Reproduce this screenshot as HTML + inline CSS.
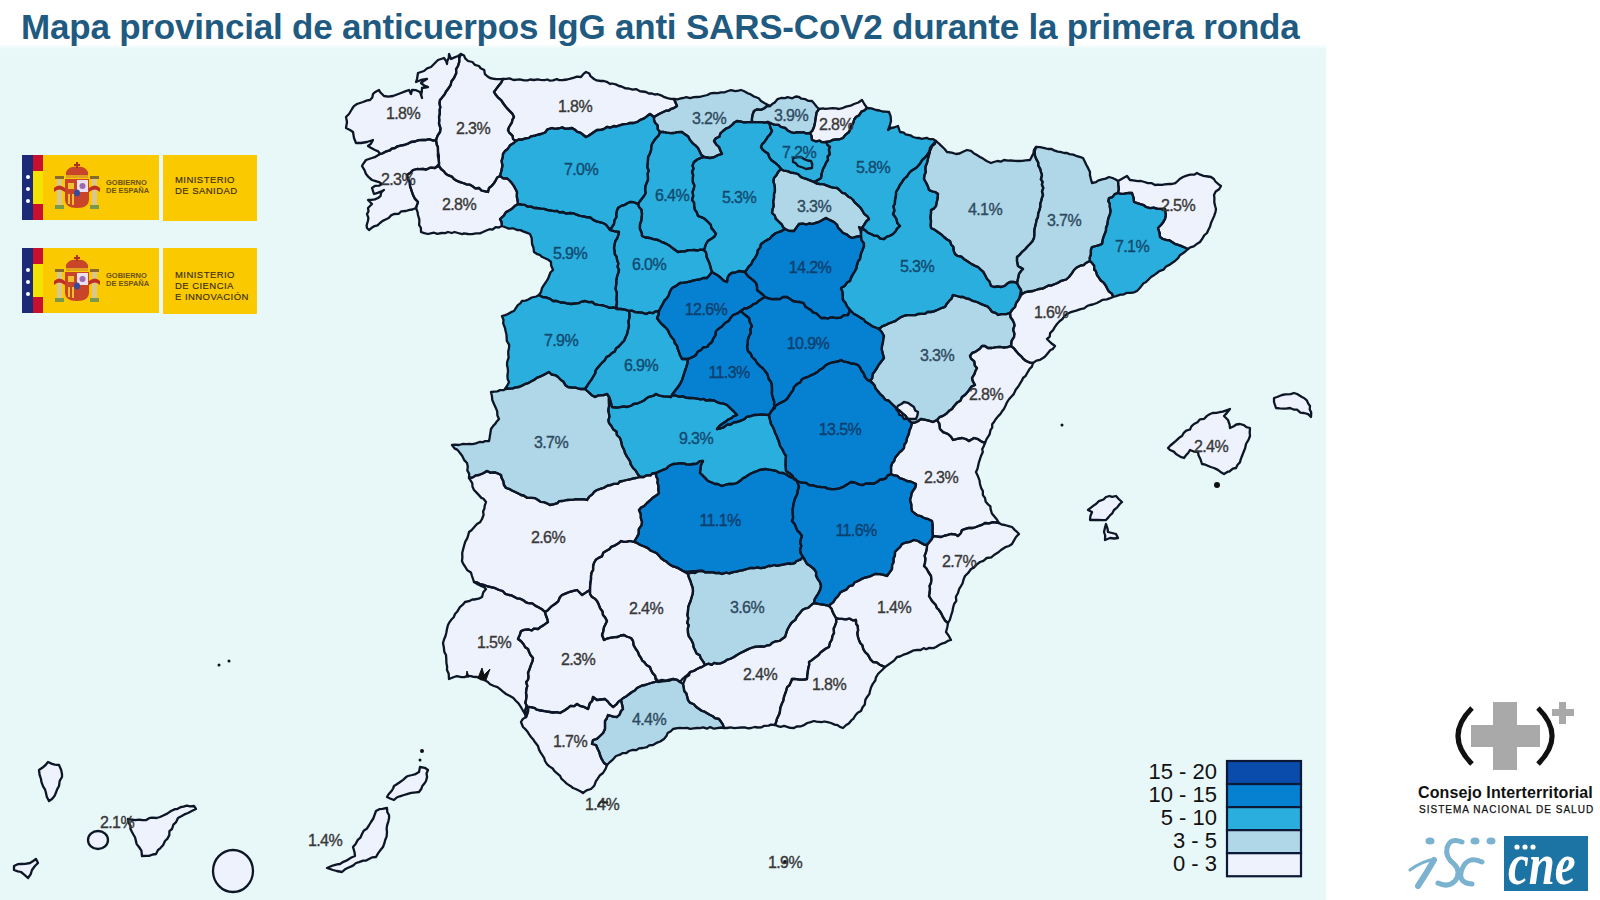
<!DOCTYPE html>
<html><head><meta charset="utf-8"><style>
html,body{margin:0;padding:0;width:1600px;height:900px;overflow:hidden;background:#fff;font-family:"Liberation Sans",sans-serif}
</style></head><body>
<div style="position:absolute;left:0;top:44px;width:1326px;height:856px;background:linear-gradient(#ffffff 0px,#e8f7f8 5px)"></div>
<div style="position:absolute;left:21px;top:7px;font-size:35px;line-height:40px;font-weight:bold;color:#1f5a80;white-space:nowrap;letter-spacing:-0.2px">Mapa provincial de anticuerpos IgG anti SARS-CoV2 durante la primera ronda</div>
<div style="position:absolute;left:22px;top:155px;width:11px;height:65px;background:#1d2a78"></div>
<div style="position:absolute;left:33px;top:155px;width:10px;height:65px;background:#f4e200"></div>
<div style="position:absolute;left:33px;top:155px;width:10px;height:16px;background:#c8102e"></div>
<div style="position:absolute;left:33px;top:204px;width:10px;height:16px;background:#c8102e"></div>
<div style="position:absolute;left:26px;top:175px;width:4px;height:4px;border-radius:2px;background:#fff"></div>
<div style="position:absolute;left:26px;top:187px;width:4px;height:4px;border-radius:2px;background:#fff"></div>
<div style="position:absolute;left:26px;top:199px;width:4px;height:4px;border-radius:2px;background:#fff"></div>
<div style="position:absolute;left:43px;top:155px;width:116px;height:65px;background:#fbc900"></div>
<div style="position:absolute;left:163px;top:155px;width:94px;height:66px;background:#fbc900"></div>
<svg style="position:absolute;left:54px;top:155px" width="50" height="60" viewBox="0 0 50 60">
<path d="M12 23 L12 17 Q15 11 23 12 Q31 11 34 17 L34 23 Z" fill="#c8452a"/>
<rect x="22" y="7" width="2" height="6" fill="#b03020"/><rect x="20" y="9" width="6" height="2" fill="#b03020"/>
<rect x="12" y="20" width="22" height="3" fill="#e0a020"/>
<path d="M11 24 H35 V44 Q35 53 23 53 Q11 53 11 44 Z" fill="#c8452a"/>
<rect x="23" y="25" width="11" height="12" fill="#ece0ec"/>
<circle cx="28.5" cy="31" r="3" fill="#9a6ab0"/>
<rect x="14" y="28" width="6" height="6" fill="#f0c030"/>
<rect x="14" y="39" width="2" height="10" fill="#f0c030"/><rect x="18" y="39" width="2" height="11" fill="#f0c030"/>
<ellipse cx="23" cy="38" rx="3" ry="3.5" fill="#3a4a9a"/>
<rect x="3" y="24" width="5" height="26" fill="#d8c890"/><rect x="1" y="21" width="9" height="3" fill="#8a6a2a"/><rect x="1" y="50" width="9" height="4" fill="#7a9a4a"/>
<rect x="38" y="24" width="5" height="26" fill="#d8c890"/><rect x="36" y="21" width="9" height="3" fill="#8a6a2a"/><rect x="36" y="50" width="9" height="4" fill="#7a9a4a"/>
<path d="M0 33 Q5 28 11 33 L11 37 Q5 32 0 37Z M46 33 Q41 28 35 33 L35 37 Q41 32 46 37Z" fill="#c03020"/>
</svg>
<div style="position:absolute;left:106px;top:179px;font-size:7.5px;line-height:8px;font-weight:bold;color:#6b5214;font-family:'Liberation Sans',sans-serif">GOBIERNO<br>DE ESPAÑA</div>
<div style="position:absolute;left:175px;top:174px;font-size:9.5px;line-height:11px;letter-spacing:0.45px;color:#3a2e10;-webkit-text-stroke:0.15px #3a2e10;font-family:'Liberation Sans',sans-serif">MINISTERIO<br>DE SANIDAD</div>
<div style="position:absolute;left:22px;top:248px;width:11px;height:65px;background:#1d2a78"></div>
<div style="position:absolute;left:33px;top:248px;width:10px;height:65px;background:#f4e200"></div>
<div style="position:absolute;left:33px;top:248px;width:10px;height:16px;background:#c8102e"></div>
<div style="position:absolute;left:33px;top:297px;width:10px;height:16px;background:#c8102e"></div>
<div style="position:absolute;left:26px;top:268px;width:4px;height:4px;border-radius:2px;background:#fff"></div>
<div style="position:absolute;left:26px;top:280px;width:4px;height:4px;border-radius:2px;background:#fff"></div>
<div style="position:absolute;left:26px;top:292px;width:4px;height:4px;border-radius:2px;background:#fff"></div>
<div style="position:absolute;left:43px;top:248px;width:116px;height:65px;background:#fbc900"></div>
<div style="position:absolute;left:163px;top:248px;width:94px;height:66px;background:#fbc900"></div>
<svg style="position:absolute;left:54px;top:248px" width="50" height="60" viewBox="0 0 50 60">
<path d="M12 23 L12 17 Q15 11 23 12 Q31 11 34 17 L34 23 Z" fill="#c8452a"/>
<rect x="22" y="7" width="2" height="6" fill="#b03020"/><rect x="20" y="9" width="6" height="2" fill="#b03020"/>
<rect x="12" y="20" width="22" height="3" fill="#e0a020"/>
<path d="M11 24 H35 V44 Q35 53 23 53 Q11 53 11 44 Z" fill="#c8452a"/>
<rect x="23" y="25" width="11" height="12" fill="#ece0ec"/>
<circle cx="28.5" cy="31" r="3" fill="#9a6ab0"/>
<rect x="14" y="28" width="6" height="6" fill="#f0c030"/>
<rect x="14" y="39" width="2" height="10" fill="#f0c030"/><rect x="18" y="39" width="2" height="11" fill="#f0c030"/>
<ellipse cx="23" cy="38" rx="3" ry="3.5" fill="#3a4a9a"/>
<rect x="3" y="24" width="5" height="26" fill="#d8c890"/><rect x="1" y="21" width="9" height="3" fill="#8a6a2a"/><rect x="1" y="50" width="9" height="4" fill="#7a9a4a"/>
<rect x="38" y="24" width="5" height="26" fill="#d8c890"/><rect x="36" y="21" width="9" height="3" fill="#8a6a2a"/><rect x="36" y="50" width="9" height="4" fill="#7a9a4a"/>
<path d="M0 33 Q5 28 11 33 L11 37 Q5 32 0 37Z M46 33 Q41 28 35 33 L35 37 Q41 32 46 37Z" fill="#c03020"/>
</svg>
<div style="position:absolute;left:106px;top:272px;font-size:7.5px;line-height:8px;font-weight:bold;color:#6b5214;font-family:'Liberation Sans',sans-serif">GOBIERNO<br>DE ESPAÑA</div>
<div style="position:absolute;left:175px;top:269px;font-size:9.5px;line-height:11px;letter-spacing:0.45px;color:#3a2e10;-webkit-text-stroke:0.15px #3a2e10;font-family:'Liberation Sans',sans-serif">MINISTERIO<br>DE CIENCIA<br>E INNOVACIÓN</div>
<svg width="1600" height="900" viewBox="0 0 1600 900" style="position:absolute;left:0;top:0">
<g><polygon points="461.0,54.0 458.0,56.0 454.0,57.6 451.0,59.0 449.0,54.0 448.8,57.7 447.3,60.9 447.0,64.0 446.3,61.4 444.0,58.0 438.0,60.0 434.0,64.0 431.0,67.0 427.1,68.3 424.0,71.0 418.0,73.0 417.0,79.0 416.0,82.0 421.0,80.0 427.0,79.0 423.2,81.3 421.0,83.0 424.3,85.7 428.0,87.0 422.0,88.0 421.8,91.7 421.2,94.7 422.0,98.0 420.0,92.0 416.1,90.2 412.0,90.0 411.0,94.0 409.0,90.0 405.8,91.1 401.0,93.0 397.0,94.5 393.0,96.0 388.3,96.7 384.0,96.0 380.0,92.0 379.0,90.0 375.3,91.9 373.0,94.0 372.3,97.5 370.0,100.0 367.2,100.4 363.0,102.0 357.0,104.0 353.9,106.1 352.0,109.0 349.0,114.0 346.0,117.0 347.0,122.0 346.0,128.0 350.0,130.0 353.0,132.0 354.0,138.0 356.0,143.0 361.0,143.0 367.0,142.0 373.0,140.0 370.8,143.9 368.0,146.0 370.8,147.7 375.0,150.0 378.2,151.4 380.0,154.0 382.2,153.5 386.4,151.3 389.9,150.4 391.7,148.6 395.0,148.0 397.5,146.3 401.5,145.4 404.0,145.0 408.2,143.6 411.0,142.0 415.0,141.5 418.6,140.2 422.6,140.0 426.0,140.0 428.8,139.2 433.4,140.6 436.0,140.0 437.6,135.6 440.0,132.0 440.5,128.3 439.0,123.6 439.3,119.9 439.0,117.0 439.8,113.7 439.7,109.5 440.3,107.5 439.5,103.2 440.0,100.0 441.8,97.9 444.9,94.0 445.9,91.8 448.0,89.0 450.6,85.2 451.4,81.5 454.0,78.0 456.2,73.2 456.1,69.1 458.0,66.0 459.3,61.7 459.2,57.9" fill="#eef2fc"/><polygon points="461.0,54.0 464.0,55.5 465.2,58.3 468.0,61.0 472.4,62.0 474.8,64.8 479.0,66.0 480.6,68.2 484.2,70.0 484.9,74.1 487.6,76.5 490.0,78.0 493.9,78.8 495.7,79.0 500.4,79.2 503.0,79.0 501.0,82.9 499.0,85.2 496.1,89.1 494.0,92.0 495.6,94.6 498.2,97.7 501.3,100.4 503.0,103.0 505.2,106.0 506.7,107.9 509.3,110.6 512.5,113.9 514.0,117.0 512.5,119.6 511.8,122.7 509.1,127.0 508.0,130.0 509.3,132.7 512.6,135.8 513.1,139.1 516.0,141.0 513.0,143.6 510.0,145.3 507.7,149.0 505.3,150.7 503.0,154.0 502.8,157.0 501.6,160.9 502.4,165.5 501.8,169.1 501.2,171.5 500.0,176.0 497.2,177.5 495.1,181.5 493.7,183.5 491.8,185.8 489.0,188.0 488.0,192.0 485.2,191.4 481.4,190.5 479.1,188.0 475.3,188.4 473.0,186.6 469.5,184.6 466.6,184.4 463.0,183.0 460.1,182.1 457.0,180.9 453.9,179.1 451.8,176.6 448.6,175.4 446.0,174.0 443.7,171.1 441.0,169.0 439.0,166.0 439.1,162.3 438.5,158.6 437.8,155.8 438.0,152.0 437.9,147.1 436.8,144.8 436.0,140.0 437.6,135.6 440.0,132.0 440.5,128.3 439.0,123.6 439.3,119.9 439.0,117.0 439.8,113.7 439.7,109.5 440.3,107.5 439.5,103.2 440.0,100.0 441.8,97.9 444.9,94.0 445.9,91.8 448.0,89.0 450.6,85.2 451.4,81.5 454.0,78.0 456.2,73.2 456.1,69.1 458.0,66.0 459.3,61.7 459.2,57.9" fill="#eef2fc"/><polygon points="439.0,166.0 441.0,169.0 443.7,171.1 446.0,174.0 448.6,175.4 451.8,176.6 453.9,179.1 457.0,180.9 460.1,182.1 463.0,183.0 466.6,184.4 469.5,184.6 473.0,186.6 475.3,188.4 479.1,188.0 481.4,190.5 485.2,191.4 488.0,192.0 489.0,188.0 491.8,185.8 493.7,183.5 495.1,181.5 497.2,177.5 500.0,176.0 503.2,178.4 507.3,178.5 510.0,181.0 511.7,182.9 514.1,186.4 515.6,189.2 517.0,192.0 516.8,196.5 517.6,200.7 518.0,204.0 515.5,205.4 512.0,208.7 508.5,210.9 506.0,212.0 503.8,215.7 500.0,219.0 501.5,221.9 502.0,226.0 498.8,227.5 495.6,227.2 492.2,229.7 489.6,229.2 485.7,230.7 483.0,232.0 479.9,233.4 476.1,233.3 471.9,234.1 468.0,234.0 463.9,233.4 462.2,234.2 457.9,233.0 454.6,232.0 451.7,233.0 448.0,232.0 445.2,233.1 441.6,233.0 437.3,233.9 434.2,232.7 431.7,233.2 428.0,234.0 424.3,233.2 421.0,232.0 420.9,228.0 419.1,224.9 419.3,222.3 419.3,219.3 418.0,215.0 417.6,212.2 416.0,208.0 418.0,202.0 414.8,198.6 413.0,195.0 411.7,191.1 410.0,186.0 409.7,181.6 407.9,179.1 407.0,175.0 410.6,172.6 413.0,170.0 417.1,169.0 418.9,169.2 423.0,169.0 426.3,169.5 430.1,167.7 435.0,168.0" fill="#eef2fc"/><polygon points="380.0,154.0 382.2,153.5 386.4,151.3 389.9,150.4 391.7,148.6 395.0,148.0 397.5,146.3 401.5,145.4 404.0,145.0 408.2,143.6 411.0,142.0 415.0,141.5 418.6,140.2 422.6,140.0 426.0,140.0 428.8,139.2 433.4,140.6 436.0,140.0 436.8,144.8 437.9,147.1 438.0,152.0 438.9,155.5 438.8,160.4 439.0,164.0 435.0,168.0 430.1,167.7 426.3,169.5 423.0,169.0 418.9,169.2 417.1,169.0 413.0,170.0 410.6,172.6 407.0,175.0 407.9,179.1 409.7,181.6 410.0,186.0 411.7,191.1 413.0,195.0 414.8,198.6 418.0,202.0 416.0,208.0 412.4,209.5 409.5,209.9 406.0,211.0 401.3,211.3 398.8,213.8 394.0,214.0 391.1,215.4 388.7,218.0 385.1,219.7 382.7,220.9 380.0,223.0 377.5,225.3 374.6,226.1 371.4,228.1 369.0,230.0 367.0,228.0 366.6,225.5 367.9,221.0 368.4,217.8 367.0,214.1 368.5,211.3 368.0,208.0 372.0,204.0 368.0,200.0 371.4,199.9 374.9,199.4 378.0,198.0 380.5,196.1 381.2,192.4 384.0,190.0 380.6,191.7 377.6,192.8 374.0,194.0 372.0,188.0 375.0,185.9 379.1,185.7 382.0,184.0 378.9,182.1 374.9,180.8 372.0,180.0 368.7,177.2 366.0,174.0 364.5,170.1 362.0,166.0 363.4,163.7 366.0,160.0 372.0,158.0 375.5,156.8" fill="#eef2fc"/><polygon points="503.0,79.0 506.5,78.8 509.5,78.4 513.5,80.0 517.3,79.6 519.7,79.4 524.3,80.3 527.6,80.3 530.1,79.5 534.0,80.0 537.5,79.3 540.4,79.8 544.4,80.2 547.4,79.5 549.5,80.6 553.0,80.4 556.8,79.2 559.2,80.1 563.0,80.0 567.2,79.5 570.5,78.6 574.1,77.6 576.9,76.7 581.0,77.0 583.5,73.9 586.0,72.0 589.3,73.5 590.5,76.2 594.0,79.0 596.7,80.4 600.9,81.0 603.9,81.0 606.7,81.8 610.2,84.0 611.9,83.5 615.8,84.4 619.0,86.0 621.5,86.5 625.5,88.4 628.7,88.5 632.7,89.7 636.0,89.1 640.0,91.3 642.6,91.5 646.0,92.0 648.8,93.5 651.5,93.4 654.7,94.5 657.9,94.2 662.3,95.9 664.5,97.2 667.5,98.1 670.7,98.9 674.0,99.0 675.4,102.3 677.0,106.0 674.2,107.9 671.3,108.8 668.8,110.5 665.9,110.7 662.6,112.3 659.0,114.0 654.0,117.0 650.0,114.0 647.5,115.8 644.1,118.4 639.8,120.1 637.9,121.6 634.0,123.0 630.2,122.9 627.4,123.8 623.5,124.2 620.3,125.2 616.6,126.3 614.0,126.0 610.2,127.6 607.3,126.8 604.1,128.8 601.0,129.9 597.0,130.0 594.3,131.7 591.1,134.0 588.4,135.8 586.0,137.0 584.0,135.5 580.7,132.8 577.0,131.7 575.4,130.1 572.0,128.0 569.0,128.5 564.7,128.7 562.7,127.4 558.1,128.5 555.0,128.8 552.0,128.0 547.5,129.3 545.1,132.5 541.0,134.0 538.3,134.5 534.8,135.6 530.9,136.3 529.0,137.8 525.6,138.3 521.6,139.6 519.1,139.3 516.0,141.0 513.1,139.1 512.6,135.8 509.3,132.7 508.0,130.0 509.1,127.0 511.8,122.7 512.5,119.6 514.0,117.0 512.5,113.9 509.3,110.6 506.7,107.9 505.2,106.0 503.0,103.0 501.3,100.4 498.2,97.7 495.6,94.6 494.0,92.0 496.1,89.1 499.0,85.2 501.0,82.9" fill="#eef2fc"/><polygon points="819.0,109.0 823.1,108.4 825.2,108.8 828.1,108.6 832.6,108.2 836.1,108.4 839.0,109.0 843.3,107.8 846.0,106.6 850.6,105.7 854.0,104.0 858.4,102.5 862.0,100.0 863.9,103.3 867.0,108.0 864.7,110.2 861.4,111.6 859.2,115.2 856.0,117.0 854.2,119.5 853.0,123.8 851.0,125.7 850.1,129.4 849.0,132.0 845.1,135.1 843.0,138.0 839.6,139.3 836.4,139.4 832.5,140.0 829.8,141.4 826.0,142.0 821.9,142.2 819.7,140.7 816.0,141.4 812.0,140.0 811.5,135.8 810.0,133.0 812.2,130.9 814.0,127.0 815.0,122.7 815.4,119.7 816.0,116.0 816.6,112.4" fill="#eef2fc"/><polygon points="469.0,478.0 472.8,477.4 476.1,475.3 479.0,475.0 483.3,473.3 487.0,471.0 490.3,472.6 494.8,472.4 497.9,473.5 501.0,475.0 501.4,477.5 503.2,480.9 504.0,485.0 506.0,488.0 509.8,489.2 511.9,490.5 514.7,491.8 518.8,493.8 521.0,495.0 523.6,495.5 527.0,497.8 531.5,497.9 535.0,498.1 538.0,500.0 540.6,501.9 544.0,502.2 546.3,503.1 550.0,505.0 554.3,504.1 557.4,503.2 559.3,501.1 562.7,501.0 567.0,500.0 570.0,499.8 573.8,499.6 576.5,499.2 580.0,499.4 583.7,499.2 587.0,500.0 589.3,496.6 592.6,494.1 594.3,491.7 597.0,490.0 601.1,488.7 603.5,488.0 607.3,485.7 611.0,485.0 613.6,483.9 618.0,483.8 619.8,481.5 622.8,481.0 626.6,480.0 629.9,479.3 633.6,478.4 636.0,478.0 640.0,477.0 643.6,477.0 646.2,475.4 650.5,475.4 652.2,473.5 656.0,473.0 656.1,476.2 657.9,479.8 657.4,482.2 658.5,486.5 658.3,490.0 659.0,493.0 656.9,495.1 653.2,497.4 650.3,500.2 647.0,503.0 644.2,506.0 641.1,507.6 639.0,510.0 640.8,514.2 640.8,518.0 642.0,522.0 641.6,525.2 638.8,529.1 638.7,533.8 637.0,537.0 634.0,542.0 630.0,541.0 626.9,541.7 623.4,541.8 621.0,541.0 618.9,543.1 615.2,545.3 611.2,546.8 609.6,549.0 606.0,551.0 603.2,552.8 602.0,556.4 599.0,557.6 595.8,559.8 594.0,563.0 593.1,566.1 593.1,569.9 591.5,572.8 591.0,576.0 591.0,579.5 590.4,582.6 590.1,586.0 590.0,590.0 586.5,592.1 582.0,595.0 579.6,592.5 577.0,590.0 573.5,590.9 569.9,591.8 565.4,593.6 562.0,595.0 559.9,597.3 558.2,601.4 555.0,604.0 551.8,606.1 550.3,607.5 547.5,610.5 545.0,612.0 542.4,609.6 538.0,607.0 535.6,605.9 532.3,603.4 528.3,603.2 525.7,602.1 523.0,600.0 519.7,598.6 516.8,598.3 511.7,595.4 509.0,595.0 505.2,593.8 502.7,591.0 499.0,590.0 495.3,588.2 490.9,587.1 488.0,586.5 484.0,585.0 480.6,584.5 477.2,582.6 474.0,582.0 472.0,576.0 470.9,572.4 467.4,570.3 465.1,566.7 463.1,563.6 462.0,561.0 462.4,557.1 462.2,553.0 463.2,549.0 464.0,546.0 465.3,541.6 467.2,538.4 468.1,535.7 469.0,532.0 471.5,530.2 475.0,526.3 477.0,524.1 480.0,522.3 482.0,519.0 483.6,514.8 483.1,511.5 484.5,508.2 484.6,506.1 486.0,502.0 483.5,498.8 481.4,497.9 478.2,494.4 476.8,492.9 474.0,490.0 472.5,486.8 472.3,483.3 470.7,480.7" fill="#eef2fc"/><polygon points="634.0,542.0 637.0,542.9 640.4,545.0 644.2,546.5 647.9,548.1 650.9,550.8 654.0,552.0 656.7,553.3 659.4,556.1 661.1,558.2 664.6,560.7 666.0,561.3 669.0,564.0 673.0,566.4 675.1,566.9 678.8,568.4 683.0,571.0 688.0,574.0 688.7,576.9 690.7,581.7 691.3,583.9 692.8,588.2 693.0,591.0 692.7,593.7 691.5,597.8 690.5,601.2 689.2,604.3 688.2,607.2 688.0,611.0 687.4,615.2 688.3,618.4 687.2,622.9 688.7,625.1 687.8,628.5 688.0,633.0 688.7,636.1 691.6,640.4 693.0,643.4 693.7,647.5 695.0,650.0 696.5,653.4 699.8,655.3 700.7,658.1 703.4,661.9 705.0,665.0 701.7,667.1 699.6,667.7 696.5,669.3 693.9,670.9 690.0,672.0 688.0,674.5 685.5,676.4 682.3,679.1 680.0,682.0 677.0,679.8 673.0,679.0 670.0,680.6 665.3,681.0 662.4,681.3 658.0,682.0 655.4,679.0 655.3,676.1 652.5,673.2 651.0,670.0 649.9,667.0 646.4,664.9 644.2,662.0 642.2,660.6 640.8,657.6 639.0,655.0 638.0,652.2 635.5,648.5 633.6,645.1 633.0,640.9 631.0,638.0 626.6,636.5 624.0,635.0 620.8,635.5 617.7,637.0 614.7,637.1 610.0,637.9 607.8,638.3 604.0,640.0 602.0,635.0 603.1,632.0 603.9,627.6 605.1,625.0 607.0,621.0 605.2,617.6 603.0,615.0 602.5,611.5 600.2,608.4 598.5,603.9 597.0,601.0 595.2,598.9 591.7,596.7 590.0,594.0 590.0,590.0 590.1,586.0 590.4,582.6 591.0,579.5 591.0,576.0 591.5,572.8 593.1,569.9 593.1,566.1 594.0,563.0 595.8,559.8 599.0,557.6 602.0,556.4 603.2,552.8 606.0,551.0 609.6,549.0 611.2,546.8 615.2,545.3 618.9,543.1 621.0,541.0 623.4,541.8 626.9,541.7 630.0,541.0" fill="#eef2fc"/><polygon points="705.0,665.0 708.3,663.7 711.7,664.9 714.2,662.9 717.1,663.7 720.3,663.4 724.0,662.0 727.3,659.6 730.0,659.0 733.5,657.3 737.0,655.0 740.4,653.1 743.7,651.4 747.8,649.4 751.0,648.0 754.2,647.0 757.2,646.6 761.3,646.5 764.0,646.7 767.3,645.3 770.0,645.0 772.4,642.7 775.6,641.3 779.6,640.9 782.7,638.5 785.0,637.0 785.8,634.7 787.2,630.2 787.9,628.7 790.0,625.0 791.8,622.5 795.3,619.9 796.8,616.7 800.0,613.0 802.2,610.1 805.3,608.5 808.1,607.9 811.9,604.5 814.0,603.0 818.4,603.9 822.3,604.5 824.6,604.8 829.0,606.0 831.6,608.8 832.7,612.1 833.7,614.1 836.0,618.0 836.3,622.1 835.0,625.7 833.7,628.4 834.0,633.0 832.3,636.3 831.9,639.5 829.9,642.9 829.0,647.0 825.5,648.8 822.5,651.0 820.3,652.7 818.3,655.3 814.7,657.9 811.2,660.6 809.0,662.0 809.2,664.7 808.2,668.4 807.6,673.1 807.2,675.3 807.0,679.0 803.9,679.6 799.3,679.6 794.9,678.8 792.0,679.0 791.1,681.6 789.3,685.4 787.1,687.2 785.9,691.8 785.0,694.0 784.0,696.9 783.2,701.0 781.9,703.6 780.3,707.9 780.0,711.0 779.4,713.7 776.9,718.9 776.3,721.7 775.0,725.0 770.9,724.6 768.8,725.6 764.3,725.8 761.6,727.3 757.7,727.5 754.7,727.0 751.0,728.0 748.2,728.3 744.6,727.4 741.6,727.5 736.7,727.9 734.5,728.1 730.4,727.3 727.0,728.0 724.0,728.0 722.9,724.7 720.6,721.2 719.0,719.0 714.9,718.2 712.7,716.2 709.7,714.7 704.6,711.7 702.0,711.0 698.8,708.7 696.0,706.7 693.8,704.2 689.9,702.6 688.0,700.0 687.0,696.0 686.4,693.6 684.2,690.9 683.8,687.7 683.0,684.0 684.0,681.7 685.8,677.4 689.1,675.3 690.0,672.0 693.9,670.9 696.5,669.3 699.6,667.7 701.7,667.1" fill="#eef2fc"/><polygon points="836.0,618.0 838.8,618.9 842.0,618.9 845.8,619.4 849.4,618.6 852.6,620.3 856.0,620.0 856.1,623.8 857.7,626.0 858.1,630.3 857.3,633.0 858.0,637.0 859.1,640.5 860.4,643.2 862.4,645.2 863.2,648.9 865.0,652.0 867.8,654.7 869.7,657.8 870.2,659.1 873.0,662.0 876.7,662.4 879.6,664.7 881.8,665.6 885.0,667.0 882.7,669.5 880.0,672.0 878.0,674.0 876.0,677.3 875.3,680.5 872.8,683.9 871.1,687.2 870.0,691.0 869.4,693.9 866.4,698.0 865.3,700.1 864.8,704.5 862.6,707.2 861.0,711.0 857.7,712.8 855.3,715.5 853.3,718.8 851.5,720.2 848.8,723.5 846.2,725.0 843.0,728.0 839.9,726.9 837.6,725.2 834.6,724.6 831.0,723.0 827.6,722.2 824.4,721.5 821.6,722.2 816.5,721.6 814.0,721.0 809.8,722.3 807.3,723.0 803.3,725.4 801.1,726.3 796.6,726.5 794.0,728.0 790.2,727.9 787.1,726.8 784.1,725.9 780.6,726.8 778.6,726.3 775.0,725.0 776.3,721.7 776.9,718.9 779.4,713.7 780.0,711.0 780.3,707.9 781.9,703.6 783.2,701.0 784.0,696.9 785.0,694.0 785.9,691.8 787.1,687.2 789.3,685.4 791.1,681.6 792.0,679.0 794.9,678.8 799.3,679.6 803.9,679.6 807.0,679.0 807.2,675.3 807.6,673.1 808.2,668.4 809.2,664.7 809.0,662.0 811.2,660.6 814.7,657.9 818.3,655.3 820.3,652.7 822.5,651.0 825.5,648.8 829.0,647.0 829.9,642.9 831.9,639.5 832.3,636.3 834.0,633.0 833.7,628.4 835.0,625.7 836.3,622.1" fill="#eef2fc"/><polygon points="829.0,606.0 830.5,604.3 833.6,601.8 835.4,598.6 837.8,596.4 840.3,592.6 843.0,591.0 846.4,589.6 849.2,586.2 852.8,585.4 854.5,582.5 858.0,581.0 861.7,578.9 865.2,577.5 867.5,577.1 871.3,575.8 875.0,574.0 879.7,574.2 882.7,574.6 887.0,576.0 889.8,572.1 892.0,569.0 892.1,564.8 893.5,562.5 893.6,558.3 894.9,555.8 895.0,552.0 896.9,550.0 900.2,546.8 902.0,544.0 905.4,542.7 910.2,541.8 914.0,540.0 918.1,541.0 920.7,542.7 923.9,544.6 927.0,545.0 926.9,548.5 925.9,552.4 924.7,555.7 925.4,558.7 924.9,563.3 924.0,566.0 926.5,568.5 928.4,572.0 931.0,576.0 931.3,579.9 931.0,582.9 929.6,585.7 930.0,589.0 929.5,593.2 929.0,596.0 930.2,598.0 932.1,601.1 935.6,604.7 936.9,608.1 938.5,609.3 941.0,613.0 942.6,616.3 945.1,620.6 948.0,623.0 947.3,627.3 946.0,632.0 949.0,636.2 951.0,640.0 948.5,640.6 944.6,642.9 942.5,643.4 939.5,644.7 936.0,647.0 933.5,648.1 929.2,647.9 926.2,649.3 923.7,648.1 920.7,650.0 917.0,650.0 913.8,650.3 910.6,651.9 906.9,653.6 903.5,654.7 899.9,656.5 897.0,657.0 894.3,660.3 891.6,662.3 888.2,664.8 885.0,667.0 881.8,665.6 879.6,664.7 876.7,662.4 873.0,662.0 870.2,659.1 869.7,657.8 867.8,654.7 865.0,652.0 863.2,648.9 862.4,645.2 860.4,643.2 859.1,640.5 858.0,637.0 857.3,633.0 858.1,630.3 857.7,626.0 856.1,623.8 856.0,620.0 852.6,620.3 849.4,618.6 845.8,619.4 842.0,618.9 838.8,618.9 836.0,618.0 833.7,614.1 832.7,612.1 831.6,608.8" fill="#eef2fc"/><polygon points="933.0,536.0 936.3,536.4 941.0,537.0 945.0,535.5 946.9,535.1 951.0,534.0 954.9,534.3 958.0,536.0 960.8,533.2 962.0,530.0 965.5,528.9 968.6,527.9 972.9,528.0 976.0,527.0 979.2,525.7 982.0,524.9 985.0,523.0 989.1,523.4 992.9,522.1 995.3,522.4 999.0,523.0 1002.1,524.7 1004.8,525.0 1009.5,526.3 1012.0,527.0 1014.9,530.1 1016.4,531.3 1019.0,534.0 1016.0,537.0 1013.6,541.1 1012.0,544.0 1009.0,546.0 1005.3,547.2 1001.0,550.0 998.0,552.6 994.0,555.0 991.3,557.4 986.7,558.0 983.4,560.8 980.0,562.0 976.6,564.6 973.8,567.6 971.0,569.0 968.5,572.7 965.0,576.0 963.6,579.4 962.5,583.5 960.5,586.9 959.2,588.9 958.0,593.0 955.9,596.8 956.3,600.8 954.1,604.0 953.0,608.0 952.5,611.1 951.1,615.5 949.8,620.0 948.0,623.0 945.1,620.6 942.6,616.3 941.0,613.0 938.5,609.3 936.9,608.1 935.6,604.7 932.1,601.1 930.2,598.0 929.0,596.0 929.5,593.2 930.0,589.0 929.6,585.7 931.0,582.9 931.3,579.9 931.0,576.0 928.4,572.0 926.5,568.5 924.0,566.0 924.9,563.3 925.4,558.7 924.7,555.7 925.9,552.4 926.9,548.5 927.0,545.0 929.8,541.6 931.7,539.3" fill="#eef2fc"/><polygon points="912.0,423.0 915.7,422.3 917.9,421.2 921.0,419.0 925.5,419.8 928.8,420.6 933.0,422.0 937.0,420.0 939.3,423.6 940.0,429.0 943.1,432.1 948.0,434.0 951.1,436.9 953.0,440.0 958.3,438.6 962.0,438.0 965.8,439.0 969.0,441.0 974.0,438.0 978.1,439.2 981.6,441.6 985.0,443.0 983.5,446.8 982.2,449.1 982.8,452.0 981.0,456.0 979.9,459.3 979.0,462.1 978.2,465.5 977.5,468.8 976.0,472.0 977.6,475.4 979.5,480.4 980.0,484.0 981.2,488.2 982.8,490.8 982.9,495.1 985.0,498.0 985.7,501.8 988.3,504.6 990.4,506.3 990.6,509.1 991.9,513.5 994.0,516.0 996.3,518.7 999.0,523.0 995.3,522.4 992.9,522.1 989.1,523.4 985.0,523.0 982.0,524.9 979.2,525.7 976.0,527.0 972.9,528.0 968.6,527.9 965.5,528.9 962.0,530.0 960.8,533.2 958.0,536.0 954.9,534.3 951.0,534.0 946.9,535.1 945.0,535.5 941.0,537.0 936.3,536.4 933.0,536.0 932.5,531.7 932.7,528.2 932.6,524.6 932.0,521.0 928.4,519.2 924.0,518.0 920.7,516.0 917.4,515.3 914.3,513.0 912.0,511.0 911.4,507.4 911.3,504.4 910.0,500.0 911.0,496.8 911.6,493.2 913.7,489.7 915.3,487.5 916.0,484.0 912.3,482.3 909.9,481.3 906.9,481.0 903.0,479.0 899.7,478.1 897.4,475.9 893.1,475.1 891.0,474.0 891.1,469.7 891.0,467.0 892.2,463.2 894.2,460.9 895.0,458.0 896.6,455.9 899.8,452.1 901.8,450.5 904.0,448.0 904.2,445.0 906.3,441.9 907.0,438.0 908.9,433.8 909.3,430.8 910.9,427.3" fill="#eef2fc"/><polygon points="1011.0,346.0 1014.3,348.7 1016.0,351.0 1018.2,353.6 1021.8,356.8 1022.8,358.4 1026.0,361.0 1030.0,362.6 1033.0,363.0 1031.8,366.9 1029.8,368.7 1027.6,372.3 1025.7,375.8 1023.0,378.0 1022.1,380.2 1020.0,383.6 1018.5,386.2 1015.7,389.7 1015.3,390.8 1013.5,394.4 1011.0,397.0 1008.8,399.5 1007.0,402.3 1005.5,405.7 1003.9,409.0 1001.9,411.5 1000.5,413.9 998.0,416.4 995.5,419.5 994.0,422.0 992.2,424.3 992.2,427.7 990.5,430.1 989.6,434.4 987.5,437.6 986.4,439.4 985.0,443.0 981.6,441.6 978.1,439.2 974.0,438.0 969.0,441.0 965.8,439.0 962.0,438.0 958.3,438.6 953.0,440.0 951.1,436.9 948.0,434.0 943.1,432.1 940.0,429.0 939.3,423.6 937.0,420.0 939.5,417.2 943.0,415.9 946.3,413.8 949.6,410.4 952.0,409.0 953.7,406.5 957.2,402.4 960.4,400.7 962.0,397.0 965.2,394.7 967.8,391.8 969.4,389.4 971.6,386.5 975.0,385.0 972.8,381.2 972.0,378.0 974.4,374.1 975.3,371.3 977.0,368.0 974.9,365.8 974.2,361.3 971.1,358.6 970.0,356.0 972.2,352.8 975.3,351.9 979.8,348.7 982.0,346.0 984.9,346.0 987.8,348.0 992.0,348.0 996.2,347.1 1000.2,346.8 1003.4,347.5 1007.5,347.2" fill="#eef2fc"/><polygon points="1118.0,181.0 1121.7,178.9 1123.3,178.0 1127.0,176.0 1130.0,180.0 1133.2,180.3 1137.7,181.2 1141.0,181.0 1144.5,182.0 1147.9,183.2 1151.8,183.2 1155.0,185.0 1157.6,184.7 1162.2,184.8 1164.5,184.3 1169.3,184.0 1172.0,184.0 1175.3,183.1 1177.7,181.0 1179.7,179.0 1183.0,177.0 1186.6,175.6 1190.3,174.6 1194.2,174.7 1197.0,173.0 1200.2,174.7 1203.5,175.8 1208.0,176.5 1211.0,177.0 1213.9,179.0 1215.4,181.5 1219.0,184.6 1221.0,186.0 1219.1,189.3 1215.7,191.5 1214.0,195.0 1214.4,197.9 1214.3,202.2 1215.2,206.2 1216.0,209.0 1215.5,211.8 1214.1,216.1 1212.4,219.9 1211.0,223.0 1210.1,226.5 1208.3,230.0 1207.0,233.0 1204.2,235.4 1202.5,238.4 1200.0,242.0 1197.6,243.4 1193.7,246.4 1190.3,247.3 1188.0,249.0 1184.1,247.2 1180.9,245.9 1178.8,245.2 1174.8,243.8 1172.0,242.0 1168.9,240.1 1166.9,240.1 1162.9,239.0 1160.0,237.0 1159.7,233.4 1158.0,228.0 1161.2,224.8 1163.1,222.4 1165.0,219.0 1165.9,214.9 1165.5,212.5 1165.0,209.0 1160.8,208.9 1157.6,208.9 1153.8,207.7 1150.2,208.1 1146.0,207.0 1143.7,205.1 1139.7,203.9 1137.3,203.1 1134.0,202.0 1133.7,198.1 1132.0,193.0 1128.7,192.8 1124.3,193.7 1120.9,193.8 1118.0,193.0 1118.8,189.2 1118.3,184.7" fill="#eef2fc"/><polygon points="1022.0,294.0 1025.2,292.2 1029.2,291.5 1033.0,291.0 1039.0,289.0 1042.3,288.7 1044.7,287.6 1048.6,285.4 1050.9,285.6 1055.0,284.0 1057.6,283.0 1061.3,280.8 1066.2,279.5 1069.0,277.0 1072.0,273.1 1074.0,270.0 1076.7,267.5 1080.2,265.7 1083.6,265.2 1085.9,263.0 1090.0,261.0 1092.0,263.0 1094.1,265.6 1094.2,269.6 1095.9,271.2 1097.0,275.0 1099.0,277.8 1100.8,280.5 1103.6,282.6 1106.0,286.0 1107.4,289.0 1108.8,291.3 1112.1,293.9 1113.0,297.0 1110.2,298.1 1106.9,299.3 1102.3,299.8 1100.7,301.0 1096.9,303.0 1092.7,304.5 1090.0,305.0 1087.4,305.9 1084.1,308.4 1080.5,309.1 1076.2,310.7 1073.4,311.3 1070.1,312.4 1067.0,314.0 1064.5,316.0 1062.2,319.3 1059.8,321.0 1057.0,324.0 1054.6,327.4 1053.1,330.1 1050.1,333.1 1049.7,336.7 1047.0,339.0 1051.0,343.0 1055.0,346.0 1052.7,349.2 1050.4,350.0 1047.2,353.9 1045.1,356.5 1043.0,358.0 1040.1,359.8 1036.4,360.6 1033.0,363.0 1030.0,362.6 1026.0,361.0 1022.8,358.4 1021.8,356.8 1018.2,353.6 1016.0,351.0 1014.3,348.7 1011.0,346.0 1011.6,340.9 1014.0,337.0 1014.4,333.6 1013.1,329.7 1014.5,325.7 1014.0,323.0 1012.4,319.8 1010.5,317.2 1010.0,313.0 1012.4,309.5 1015.0,307.0 1016.1,303.2 1019.0,299.0" fill="#eef2fc"/><polygon points="474.0,582.0 477.2,582.6 480.6,584.5 484.0,585.0 488.0,586.5 490.9,587.1 495.3,588.2 499.0,590.0 502.7,591.0 505.2,593.8 509.0,595.0 511.7,595.4 516.8,598.3 519.7,598.6 523.0,600.0 525.7,602.1 528.3,603.2 532.3,603.4 535.6,605.9 538.0,607.0 542.4,609.6 545.0,612.0 545.6,614.5 547.1,618.5 548.0,622.0 544.6,624.4 541.4,626.4 538.0,629.0 533.8,628.6 531.8,630.5 528.1,629.4 524.2,629.8 521.0,631.0 519.8,634.9 518.0,639.0 521.1,641.2 523.4,644.0 525.2,647.2 528.0,649.0 529.2,652.3 530.5,655.0 533.0,658.0 532.6,660.9 530.7,665.6 529.3,669.8 528.0,673.0 528.5,676.8 528.1,679.6 526.1,682.2 527.3,685.9 526.3,689.5 526.0,693.0 526.5,695.9 526.0,700.0 525.3,702.8 526.7,705.8 525.2,710.5 526.3,714.4 526.0,717.0 524.9,713.9 522.0,709.0 520.8,706.8 518.3,703.2 516.0,701.0 513.4,698.1 510.0,696.1 506.0,694.0 502.7,691.4 500.7,689.7 497.5,687.1 494.0,686.0 490.1,684.3 487.6,681.7 484.0,680.0 480.8,679.1 477.0,677.0 473.5,676.9 470.9,676.1 467.0,676.0 464.6,677.1 461.4,677.2 456.8,676.2 454.0,677.0 449.0,679.0 448.7,673.7 447.0,670.0 447.1,666.4 446.4,663.0 446.3,659.1 446.0,655.0 444.3,651.9 443.9,647.8 443.0,643.0 444.1,639.2 445.3,636.6 446.3,632.8 447.0,629.0 447.9,625.2 449.4,622.3 451.2,619.8 453.7,617.3 455.0,614.0 457.1,611.8 459.9,607.1 462.8,604.7 465.0,602.0 468.9,601.2 472.4,599.4 474.3,599.5 478.7,598.7 482.0,597.0 483.3,592.2 486.0,589.0 483.8,586.9 480.8,585.8 477.0,583.9" fill="#eef2fc"/><polygon points="545.0,612.0 547.5,610.5 550.3,607.5 551.8,606.1 555.0,604.0 558.2,601.4 559.9,597.3 562.0,595.0 565.4,593.6 569.9,591.8 573.5,590.9 577.0,590.0 579.6,592.5 582.0,595.0 586.5,592.1 590.0,590.0 590.0,594.0 591.7,596.7 595.2,598.9 597.0,601.0 598.5,603.9 600.2,608.4 602.5,611.5 603.0,615.0 605.2,617.6 607.0,621.0 605.1,625.0 603.9,627.6 603.1,632.0 602.0,635.0 604.0,640.0 607.8,638.3 610.0,637.9 614.7,637.1 617.7,637.0 620.8,635.5 624.0,635.0 626.6,636.5 631.0,638.0 633.0,640.9 633.6,645.1 635.5,648.5 638.0,652.2 639.0,655.0 640.8,657.6 642.2,660.6 644.2,662.0 646.4,664.9 649.9,667.0 651.0,670.0 652.4,672.6 655.0,675.5 655.5,677.6 658.0,681.0 655.2,681.9 651.0,683.0 645.0,685.0 641.6,685.7 637.0,688.0 634.8,690.5 632.0,692.0 630.0,693.5 626.5,696.2 623.2,698.0 621.0,700.0 618.5,701.6 616.5,704.3 613.0,707.0 609.6,703.9 607.9,701.6 605.0,699.0 600.7,699.5 597.0,700.0 593.0,697.0 592.3,700.8 589.9,703.1 588.8,706.7 588.0,709.0 584.6,707.2 579.9,705.8 577.0,704.0 574.3,706.1 570.4,705.9 568.0,708.0 564.8,710.2 560.0,713.0 557.0,712.2 552.8,712.5 550.0,712.0 547.4,711.6 544.5,711.2 540.7,710.5 536.6,709.7 534.8,708.1 530.9,707.2 528.0,707.0 528.1,711.0 527.4,713.4 526.0,717.0 526.3,714.4 525.2,710.5 526.7,705.8 525.3,702.8 526.0,700.0 526.5,695.9 526.0,693.0 526.3,689.5 527.3,685.9 526.1,682.2 528.1,679.6 528.5,676.8 528.0,673.0 529.3,669.8 530.7,665.6 532.6,660.9 533.0,658.0 530.5,655.0 529.2,652.3 528.0,649.0 525.2,647.2 523.4,644.0 521.1,641.2 518.0,639.0 519.8,634.9 521.0,631.0 524.2,629.8 528.1,629.4 531.8,630.5 533.8,628.6 538.0,629.0 541.4,626.4 544.6,624.4 548.0,622.0 547.1,618.5 545.6,614.5" fill="#eef2fc"/><polygon points="528.0,707.0 530.9,707.2 534.8,708.1 536.6,709.7 540.7,710.5 544.5,711.2 547.4,711.6 550.0,712.0 552.8,712.5 557.0,712.2 560.0,713.0 564.8,710.2 568.0,708.0 570.4,705.9 574.3,706.1 577.0,704.0 579.9,705.8 584.6,707.2 588.0,709.0 588.8,706.7 589.9,703.1 592.3,700.8 593.0,697.0 597.0,700.0 600.7,699.5 605.0,699.0 607.9,701.6 609.6,703.9 613.0,707.0 616.5,704.3 618.5,701.6 621.0,700.0 622.0,704.3 623.0,709.0 620.9,711.1 619.7,714.5 617.0,717.0 613.3,716.7 608.0,715.0 606.8,718.5 605.0,721.0 605.0,725.1 605.0,729.0 603.1,733.0 600.0,736.0 596.9,738.8 593.0,740.0 592.0,744.0 596.0,745.0 597.7,749.0 599.3,752.2 600.0,755.0 601.2,758.2 604.0,763.0 607.0,765.0 605.7,768.6 603.0,773.0 600.0,775.2 597.4,779.2 596.0,781.0 594.2,785.8 591.0,789.0 586.5,790.4 583.0,793.0 580.3,791.2 575.7,789.0 573.0,788.0 570.7,786.2 566.7,783.6 564.0,781.0 561.6,778.9 560.1,775.9 556.5,772.8 554.3,770.9 552.7,768.5 549.4,766.4 547.2,764.4 545.0,761.0 544.1,757.8 542.0,754.7 540.5,752.4 539.0,749.6 538.0,746.0 535.1,742.3 533.3,739.6 531.0,737.0 529.2,734.4 527.6,731.8 525.6,729.4 523.0,727.0 521.0,722.0 522.7,719.1 526.0,717.0 527.4,713.4 528.1,711.0" fill="#eef2fc"/><polygon points="1168.0,448.0 1170.4,445.5 1172.8,443.5 1175.6,441.1 1179.4,437.6 1182.0,436.0 1183.8,432.8 1186.2,430.6 1190.0,429.5 1191.4,426.4 1194.0,424.0 1197.5,422.3 1200.0,419.3 1204.2,418.8 1207.0,415.9 1210.0,414.0 1212.6,413.0 1216.8,412.9 1220.0,412.0 1222.7,411.7 1226.5,410.3 1230.0,409.0 1226.7,413.1 1224.0,416.0 1228.0,420.0 1229.6,424.6 1230.0,428.0 1233.8,426.3 1236.3,424.5 1240.0,424.0 1243.9,425.1 1246.4,427.2 1250.0,428.0 1249.7,432.3 1250.0,436.0 1248.6,439.7 1246.0,444.0 1245.1,448.3 1243.8,451.5 1242.0,456.0 1240.8,459.1 1239.9,462.4 1237.6,464.7 1236.0,468.0 1232.8,468.6 1229.3,471.7 1227.7,471.7 1224.0,474.0 1221.4,472.6 1217.9,469.9 1214.0,468.0 1210.7,467.0 1205.4,464.7 1202.0,464.0 1200.5,459.3 1198.5,455.2 1198.0,452.0 1194.4,451.7 1190.0,450.0 1188.2,453.0 1186.3,454.8 1184.0,458.0 1180.6,456.9 1176.0,454.0 1173.8,451.6 1170.0,450.0" fill="#eef2fc"/><polygon points="1274.0,398.0 1277.1,397.0 1282.0,395.0 1285.2,394.4 1290.6,394.2 1294.0,393.0 1297.1,394.0 1301.5,396.8 1304.0,398.0 1306.8,400.4 1308.1,403.3 1310.0,406.0 1309.7,409.3 1311.2,412.6 1311.0,417.0 1308.1,414.1 1304.0,413.0 1300.4,412.6 1297.0,409.7 1294.2,409.7 1290.0,408.0 1286.0,408.7 1283.6,408.7 1279.6,408.4 1276.0,408.0 1274.0,402.0" fill="#eef2fc"/><polygon points="1096.0,504.0 1098.9,501.2 1103.5,499.5 1106.0,497.0 1109.5,496.0 1112.1,496.9 1116.0,496.0 1118.7,499.0 1122.0,502.0 1119.8,504.0 1117.0,507.6 1114.0,510.0 1112.3,513.3 1110.2,515.1 1108.4,517.4 1106.0,520.0 1102.5,520.1 1098.0,520.0 1093.8,520.0 1090.0,520.0 1090.4,516.2 1092.0,512.0 1088.0,510.0 1090.0,508.3 1093.5,505.6" fill="#eef2fc"/><polygon points="1106.0,524.0 1107.6,528.8 1108.0,532.0 1112.1,533.0 1116.0,534.0 1118.0,538.0 1114.3,538.5 1110.0,538.0 1105.0,540.0 1105.2,535.5 1104.0,532.0 1104.8,528.4" fill="#eef2fc"/><polygon points="39.0,770.0 42.3,767.8 45.6,765.0 48.0,762.0 52.0,763.9 54.8,764.6 59.0,765.0 61.1,769.7 62.0,774.0 62.0,777.0 59.7,780.9 59.0,786.0 57.0,789.6 55.9,792.8 54.5,796.1 52.0,799.0 49.0,801.0 46.8,796.7 46.0,793.0 45.1,789.7 43.2,786.7 41.4,781.9 41.0,779.0 39.6,774.9" fill="#eef2fc"/><polygon points="14.0,866.0 17.7,864.2 21.0,864.0 25.2,863.8 30.0,863.0 32.8,861.3 36.0,859.0 38.0,863.0 34.9,866.0 32.0,870.0 30.6,874.4 28.0,878.0 24.5,874.9 21.0,872.0 17.8,871.3 14.0,870.0" fill="#eef2fc"/><polygon points="128.0,819.0 130.7,819.5 135.6,820.2 138.5,819.7 142.0,820.0 145.9,820.2 149.1,818.2 152.0,817.7 156.6,818.0 160.0,817.0 163.8,815.2 167.2,813.6 171.0,811.0 175.1,809.1 177.2,809.1 181.0,807.0 183.5,806.7 186.8,805.6 190.1,806.4 194.0,806.0 196.0,809.0 192.8,810.5 188.0,813.0 184.4,814.4 180.8,816.5 178.0,818.0 176.1,822.1 173.4,824.7 172.0,829.0 169.4,831.1 169.3,835.1 167.5,838.6 165.0,841.0 163.2,845.0 160.2,848.3 158.0,850.0 156.0,854.0 152.8,854.5 149.0,855.9 146.1,855.9 142.0,856.0 141.4,850.7 139.0,847.0 136.7,844.1 135.9,840.9 135.1,837.5 133.5,834.7 132.0,832.0 130.4,828.8 130.6,826.1 128.7,822.8" fill="#eef2fc"/><polygon points="327.0,868.0 331.0,866.3 333.5,865.3 337.1,864.4 340.0,864.0 343.4,861.8 346.3,860.7 349.4,858.7 351.4,857.5 355.0,856.0 354.5,852.1 353.0,847.0 355.6,844.0 357.8,839.9 360.4,837.7 362.0,834.0 363.7,830.8 366.7,828.8 368.9,825.5 371.0,822.0 373.3,818.5 374.6,814.9 376.0,811.0 379.3,809.2 382.4,808.8 387.0,808.0 387.3,812.2 389.0,815.0 389.1,817.9 388.4,821.1 387.1,825.3 386.6,828.7 387.0,832.0 386.6,836.6 385.1,840.3 384.5,842.9 383.0,847.0 380.3,850.3 378.2,853.2 376.0,857.0 372.4,857.3 368.5,859.2 365.7,860.7 363.2,860.7 359.0,862.1 356.0,863.0 353.0,865.6 351.3,866.4 347.0,868.2 344.7,869.6 342.0,872.0 336.7,871.0 333.0,870.0" fill="#eef2fc"/><polygon points="387.0,797.0 388.4,794.5 391.3,791.3 393.1,788.5 394.0,786.0 396.4,784.5 399.4,782.5 403.1,779.9 406.1,777.1 408.0,776.0 412.2,775.0 415.6,774.1 419.0,772.0 420.0,767.0 424.8,767.8 428.0,770.0 426.5,773.5 427.1,777.0 426.0,781.0 424.8,783.0 422.3,786.0 421.4,788.7 419.0,792.0 416.1,792.3 411.2,792.8 407.7,793.8 404.0,795.0 399.8,796.3 396.7,797.5 394.0,800.0 390.1,798.5" fill="#eef2fc"/><polygon points="674.0,99.0 677.4,99.3 680.8,98.3 683.4,98.0 686.3,97.2 690.1,98.1 693.8,97.2 697.0,97.0 699.8,96.8 703.2,96.0 707.5,95.0 710.2,93.4 714.0,93.0 717.8,93.2 720.9,92.4 724.7,92.3 728.0,91.0 730.9,90.2 735.3,91.2 738.5,90.7 741.0,90.0 743.7,91.0 747.8,93.3 750.0,94.0 753.6,96.3 755.5,97.0 758.7,98.3 761.0,101.0 764.3,102.9 767.6,104.7 770.0,106.0 766.7,106.2 764.3,108.3 761.1,109.8 757.2,109.3 754.0,111.0 752.6,114.6 751.9,118.7 752.0,122.0 748.6,122.1 744.0,122.3 739.9,121.4 737.0,121.0 734.4,122.4 732.2,124.8 728.6,127.6 726.2,128.4 723.0,131.0 720.4,133.3 719.3,136.8 715.7,138.4 714.0,141.0 716.4,144.7 719.0,147.0 720.6,151.1 722.0,154.0 718.7,154.8 714.3,157.1 710.0,158.0 704.0,157.0 701.1,154.6 699.7,151.6 698.0,148.0 695.7,145.6 692.8,143.3 690.0,140.0 688.2,136.5 684.2,133.8 682.0,132.0 677.2,132.2 674.0,133.0 670.7,133.1 666.4,132.7 663.8,132.0 660.0,132.0 657.7,129.1 657.7,125.5 655.1,122.7 654.0,120.0 654.0,117.0 659.0,114.0 662.6,112.3 665.9,110.7 668.8,110.5 671.3,108.8 674.2,107.9 677.0,106.0 675.4,102.3" fill="#b0d7e8"/><polygon points="770.0,106.0 773.4,103.2 774.7,102.6 777.6,99.1 781.0,98.0 784.9,98.1 787.7,97.2 792.2,98.3 795.8,96.5 799.0,97.0 801.4,98.7 805.4,99.2 808.5,100.9 812.0,101.0 813.7,102.9 816.7,106.7 819.0,109.0 816.6,112.4 816.0,116.0 815.4,119.7 815.0,122.7 814.0,127.0 812.2,130.9 810.0,133.0 806.1,133.4 804.2,132.4 800.3,132.3 796.7,132.2 794.0,133.0 790.8,132.1 787.6,130.4 785.1,127.9 781.0,127.0 778.6,124.8 774.6,124.8 772.1,123.8 768.0,122.0 764.4,122.7 761.7,122.1 758.4,122.2 755.3,122.1 752.0,122.0 751.9,118.7 752.6,114.6 754.0,111.0 757.2,109.3 761.1,109.8 764.3,108.3 766.7,106.2" fill="#b0d7e8"/><polygon points="781.0,169.0 783.5,170.6 787.4,171.1 791.0,172.6 794.0,173.0 797.9,174.0 800.8,176.9 803.0,178.0 807.1,179.2 810.0,180.4 814.0,182.0 817.1,183.7 819.7,184.0 823.5,184.2 826.3,185.4 831.0,187.1 833.2,187.7 837.0,188.0 838.9,189.5 842.1,192.8 844.8,193.4 848.4,196.7 851.0,198.0 853.1,200.0 854.7,202.4 857.8,205.2 860.2,207.5 862.0,210.0 864.1,213.8 867.4,216.3 869.0,219.0 866.4,221.2 863.9,225.2 862.0,228.0 859.0,227.0 860.6,231.1 861.0,236.0 856.6,236.6 852.0,238.0 849.6,236.9 846.7,234.3 843.0,233.0 840.2,229.8 838.0,227.7 837.1,224.9 834.0,222.0 830.6,220.4 826.0,218.0 822.4,220.0 818.9,221.9 814.9,223.2 812.0,224.0 809.6,223.4 806.2,224.5 803.1,223.6 799.0,224.0 796.7,227.2 794.0,231.0 788.9,230.8 785.0,229.0 783.0,227.0 781.7,224.3 778.2,221.1 775.7,218.6 774.8,215.5 772.0,213.0 772.7,208.8 773.7,206.0 773.2,201.4 774.0,198.0 774.0,193.8 774.9,191.6 774.9,187.6 774.4,184.8 773.4,181.4 774.0,178.0 776.4,175.3 778.2,171.9" fill="#b0d7e8"/><polygon points="505.0,389.0 508.9,388.6 512.8,388.4 515.5,387.4 519.0,387.0 522.0,385.6 525.6,383.8 528.8,382.9 531.5,381.1 534.0,380.0 537.1,377.7 539.3,376.9 543.5,375.0 546.7,373.3 549.0,372.0 551.5,374.5 555.9,375.3 558.0,377.0 561.2,380.2 563.0,381.2 565.4,385.2 568.0,387.0 572.2,387.7 575.4,387.6 580.0,389.0 585.0,389.0 587.8,391.5 590.4,393.9 591.8,395.3 595.0,397.0 598.5,395.4 603.7,395.2 607.0,394.0 609.0,397.0 608.9,400.5 609.0,403.8 609.1,405.9 608.3,410.5 609.0,413.7 609.4,417.0 608.4,420.2 609.0,423.0 611.5,426.2 613.3,429.5 616.4,431.4 616.9,435.0 620.0,438.0 621.0,441.0 622.1,446.0 624.2,450.0 625.0,453.0 627.1,456.9 628.4,458.7 630.2,461.6 630.6,464.2 633.0,468.0 635.6,470.5 638.2,474.8 640.0,477.0 636.0,478.0 633.6,478.4 629.9,479.3 626.6,480.0 622.8,481.0 619.8,481.5 618.0,483.8 613.6,483.9 611.0,485.0 607.3,485.7 603.5,488.0 601.1,488.7 597.0,490.0 594.3,491.7 592.6,494.1 589.3,496.6 587.0,500.0 583.7,499.2 580.0,499.4 576.5,499.2 573.8,499.6 570.0,499.8 567.0,500.0 562.7,501.0 559.3,501.1 557.4,503.2 554.3,504.1 550.0,505.0 546.3,503.1 544.0,502.2 540.6,501.9 538.0,500.0 535.0,498.1 531.5,497.9 527.0,497.8 523.6,495.5 521.0,495.0 518.8,493.8 514.7,491.8 511.9,490.5 509.8,489.2 506.0,488.0 504.0,485.0 503.2,480.9 501.4,477.5 501.0,475.0 497.9,473.5 494.8,472.4 490.3,472.6 487.0,471.0 483.3,473.3 479.0,475.0 476.1,475.3 472.8,477.4 469.0,478.0 469.2,473.9 467.3,470.4 467.8,466.7 467.0,463.0 464.2,460.1 462.1,455.7 460.0,453.0 457.5,449.9 454.5,448.4 452.0,445.0 455.0,444.6 458.8,445.0 463.1,443.8 466.2,444.2 469.0,444.0 472.4,444.2 475.8,443.4 479.5,442.0 483.0,442.2 485.0,441.1 489.0,441.0 489.6,437.9 490.4,432.9 491.0,429.0 493.2,425.8 495.4,423.7 496.4,421.9 499.0,419.0 497.4,415.6 497.2,411.4 495.8,407.9 494.0,404.0 492.2,399.7 492.0,396.5 491.0,392.0 494.4,391.7 497.4,391.4 500.0,390.1 504.0,390.0" fill="#b0d7e8"/><polygon points="688.0,574.0 691.4,572.6 695.2,573.0 698.4,571.3 703.0,571.0 705.3,572.4 709.5,572.1 713.1,572.3 715.6,573.2 719.2,572.9 722.0,574.0 726.1,572.7 729.4,573.3 733.2,572.1 736.4,571.6 739.2,570.8 743.3,570.1 747.0,569.0 750.9,567.8 754.5,568.1 757.0,567.5 760.6,568.1 764.4,567.7 768.4,566.0 771.0,566.0 774.4,565.0 776.8,565.9 780.5,565.2 783.9,564.3 788.6,563.5 791.0,564.0 794.8,563.1 796.3,561.3 800.7,559.4 803.0,557.0 804.6,559.7 807.0,564.0 810.0,565.8 814.0,569.0 816.2,572.3 816.0,575.6 818.1,579.6 819.9,582.0 821.0,586.0 820.2,589.6 818.3,593.5 816.6,596.2 814.6,599.4 814.0,603.0 811.9,604.5 808.1,607.9 805.3,608.5 802.2,610.1 800.0,613.0 796.8,616.7 795.3,619.9 791.8,622.5 790.0,625.0 787.9,628.7 787.2,630.2 785.8,634.7 785.0,637.0 782.7,638.5 779.6,640.9 775.6,641.3 772.4,642.7 770.0,645.0 767.3,645.3 764.0,646.7 761.3,646.5 757.2,646.6 754.2,647.0 751.0,648.0 747.8,649.4 743.7,651.4 740.4,653.1 737.0,655.0 733.5,657.3 730.0,659.0 727.3,659.6 724.0,662.0 720.3,663.4 717.1,663.7 714.2,662.9 711.7,664.9 708.3,663.7 705.0,665.0 703.4,661.9 700.7,658.1 699.8,655.3 696.5,653.4 695.0,650.0 693.7,647.5 693.0,643.4 691.6,640.4 688.7,636.1 688.0,633.0 687.8,628.5 688.7,625.1 687.2,622.9 688.3,618.4 687.4,615.2 688.0,611.0 688.2,607.2 689.2,604.3 690.5,601.2 691.5,597.8 692.7,593.7 693.0,591.0 692.8,588.2 691.3,583.9 690.7,581.7 688.7,576.9" fill="#b0d7e8"/><polygon points="879.0,329.0 882.1,326.4 885.3,325.2 887.7,323.9 891.4,322.5 895.0,321.2 897.6,319.4 901.0,317.0 904.8,315.7 907.2,315.2 911.6,315.2 915.5,315.1 918.0,314.0 921.0,313.8 925.4,313.6 927.5,311.9 931.0,312.0 933.9,311.4 937.2,310.0 942.2,307.8 945.0,307.0 946.7,303.9 949.5,300.5 951.4,298.8 953.0,295.0 956.7,296.0 960.2,297.0 963.0,297.0 966.1,298.4 969.2,299.0 972.7,300.9 977.0,302.0 980.1,303.6 984.2,305.3 987.4,306.4 990.0,309.0 992.0,311.9 996.1,313.1 998.0,315.0 1001.4,314.2 1006.2,314.1 1010.0,313.0 1010.5,317.2 1012.4,319.8 1014.0,323.0 1014.5,325.7 1013.1,329.7 1014.4,333.6 1014.0,337.0 1011.6,340.9 1011.0,346.0 1007.5,347.2 1003.4,347.5 1000.2,346.8 996.2,347.1 992.0,348.0 987.8,348.0 984.9,346.0 982.0,346.0 979.8,348.7 975.3,351.9 972.2,352.8 970.0,356.0 971.1,358.6 974.2,361.3 974.9,365.8 977.0,368.0 975.3,371.3 974.4,374.1 972.0,378.0 972.8,381.2 975.0,385.0 971.6,386.5 969.4,389.4 967.8,391.8 965.2,394.7 962.0,397.0 960.4,400.7 957.2,402.4 953.7,406.5 952.0,409.0 949.6,410.4 946.3,413.8 943.0,415.9 939.5,417.2 937.0,420.0 933.0,422.0 928.8,420.6 925.5,419.8 921.0,419.0 917.9,421.2 915.7,422.3 912.0,423.0 909.3,420.9 907.0,418.0 905.4,415.7 902.8,413.7 899.5,410.5 897.0,409.0 895.3,407.2 892.0,404.0 888.8,400.7 885.4,399.8 882.3,395.8 880.0,394.0 878.4,391.7 875.4,388.2 874.8,385.8 872.5,383.0 870.0,381.0 872.1,378.5 872.9,373.8 874.4,371.9 877.0,368.0 878.4,365.4 881.9,360.8 884.0,358.0 882.8,353.7 881.8,349.4 882.0,346.0 882.9,342.4 883.3,338.8 884.0,336.0 881.6,331.8" fill="#b0d7e8"/><polygon points="936.0,141.0 939.6,144.1 941.1,145.7 944.6,149.0 947.0,152.0 951.7,152.7 956.0,154.0 959.5,153.5 963.0,151.7 967.0,150.0 971.0,150.9 974.0,153.4 976.5,154.7 980.0,157.0 983.0,158.6 986.6,161.0 991.0,163.0 993.8,162.0 997.3,161.0 1001.2,161.6 1004.0,160.0 1008.1,160.7 1010.7,160.5 1015.1,160.8 1018.0,161.0 1022.3,160.9 1025.7,160.4 1030.0,160.0 1031.8,156.4 1033.4,153.6 1033.9,150.1 1036.0,147.0 1034.7,150.8 1035.0,156.0 1036.2,158.9 1038.3,162.7 1038.2,165.4 1040.1,168.6 1041.0,172.0 1042.0,175.0 1040.9,179.4 1042.5,181.7 1041.9,184.8 1043.3,187.9 1042.0,191.4 1043.0,195.0 1042.0,197.6 1041.3,200.6 1040.2,204.1 1040.3,206.9 1039.3,210.5 1038.2,213.3 1037.9,217.4 1036.6,219.6 1036.0,223.0 1034.9,227.6 1034.3,230.3 1034.3,234.6 1034.0,238.0 1032.3,241.5 1029.7,244.3 1027.0,247.0 1025.4,249.0 1021.6,252.4 1019.6,254.8 1017.0,257.0 1017.0,261.3 1018.0,266.0 1023.0,269.0 1021.3,270.7 1019.0,274.0 1018.0,278.7 1017.0,283.0 1014.1,282.0 1010.0,282.0 1007.3,283.6 1004.7,285.9 1001.0,287.0 997.5,286.4 994.4,287.0 991.0,286.0 989.5,281.5 987.1,279.0 985.0,275.0 983.5,272.1 980.7,269.6 978.0,267.0 974.4,265.6 970.6,263.4 967.0,261.0 964.1,259.2 961.4,256.7 957.4,255.9 955.0,254.0 953.9,251.4 953.3,246.8 951.2,244.7 950.0,241.0 947.0,239.5 944.0,237.0 940.7,233.9 938.1,232.3 935.1,230.1 931.0,228.0 930.7,225.0 931.0,221.3 930.5,217.5 931.0,213.4 931.0,210.0 933.9,208.6 936.0,206.0 936.6,202.7 937.6,198.5 938.0,194.0 935.5,192.2 932.5,191.5 929.0,190.0 927.8,186.2 926.4,183.2 924.0,179.0 924.4,175.3 925.8,172.1 925.4,169.7 925.6,166.4 927.0,163.0 927.9,159.2 928.7,155.8 929.8,152.2 930.0,148.0 933.6,143.7" fill="#b0d7e8"/><polygon points="1036.0,147.0 1040.1,147.1 1044.6,148.1 1048.0,149.0 1051.7,149.0 1054.0,150.4 1057.8,151.6 1060.3,151.9 1064.2,153.0 1067.0,153.0 1069.4,154.1 1073.2,154.6 1076.0,155.8 1080.5,157.1 1083.0,158.0 1085.0,161.9 1086.3,164.7 1088.0,167.9 1090.0,172.0 1089.9,175.0 1090.9,179.1 1092.0,183.0 1096.0,182.2 1098.0,180.7 1102.1,179.4 1105.7,178.6 1109.0,177.0 1112.5,178.0 1115.7,179.5 1118.0,181.0 1118.3,184.7 1118.8,189.2 1118.0,193.0 1114.7,194.1 1112.4,197.1 1109.0,198.0 1108.3,201.2 1109.8,203.8 1109.8,206.7 1110.5,210.9 1110.0,214.0 1108.5,217.9 1107.9,220.3 1107.4,224.2 1106.0,228.0 1106.0,230.7 1104.4,234.6 1103.1,238.2 1102.6,240.5 1102.0,244.0 1099.0,245.1 1096.2,246.0 1092.0,247.0 1090.9,249.9 1090.9,254.3 1089.7,257.8 1090.0,261.0 1085.9,263.0 1083.6,265.2 1080.2,265.7 1076.7,267.5 1074.0,270.0 1072.0,273.1 1069.0,277.0 1066.2,279.5 1061.3,280.8 1057.6,283.0 1055.0,284.0 1050.9,285.6 1048.6,285.4 1044.7,287.6 1042.3,288.7 1039.0,289.0 1033.0,291.0 1029.2,291.5 1025.2,292.2 1022.0,294.0 1021.0,290.0 1019.1,287.2 1017.0,283.0 1018.0,278.7 1019.0,274.0 1021.3,270.7 1023.0,269.0 1018.0,266.0 1017.0,261.3 1017.0,257.0 1019.6,254.8 1021.6,252.4 1025.4,249.0 1027.0,247.0 1029.7,244.3 1032.3,241.5 1034.0,238.0 1034.3,234.6 1034.3,230.3 1034.9,227.6 1036.0,223.0 1036.6,219.6 1037.9,217.4 1038.2,213.3 1039.3,210.5 1040.3,206.9 1040.2,204.1 1041.3,200.6 1042.0,197.6 1043.0,195.0 1042.0,191.4 1043.3,187.9 1041.9,184.8 1042.5,181.7 1040.9,179.4 1042.0,175.0 1041.0,172.0 1040.1,168.6 1038.2,165.4 1038.3,162.7 1036.2,158.9 1035.0,156.0 1034.7,150.8" fill="#b0d7e8"/><polygon points="658.0,681.0 661.9,679.8 665.9,680.7 669.3,679.6 673.0,679.0 677.0,679.8 680.0,682.0 683.0,684.0 683.8,687.7 684.2,690.9 686.4,693.6 687.0,696.0 688.0,700.0 689.9,702.6 693.8,704.2 696.0,706.7 698.8,708.7 702.0,711.0 704.6,711.7 709.7,714.7 712.7,716.2 714.9,718.2 719.0,719.0 720.6,721.2 722.9,724.7 724.0,728.0 721.3,727.5 717.2,728.2 714.0,728.7 710.1,727.1 707.0,728.7 703.1,727.3 699.9,728.1 697.0,728.0 693.6,728.3 690.0,728.8 687.3,727.8 683.0,728.1 680.0,728.0 677.4,728.1 673.0,729.0 670.8,731.3 667.6,733.1 666.4,736.1 664.0,739.0 660.2,741.5 657.2,742.6 653.0,745.0 649.1,745.3 647.0,747.1 643.0,748.0 638.8,748.4 636.4,750.1 632.8,749.8 629.0,751.0 626.4,753.0 622.4,753.1 620.1,754.7 616.0,756.0 613.1,759.3 610.2,761.8 607.0,765.0 604.0,763.0 601.2,758.2 600.0,755.0 599.3,752.2 597.7,749.0 596.0,745.0 592.0,744.0 593.0,740.0 596.9,738.8 600.0,736.0 603.1,733.0 605.0,729.0 605.0,725.1 605.0,721.0 606.8,718.5 608.0,715.0 613.3,716.7 617.0,717.0 619.7,714.5 620.9,711.1 623.0,709.0 622.0,704.3 621.0,700.0 623.2,698.0 626.5,696.2 630.0,693.5 632.0,692.0 634.8,690.5 637.0,688.0 641.6,685.7 645.0,685.0 651.0,683.0 655.2,681.9" fill="#b0d7e8"/><polygon points="768.0,122.0 772.1,123.8 774.6,124.8 778.6,124.8 781.0,127.0 785.1,127.9 787.6,130.4 790.8,132.1 794.0,133.0 796.7,132.2 800.3,132.3 804.2,132.4 806.1,133.4 810.0,133.0 811.5,135.8 812.0,140.0 816.0,141.4 819.7,140.7 821.9,142.2 826.0,142.0 827.7,145.2 830.0,147.0 828.9,149.5 829.8,154.3 827.7,156.3 828.0,160.0 826.3,162.2 824.9,165.5 823.0,169.0 821.7,173.5 821.0,178.0 817.4,180.4 814.0,182.0 810.0,180.4 807.1,179.2 803.0,178.0 800.8,176.9 797.9,174.0 794.0,173.0 791.0,172.6 787.4,171.1 783.5,170.6 781.0,169.0 778.8,166.0 776.1,163.6 774.0,162.0 771.5,160.3 769.2,157.1 768.2,153.7 765.2,151.8 762.4,149.4 761.0,147.0 762.3,143.9 764.1,142.3 766.8,138.5 767.7,136.9 770.3,133.9 772.0,131.0 770.3,127.4 769.7,124.3" fill="#2aaedd"/><polygon points="867.0,108.0 871.4,108.3 876.0,110.0 879.5,110.5 882.4,111.5 885.0,111.6 889.0,112.0 890.6,116.2 891.0,121.0 889.6,126.3 888.0,130.0 890.8,128.0 893.9,127.5 898.0,126.0 900.0,132.0 903.9,132.7 905.6,134.4 910.4,135.3 913.0,137.0 916.7,138.0 918.9,137.8 921.8,138.8 926.7,137.8 929.0,139.0 933.2,139.2 936.0,141.0 934.6,144.1 932.2,145.7 930.3,150.1 929.0,152.0 927.4,154.7 925.1,157.4 922.3,159.9 920.0,163.7 918.0,166.0 915.9,168.1 911.5,170.7 909.1,173.0 907.0,176.4 904.0,179.0 901.8,182.3 899.6,185.5 898.6,187.9 896.0,192.0 896.0,195.3 895.0,200.0 894.9,203.5 893.5,206.2 894.4,210.8 893.0,214.0 895.6,217.6 896.5,219.4 897.4,223.2 900.0,226.0 896.8,228.9 896.1,230.7 893.0,234.0 889.5,236.0 887.0,236.6 884.0,239.0 880.3,238.6 877.5,235.9 874.3,235.8 871.0,234.0 867.8,232.7 865.0,230.2 862.0,228.0 863.9,225.2 866.4,221.2 869.0,219.0 867.4,216.3 864.1,213.8 862.0,210.0 860.2,207.5 857.8,205.2 854.7,202.4 853.1,200.0 851.0,198.0 848.4,196.7 844.8,193.4 842.1,192.8 838.9,189.5 837.0,188.0 833.2,187.7 831.0,187.1 826.3,185.4 823.5,184.2 819.7,184.0 817.1,183.7 814.0,182.0 817.4,180.4 821.0,178.0 821.7,173.5 823.0,169.0 824.9,165.5 826.3,162.2 828.0,160.0 827.7,156.3 829.8,154.3 828.9,149.5 830.0,147.0 827.7,145.2 826.0,142.0 829.8,141.4 832.5,140.0 836.4,139.4 839.6,139.3 843.0,138.0 845.1,135.1 849.0,132.0 850.1,129.4 851.0,125.7 853.0,123.8 854.2,119.5 856.0,117.0 859.2,115.2 861.4,111.6 864.7,110.2" fill="#2aaedd"/><polygon points="516.0,141.0 519.1,139.3 521.6,139.6 525.6,138.3 529.0,137.8 530.9,136.3 534.8,135.6 538.3,134.5 541.0,134.0 545.1,132.5 547.5,129.3 552.0,128.0 555.0,128.8 558.1,128.5 562.7,127.4 564.7,128.7 569.0,128.5 572.0,128.0 575.4,130.1 577.0,131.7 580.7,132.8 584.0,135.5 586.0,137.0 588.4,135.8 591.1,134.0 594.3,131.7 597.0,130.0 601.0,129.9 604.1,128.8 607.3,126.8 610.2,127.6 614.0,126.0 616.6,126.3 620.3,125.2 623.5,124.2 627.4,123.8 630.2,122.9 634.0,123.0 637.9,121.6 639.8,120.1 644.1,118.4 647.5,115.8 650.0,114.0 654.0,117.0 654.0,120.0 655.1,122.7 657.7,125.5 657.7,129.1 660.0,132.0 658.7,135.4 655.9,138.2 654.0,140.8 652.0,144.0 651.2,147.3 651.1,150.0 649.7,154.1 648.1,156.8 648.0,160.0 647.8,162.8 647.3,167.2 648.7,170.7 647.7,173.3 647.9,176.0 648.0,180.0 646.8,182.5 645.5,186.0 645.1,189.5 645.6,193.2 644.0,196.0 641.2,199.5 640.3,200.7 638.0,204.0 633.8,202.2 630.0,202.0 627.3,203.3 624.8,204.9 621.2,205.9 618.0,208.0 617.0,210.5 616.2,214.5 616.5,217.0 614.4,220.5 614.0,224.0 612.1,226.8 610.0,230.0 608.3,227.6 606.0,224.7 603.0,223.0 599.4,222.1 596.4,221.4 593.2,219.9 590.3,217.5 586.0,217.0 582.0,216.2 579.9,215.9 575.9,214.4 573.4,213.3 570.2,213.0 565.8,213.6 563.0,212.0 559.3,212.4 557.2,210.8 554.2,211.2 550.9,210.5 547.8,210.2 544.0,208.9 540.8,208.7 536.7,208.0 534.0,208.0 531.2,206.6 527.4,206.6 525.0,204.8 521.9,204.7 518.0,204.0 517.6,200.7 516.8,196.5 517.0,192.0 515.6,189.2 514.1,186.4 511.7,182.9 510.0,181.0 507.3,178.5 503.2,178.4 500.0,176.0 501.2,171.5 501.8,169.1 502.4,165.5 501.6,160.9 502.8,157.0 503.0,154.0 505.3,150.7 507.7,149.0 510.0,145.3 513.0,143.6" fill="#2aaedd"/><polygon points="660.0,132.0 663.8,132.0 666.4,132.7 670.7,133.1 674.0,133.0 677.2,132.2 682.0,132.0 684.2,133.8 688.2,136.5 690.0,140.0 692.8,143.3 695.7,145.6 698.0,148.0 699.7,151.6 701.1,154.6 704.0,157.0 700.9,157.9 697.3,159.5 694.0,162.0 692.5,165.6 693.5,168.5 692.0,172.0 693.1,174.7 692.8,178.8 692.9,182.2 694.3,185.2 694.0,188.0 692.6,191.8 693.2,195.9 692.0,200.0 694.1,202.6 694.1,205.7 694.9,209.7 696.7,212.1 698.0,216.0 701.7,217.3 705.0,219.1 708.0,222.0 710.8,224.9 711.4,228.1 713.5,230.4 716.0,234.0 714.2,236.8 710.9,239.1 707.8,241.0 706.0,244.0 704.0,250.0 700.3,249.7 697.8,250.5 694.0,250.0 691.7,250.1 688.3,250.1 684.8,251.4 681.9,251.3 678.0,252.0 674.8,249.7 672.1,247.8 670.0,246.0 667.1,244.2 664.3,242.9 661.4,241.8 658.0,240.0 653.3,239.1 650.0,238.0 645.5,237.5 642.0,236.0 641.8,232.9 639.9,228.8 640.0,224.0 641.2,221.0 641.8,216.5 642.0,214.0 641.5,209.8 639.2,207.2 638.0,204.0 640.3,200.7 641.2,199.5 644.0,196.0 645.6,193.2 645.1,189.5 645.5,186.0 646.8,182.5 648.0,180.0 647.9,176.0 647.7,173.3 648.7,170.7 647.3,167.2 647.8,162.8 648.0,160.0 648.1,156.8 649.7,154.1 651.1,150.0 651.2,147.3 652.0,144.0 654.0,140.8 655.9,138.2 658.7,135.4" fill="#2aaedd"/><polygon points="704.0,157.0 710.0,158.0 714.3,157.1 718.7,154.8 722.0,154.0 720.6,151.1 719.0,147.0 716.4,144.7 714.0,141.0 715.7,138.4 719.3,136.8 720.4,133.3 723.0,131.0 726.2,128.4 728.6,127.6 732.2,124.8 734.4,122.4 737.0,121.0 739.9,121.4 744.0,122.3 748.6,122.1 752.0,122.0 755.3,122.1 758.4,122.2 761.7,122.1 764.4,122.7 768.0,122.0 769.7,124.3 770.3,127.4 772.0,131.0 770.3,133.9 767.7,136.9 766.8,138.5 764.1,142.3 762.3,143.9 761.0,147.0 762.4,149.4 765.2,151.8 768.2,153.7 769.2,157.1 771.5,160.3 774.0,162.0 776.1,163.6 778.8,166.0 781.0,169.0 778.2,171.9 776.4,175.3 774.0,178.0 773.4,181.4 774.4,184.8 774.9,187.6 774.9,191.6 774.0,193.8 774.0,198.0 773.2,201.4 773.7,206.0 772.7,208.8 772.0,213.0 774.8,215.5 775.7,218.6 778.2,221.1 781.7,224.3 783.0,227.0 785.0,229.0 781.5,231.1 779.1,231.8 775.1,233.5 772.0,236.0 769.6,238.8 767.2,239.9 764.4,241.6 761.0,244.0 760.2,247.6 757.7,250.5 757.2,253.7 755.0,258.0 752.7,260.7 751.2,264.4 748.6,266.6 747.4,268.8 745.0,272.0 739.0,271.0 735.9,272.3 731.6,273.0 729.0,275.0 727.6,277.7 727.0,282.0 723.3,280.4 721.0,278.0 717.9,275.4 715.0,273.8 712.0,272.0 710.8,268.4 709.6,263.6 708.0,260.0 706.7,257.1 706.0,252.5 704.0,250.0 706.0,244.0 707.8,241.0 710.9,239.1 714.2,236.8 716.0,234.0 713.5,230.4 711.4,228.1 710.8,224.9 708.0,222.0 705.0,219.1 701.7,217.3 698.0,216.0 696.7,212.1 694.9,209.7 694.1,205.7 694.1,202.6 692.0,200.0 693.2,195.9 692.6,191.8 694.0,188.0 694.3,185.2 692.9,182.2 692.8,178.8 693.1,174.7 692.0,172.0 693.5,168.5 692.5,165.6 694.0,162.0 697.3,159.5 700.9,157.9" fill="#2aaedd"/><polygon points="518.0,204.0 521.9,204.7 525.0,204.8 527.4,206.6 531.2,206.6 534.0,208.0 536.7,208.0 540.8,208.7 544.0,208.9 547.8,210.2 550.9,210.5 554.2,211.2 557.2,210.8 559.3,212.4 563.0,212.0 565.8,213.6 570.2,213.0 573.4,213.3 575.9,214.4 579.9,215.9 582.0,216.2 586.0,217.0 590.3,217.5 593.2,219.9 596.4,221.4 599.4,222.1 603.0,223.0 606.0,224.7 608.3,227.6 610.0,230.0 615.0,231.3 619.0,232.0 618.2,235.4 617.3,238.1 615.4,241.0 614.6,244.4 614.0,248.0 614.7,251.5 614.8,254.2 616.6,256.6 617.1,260.2 618.3,263.4 617.6,266.9 619.0,270.0 618.2,273.1 617.1,276.4 616.3,280.4 616.3,283.4 616.0,286.0 615.6,289.2 616.9,292.9 616.7,296.7 616.5,300.0 617.0,301.9 616.3,306.5 617.0,309.0 613.6,307.3 609.8,307.9 605.0,306.0 602.0,305.2 598.3,304.8 594.4,304.1 592.5,302.0 588.5,302.2 585.0,301.0 581.2,301.8 578.6,303.2 574.4,303.5 571.0,304.0 567.1,303.4 564.0,302.6 560.7,302.5 556.7,301.0 553.0,301.0 550.1,298.8 546.0,297.4 542.5,297.0 539.0,295.0 541.0,292.0 542.0,288.1 543.5,285.6 546.0,282.0 547.8,279.2 548.9,276.5 550.4,272.5 553.0,270.0 551.1,265.3 551.0,262.0 548.2,259.7 545.1,258.3 541.7,256.7 540.3,255.2 537.4,254.2 534.0,252.0 533.5,247.8 532.1,244.3 531.9,241.2 531.7,238.1 530.0,234.0 526.5,232.7 523.1,231.4 520.5,230.1 517.0,230.0 513.1,228.3 508.6,228.6 506.6,227.8 502.0,226.0 501.5,221.9 500.0,219.0 503.8,215.7 506.0,212.0 508.5,210.9 512.0,208.7 515.5,205.4" fill="#2aaedd"/><polygon points="610.0,230.0 612.1,226.8 614.0,224.0 614.4,220.5 616.5,217.0 616.2,214.5 617.0,210.5 618.0,208.0 621.2,205.9 624.8,204.9 627.3,203.3 630.0,202.0 633.8,202.2 638.0,204.0 639.2,207.2 641.5,209.8 642.0,214.0 641.8,216.5 641.2,221.0 640.0,224.0 639.9,228.8 641.8,232.9 642.0,236.0 645.5,237.5 650.0,238.0 653.3,239.1 658.0,240.0 661.4,241.8 664.3,242.9 667.1,244.2 670.0,246.0 672.1,247.8 674.8,249.7 678.0,252.0 681.9,251.3 684.8,251.4 688.3,250.1 691.7,250.1 694.0,250.0 697.8,250.5 700.3,249.7 704.0,250.0 706.0,252.5 706.7,257.1 708.0,260.0 709.6,263.6 710.8,268.4 712.0,272.0 709.0,275.7 707.0,278.0 703.4,278.0 699.9,279.3 696.3,279.9 693.6,280.4 690.5,281.3 687.2,282.1 682.9,282.8 680.0,283.0 675.9,286.0 672.0,288.0 669.8,291.8 668.8,295.2 667.0,298.0 664.2,300.9 662.4,304.7 660.8,307.4 659.0,311.0 654.9,311.7 653.1,313.2 648.7,312.7 646.0,314.0 642.0,312.7 639.0,312.4 635.1,312.1 632.3,310.7 629.0,311.0 625.0,309.6 620.9,309.0 617.0,309.0 616.3,306.5 617.0,301.9 616.5,300.0 616.7,296.7 616.9,292.9 615.6,289.2 616.0,286.0 616.3,283.4 616.3,280.4 617.1,276.4 618.2,273.1 619.0,270.0 617.6,266.9 618.3,263.4 617.1,260.2 616.6,256.6 614.8,254.2 614.7,251.5 614.0,248.0 614.6,244.4 615.4,241.0 617.3,238.1 618.2,235.4 619.0,232.0 615.0,231.3" fill="#2aaedd"/><polygon points="539.0,295.0 542.5,297.0 546.0,297.4 550.1,298.8 553.0,301.0 556.7,301.0 560.7,302.5 564.0,302.6 567.1,303.4 571.0,304.0 574.4,303.5 578.6,303.2 581.2,301.8 585.0,301.0 588.5,302.2 592.5,302.0 594.4,304.1 598.3,304.8 602.0,305.2 605.0,306.0 609.8,307.9 613.6,307.3 617.0,309.0 620.9,309.0 625.0,309.6 629.0,311.0 629.4,314.0 629.4,317.8 628.4,321.5 629.0,326.0 627.9,330.3 627.1,333.9 625.8,336.8 624.0,341.0 621.9,342.9 618.7,346.5 616.0,348.4 614.8,351.5 612.0,353.0 609.6,355.4 606.5,357.1 604.4,360.7 602.5,362.3 600.0,365.0 597.5,368.0 595.6,370.4 595.2,373.4 593.0,377.0 591.3,379.8 588.7,383.4 587.4,385.5 585.0,389.0 580.0,389.0 575.4,387.6 572.2,387.7 568.0,387.0 565.4,385.2 563.0,381.2 561.2,380.2 558.0,377.0 555.9,375.3 551.5,374.5 549.0,372.0 546.7,373.3 543.5,375.0 539.3,376.9 537.1,377.7 534.0,380.0 531.5,381.1 528.8,382.9 525.6,383.8 522.0,385.6 519.0,387.0 515.5,387.4 512.8,388.4 508.9,388.6 505.0,389.0 507.5,385.2 509.0,382.0 507.7,379.3 507.4,376.0 508.0,371.4 507.8,368.5 507.0,365.0 507.2,361.9 508.6,357.7 508.3,354.3 508.2,351.7 509.0,348.0 509.2,344.9 506.8,340.8 506.7,338.6 506.5,334.8 505.7,331.4 505.0,328.0 503.2,323.4 503.5,319.8 502.0,316.0 505.2,315.1 507.5,314.2 511.5,311.9 514.0,311.0 515.8,308.2 517.8,305.1 520.3,303.4 522.0,301.0 525.6,300.6 528.3,299.5 531.7,297.5 536.4,296.5" fill="#2aaedd"/><polygon points="629.0,311.0 632.3,310.7 635.1,312.1 639.0,312.4 642.0,312.7 646.0,314.0 648.7,312.7 653.1,313.2 654.9,311.7 659.0,311.0 658.7,314.2 657.0,318.0 659.0,321.0 662.3,324.7 665.0,327.0 668.0,330.3 669.4,333.7 671.3,337.0 674.0,340.0 674.6,342.8 677.1,346.0 677.7,348.9 679.0,352.0 679.8,354.7 682.0,359.0 688.0,359.0 687.4,363.3 686.0,368.0 684.6,372.0 683.0,377.0 682.2,379.7 680.0,384.0 678.0,387.0 676.0,389.5 673.7,392.5 672.0,395.0 671.0,397.0 667.6,396.7 663.6,396.3 659.0,395.6 656.0,394.0 653.6,395.7 649.2,396.8 646.8,398.1 644.4,400.2 641.0,402.0 636.7,403.7 633.5,404.0 631.4,405.6 627.0,407.0 623.6,406.3 620.3,407.2 616.6,407.7 612.0,407.0 611.0,403.0 610.0,399.5 609.0,397.0 607.0,394.0 603.7,395.2 598.5,395.4 595.0,397.0 591.8,395.3 590.4,393.9 587.8,391.5 585.0,389.0 587.4,385.5 588.7,383.4 591.3,379.8 593.0,377.0 595.2,373.4 595.6,370.4 597.5,368.0 600.0,365.0 602.5,362.3 604.4,360.7 606.5,357.1 609.6,355.4 612.0,353.0 614.8,351.5 616.0,348.4 618.7,346.5 621.9,342.9 624.0,341.0 625.8,336.8 627.1,333.9 627.9,330.3 629.0,326.0 628.4,321.5 629.4,317.8 629.4,314.0" fill="#2aaedd"/><polygon points="609.0,397.0 610.0,399.5 611.0,403.0 612.0,407.0 616.6,407.7 620.3,407.2 623.6,406.3 627.0,407.0 631.4,405.6 633.5,404.0 636.7,403.7 641.0,402.0 644.4,400.2 646.8,398.1 649.2,396.8 653.6,395.7 656.0,394.0 659.0,395.6 663.6,396.3 667.6,396.7 671.0,397.0 672.0,395.0 675.6,395.5 679.4,396.8 682.9,396.3 686.3,397.9 690.0,398.0 693.7,398.1 695.9,398.4 700.8,399.5 703.9,398.8 705.9,400.5 710.0,400.0 714.1,400.5 717.4,402.3 719.8,403.2 724.0,403.7 727.0,405.0 729.2,407.2 732.3,410.2 734.2,411.9 737.0,415.0 733.3,416.3 731.7,418.0 727.7,419.8 725.3,421.8 722.0,424.0 719.4,425.9 717.0,429.0 720.1,428.5 723.7,427.3 727.2,424.6 730.7,424.5 733.8,422.4 737.0,422.0 739.6,421.1 744.3,419.3 746.7,416.9 750.8,416.2 754.0,415.0 758.0,414.8 761.9,414.5 765.6,414.8 769.0,415.0 770.0,420.0 771.0,424.0 772.9,427.0 774.2,430.1 775.2,433.2 776.8,436.3 777.8,439.0 779.0,442.0 780.0,445.8 781.9,448.6 784.2,453.3 786.0,456.0 785.7,459.5 785.6,464.1 785.8,467.9 786.0,471.0 789.1,472.9 792.2,475.3 794.0,479.3 797.0,481.0 794.8,478.6 790.6,477.2 789.4,476.6 786.3,474.5 783.0,473.0 779.5,472.9 775.9,470.8 772.3,470.2 768.8,469.6 766.0,469.0 762.3,469.5 758.8,470.2 755.5,471.7 752.0,473.0 749.1,474.5 745.3,477.1 743.0,478.2 740.8,480.3 737.0,483.0 733.4,484.0 729.0,483.8 726.3,484.5 722.0,486.0 717.6,484.0 714.9,484.0 711.8,482.5 708.0,481.0 705.1,477.9 703.4,476.2 700.0,473.0 700.4,469.3 701.1,464.8 703.0,461.0 699.8,461.1 696.4,463.8 693.0,464.0 689.5,464.6 686.3,464.4 683.6,463.3 680.2,463.2 676.0,463.9 673.0,464.0 668.9,466.0 666.0,469.0 663.3,469.7 659.4,471.4 656.0,473.0 652.2,473.5 650.5,475.4 646.2,475.4 643.6,477.0 640.0,477.0 638.2,474.8 635.6,470.5 633.0,468.0 630.6,464.2 630.2,461.6 628.4,458.7 627.1,456.9 625.0,453.0 624.2,450.0 622.1,446.0 621.0,441.0 620.0,438.0 616.9,435.0 616.4,431.4 613.3,429.5 611.5,426.2 609.0,423.0 608.4,420.2 609.4,417.0 609.0,413.7 608.3,410.5 609.1,405.9 609.0,403.8 608.9,400.5" fill="#2aaedd"/><polygon points="936.0,141.0 933.6,143.7 930.0,148.0 929.8,152.2 928.7,155.8 927.9,159.2 927.0,163.0 925.6,166.4 925.4,169.7 925.8,172.1 924.4,175.3 924.0,179.0 926.4,183.2 927.8,186.2 929.0,190.0 932.5,191.5 935.5,192.2 938.0,194.0 937.6,198.5 936.6,202.7 936.0,206.0 933.9,208.6 931.0,210.0 931.0,213.4 930.5,217.5 931.0,221.3 930.7,225.0 931.0,228.0 935.1,230.1 938.1,232.3 940.7,233.9 944.0,237.0 947.0,239.5 950.0,241.0 951.2,244.7 953.3,246.8 953.9,251.4 955.0,254.0 957.4,255.9 961.4,256.7 964.1,259.2 967.0,261.0 970.6,263.4 974.4,265.6 978.0,267.0 980.7,269.6 983.5,272.1 985.0,275.0 987.1,279.0 989.5,281.5 991.0,286.0 994.4,287.0 997.5,286.4 1001.0,287.0 1004.7,285.9 1007.3,283.6 1010.0,282.0 1014.1,282.0 1017.0,283.0 1019.1,287.2 1021.0,290.0 1020.0,295.1 1019.0,299.0 1016.1,303.2 1015.0,307.0 1012.4,309.5 1010.0,313.0 1006.2,314.1 1001.4,314.2 998.0,315.0 996.1,313.1 992.0,311.9 990.0,309.0 987.4,306.4 984.2,305.3 980.1,303.6 977.0,302.0 972.7,300.9 969.2,299.0 966.1,298.4 963.0,297.0 960.2,297.0 956.7,296.0 953.0,295.0 951.4,298.8 949.5,300.5 946.7,303.9 945.0,307.0 942.2,307.8 937.2,310.0 933.9,311.4 931.0,312.0 927.5,311.9 925.4,313.6 921.0,313.8 918.0,314.0 915.5,315.1 911.6,315.2 907.2,315.2 904.8,315.7 901.0,317.0 897.6,319.4 895.0,321.2 891.4,322.5 887.7,323.9 885.3,325.2 882.1,326.4 879.0,329.0 875.5,327.5 872.3,326.2 869.0,324.0 865.4,321.8 863.8,319.6 860.1,317.4 856.6,315.2 854.0,314.0 850.0,310.0 846.9,306.1 845.6,303.0 843.0,300.0 842.8,295.7 842.5,292.0 841.0,288.0 844.7,286.0 847.0,282.6 850.0,281.0 850.8,278.4 852.6,274.9 855.0,271.0 856.5,268.1 856.8,265.7 858.2,261.2 860.0,259.0 860.5,255.7 861.3,252.8 862.6,249.9 864.0,246.0 863.9,243.2 861.4,240.1 861.0,236.0 861.2,232.0 862.0,228.0 865.0,230.2 867.8,232.7 871.0,234.0 874.3,235.8 877.5,235.9 880.3,238.6 884.0,239.0 887.0,236.6 889.5,236.0 893.0,234.0 896.1,230.7 896.8,228.9 900.0,226.0 897.4,223.2 896.5,219.4 895.6,217.6 893.0,214.0 894.4,210.8 893.5,206.2 894.9,203.5 895.0,200.0 896.0,195.3 896.0,192.0 898.6,187.9 899.6,185.5 901.8,182.3 904.0,179.0 907.0,176.4 909.1,173.0 911.5,170.7 915.9,168.1 918.0,166.0 920.0,163.7 922.3,159.9 925.1,157.4 927.4,154.7 929.0,152.0 930.3,150.1 932.2,145.7 934.6,144.1" fill="#2aaedd"/><polygon points="1118.0,193.0 1120.9,193.8 1124.3,193.7 1128.7,192.8 1132.0,193.0 1133.7,198.1 1134.0,202.0 1137.3,203.1 1139.7,203.9 1143.7,205.1 1146.0,207.0 1150.2,208.1 1153.8,207.7 1157.6,208.9 1160.8,208.9 1165.0,209.0 1165.5,212.5 1165.9,214.9 1165.0,219.0 1163.1,222.4 1161.2,224.8 1158.0,228.0 1159.7,233.4 1160.0,237.0 1162.9,239.0 1166.9,240.1 1168.9,240.1 1172.0,242.0 1174.8,243.8 1178.8,245.2 1180.9,245.9 1184.1,247.2 1188.0,249.0 1185.1,251.7 1181.8,254.0 1179.8,255.3 1178.1,258.2 1175.0,261.0 1172.0,263.0 1169.9,264.6 1166.0,266.5 1163.6,269.6 1159.3,271.1 1157.0,273.0 1154.7,274.7 1151.0,277.0 1149.3,278.7 1145.8,282.3 1143.5,283.2 1141.1,286.4 1139.6,288.3 1137.0,291.0 1134.2,292.3 1130.7,292.9 1126.6,292.9 1123.4,294.6 1120.5,294.7 1116.0,296.2 1113.0,297.0 1112.1,293.9 1108.8,291.3 1107.4,289.0 1106.0,286.0 1103.6,282.6 1100.8,280.5 1099.0,277.8 1097.0,275.0 1095.9,271.2 1094.2,269.6 1094.1,265.6 1092.0,263.0 1090.0,261.0 1089.7,257.8 1090.9,254.3 1090.9,249.9 1092.0,247.0 1096.2,246.0 1099.0,245.1 1102.0,244.0 1102.6,240.5 1103.1,238.2 1104.4,234.6 1106.0,230.7 1106.0,228.0 1107.4,224.2 1107.9,220.3 1108.5,217.9 1110.0,214.0 1110.5,210.9 1109.8,206.7 1109.8,203.8 1108.3,201.2 1109.0,198.0 1112.4,197.1 1114.7,194.1" fill="#2aaedd"/><polygon points="793.0,158.0 797.7,157.2 801.0,157.0 804.1,159.1 807.6,160.5 811.0,161.0 812.2,164.0 812.0,168.0 806.0,169.0 802.7,167.5 798.0,166.0 795.7,163.1 793.0,162.0" fill="#2aaedd"/><polygon points="659.0,311.0 660.8,307.4 662.4,304.7 664.2,300.9 667.0,298.0 668.8,295.2 669.8,291.8 672.0,288.0 675.9,286.0 680.0,283.0 682.9,282.8 687.2,282.1 690.5,281.3 693.6,280.4 696.3,279.9 699.9,279.3 703.4,278.0 707.0,278.0 709.0,275.7 712.0,272.0 715.0,273.8 717.9,275.4 721.0,278.0 723.3,280.4 727.0,282.0 727.6,277.7 729.0,275.0 731.6,273.0 735.9,272.3 739.0,271.0 745.0,272.0 747.5,275.6 750.1,277.9 753.3,280.4 756.0,283.0 757.1,287.0 757.0,290.0 759.0,291.7 763.2,295.0 765.0,297.0 761.4,299.1 758.6,301.0 756.4,303.1 753.7,304.0 750.8,306.4 746.7,308.4 744.2,308.4 741.0,311.0 737.6,313.3 733.0,315.0 730.9,317.4 728.5,321.0 725.0,323.0 721.9,326.5 719.6,327.9 716.0,331.0 715.5,335.2 713.2,338.7 712.0,342.0 708.5,344.9 707.4,346.8 703.2,347.4 701.0,350.0 697.6,351.8 696.0,355.0 692.9,356.9 688.0,359.0 682.0,359.0 679.8,354.7 679.0,352.0 677.7,348.9 677.1,346.0 674.6,342.8 674.0,340.0 671.3,337.0 669.4,333.7 668.0,330.3 665.0,327.0 662.3,324.7 659.0,321.0 657.0,318.0 658.7,314.2" fill="#0680d0"/><polygon points="785.0,229.0 788.9,230.8 794.0,231.0 796.7,227.2 799.0,224.0 803.1,223.6 806.2,224.5 809.6,223.4 812.0,224.0 814.9,223.2 818.9,221.9 822.4,220.0 826.0,218.0 830.6,220.4 834.0,222.0 837.1,224.9 838.0,227.7 840.2,229.8 843.0,233.0 846.7,234.3 849.6,236.9 852.0,238.0 856.6,236.6 861.0,236.0 861.4,240.1 863.9,243.2 864.0,246.0 862.6,249.9 861.3,252.8 860.5,255.7 860.0,259.0 858.2,261.2 856.8,265.7 856.5,268.1 855.0,271.0 852.6,274.9 850.8,278.4 850.0,281.0 847.0,282.6 844.7,286.0 841.0,288.0 842.5,292.0 842.8,295.7 843.0,300.0 845.6,303.0 846.9,306.1 850.0,310.0 848.0,315.0 843.9,315.2 840.8,317.7 836.0,318.0 831.8,317.1 827.7,318.5 825.4,318.0 821.0,318.0 819.3,316.3 816.5,313.5 813.0,312.4 811.0,310.0 808.7,308.9 805.6,306.8 803.5,303.2 800.0,302.0 796.8,301.8 793.0,301.0 790.5,299.3 787.0,297.0 783.0,296.8 779.9,299.2 776.0,299.0 771.7,299.1 767.8,298.1 765.0,297.0 763.2,295.0 759.0,291.7 757.0,290.0 757.1,287.0 756.0,283.0 753.3,280.4 750.1,277.9 747.5,275.6 745.0,272.0 747.4,268.8 748.6,266.6 751.2,264.4 752.7,260.7 755.0,258.0 757.2,253.7 757.7,250.5 760.2,247.6 761.0,244.0 764.4,241.6 767.2,239.9 769.6,238.8 772.0,236.0 775.1,233.5 779.1,231.8 781.5,231.1" fill="#0680d0"/><polygon points="688.0,359.0 692.9,356.9 696.0,355.0 697.6,351.8 701.0,350.0 703.2,347.4 707.4,346.8 708.5,344.9 712.0,342.0 713.2,338.7 715.5,335.2 716.0,331.0 719.6,327.9 721.9,326.5 725.0,323.0 728.5,321.0 730.9,317.4 733.0,315.0 737.6,313.3 741.0,311.0 742.9,313.1 746.0,315.6 749.0,318.0 749.8,322.1 752.0,326.0 750.3,329.3 750.9,332.6 749.1,336.0 747.8,340.0 747.9,343.1 747.0,347.0 748.0,351.1 750.7,353.6 752.0,357.0 755.2,359.8 757.0,363.0 760.2,366.3 762.5,368.0 765.0,371.0 767.5,374.4 768.6,378.7 771.0,382.0 771.9,385.4 772.0,390.0 771.9,394.2 773.0,398.0 774.2,401.6 774.0,404.7 775.0,408.0 771.3,410.9 769.0,415.0 765.6,414.8 761.9,414.5 758.0,414.8 754.0,415.0 750.8,416.2 746.7,416.9 744.3,419.3 739.6,421.1 737.0,422.0 733.8,422.4 730.7,424.5 727.2,424.6 723.7,427.3 720.1,428.5 717.0,429.0 719.4,425.9 722.0,424.0 725.3,421.8 727.7,419.8 731.7,418.0 733.3,416.3 737.0,415.0 734.2,411.9 732.3,410.2 729.2,407.2 727.0,405.0 724.0,403.7 719.8,403.2 717.4,402.3 714.1,400.5 710.0,400.0 705.9,400.5 703.9,398.8 700.8,399.5 695.9,398.4 693.7,398.1 690.0,398.0 686.3,397.9 682.9,396.3 679.4,396.8 675.6,395.5 672.0,395.0 673.7,392.5 676.0,389.5 678.0,387.0 680.0,384.0 682.2,379.7 683.0,377.0 684.6,372.0 686.0,368.0 687.4,363.3" fill="#0680d0"/><polygon points="765.0,297.0 767.8,298.1 771.7,299.1 776.0,299.0 779.9,299.2 783.0,296.8 787.0,297.0 790.5,299.3 793.0,301.0 796.8,301.8 800.0,302.0 803.5,303.2 805.6,306.8 808.7,308.9 811.0,310.0 813.0,312.4 816.5,313.5 819.3,316.3 821.0,318.0 825.4,318.0 827.7,318.5 831.8,317.1 836.0,318.0 840.8,317.7 843.9,315.2 848.0,315.0 850.0,310.0 854.0,314.0 856.6,315.2 860.1,317.4 863.8,319.6 865.4,321.8 869.0,324.0 872.3,326.2 875.5,327.5 879.0,329.0 881.6,331.8 884.0,336.0 883.3,338.8 882.9,342.4 882.0,346.0 881.8,349.4 882.8,353.7 884.0,358.0 881.9,360.8 878.4,365.4 877.0,368.0 874.4,371.9 872.9,373.8 872.1,378.5 870.0,381.0 867.3,379.9 865.0,377.0 863.7,373.5 861.2,370.2 860.0,367.4 858.0,365.0 853.8,363.6 851.2,363.5 847.2,362.1 843.7,361.6 841.0,360.0 838.0,361.5 834.1,362.1 830.2,363.0 826.0,365.0 823.1,367.9 819.4,370.1 817.7,371.8 814.0,374.0 810.6,375.4 808.0,376.8 805.2,377.7 802.0,379.0 800.2,382.5 797.3,383.8 794.0,387.0 792.9,390.5 790.7,393.3 789.2,395.7 787.0,399.0 784.8,400.7 780.9,402.6 778.4,404.1 775.0,406.0 775.0,408.0 774.0,404.7 774.2,401.6 773.0,398.0 771.9,394.2 772.0,390.0 771.9,385.4 771.0,382.0 768.6,378.7 767.5,374.4 765.0,371.0 762.5,368.0 760.2,366.3 757.0,363.0 755.2,359.8 752.0,357.0 750.7,353.6 748.0,351.1 747.0,347.0 747.9,343.1 747.8,340.0 749.1,336.0 750.9,332.6 750.3,329.3 752.0,326.0 749.8,322.1 749.0,318.0 746.0,315.6 742.9,313.1 741.0,311.0 744.2,308.4 746.7,308.4 750.8,306.4 753.7,304.0 756.4,303.1 758.6,301.0 761.4,299.1" fill="#0680d0"/><polygon points="775.0,406.0 778.4,404.1 780.9,402.6 784.8,400.7 787.0,399.0 789.2,395.7 790.7,393.3 792.9,390.5 794.0,387.0 797.3,383.8 800.2,382.5 802.0,379.0 805.2,377.7 808.0,376.8 810.6,375.4 814.0,374.0 817.7,371.8 819.4,370.1 823.1,367.9 826.0,365.0 830.2,363.0 834.1,362.1 838.0,361.5 841.0,360.0 843.7,361.6 847.2,362.1 851.2,363.5 853.8,363.6 858.0,365.0 860.0,367.4 861.2,370.2 863.7,373.5 865.0,377.0 867.3,379.9 870.0,381.0 872.5,383.0 874.8,385.8 875.4,388.2 878.4,391.7 880.0,394.0 882.3,395.8 885.4,399.8 888.8,400.7 892.0,404.0 895.3,407.2 897.0,409.0 899.5,410.5 902.8,413.7 905.4,415.7 907.0,418.0 909.3,420.9 912.0,423.0 910.9,427.3 909.3,430.8 908.9,433.8 907.0,438.0 906.3,441.9 904.2,445.0 904.0,448.0 901.8,450.5 899.8,452.1 896.6,455.9 895.0,458.0 894.2,460.9 892.2,463.2 891.0,467.0 891.1,469.7 891.0,474.0 887.6,475.6 886.0,478.1 883.3,479.4 880.2,479.5 877.0,482.0 874.2,483.6 869.5,483.5 865.7,483.6 863.0,485.0 859.6,484.6 854.4,482.5 851.0,482.0 847.8,484.1 843.0,487.0 839.3,488.3 835.1,489.1 831.0,489.0 827.9,488.6 824.8,487.1 821.0,487.0 817.3,486.6 812.9,485.4 809.0,485.0 805.8,482.8 801.3,482.7 797.0,481.0 794.0,479.3 792.2,475.3 789.1,472.9 786.0,471.0 785.8,467.9 785.6,464.1 785.7,459.5 786.0,456.0 784.2,453.3 781.9,448.6 780.0,445.8 779.0,442.0 777.8,439.0 776.8,436.3 775.2,433.2 774.2,430.1 772.9,427.0 771.0,424.0 770.0,420.0 769.0,415.0 771.7,411.2 773.0,408.4" fill="#0680d0"/><polygon points="797.0,481.0 801.3,482.7 805.8,482.8 809.0,485.0 812.9,485.4 817.3,486.6 821.0,487.0 824.8,487.1 827.9,488.6 831.0,489.0 835.1,489.1 839.3,488.3 843.0,487.0 847.8,484.1 851.0,482.0 854.4,482.5 859.6,484.6 863.0,485.0 865.7,483.6 869.5,483.5 874.2,483.6 877.0,482.0 880.2,479.5 883.3,479.4 886.0,478.1 887.6,475.6 891.0,474.0 893.1,475.1 897.4,475.9 899.7,478.1 903.0,479.0 906.9,481.0 909.9,481.3 912.3,482.3 916.0,484.0 915.3,487.5 913.7,489.7 911.6,493.2 911.0,496.8 910.0,500.0 911.3,504.4 911.4,507.4 912.0,511.0 914.3,513.0 917.4,515.3 920.7,516.0 924.0,518.0 928.4,519.2 932.0,521.0 932.6,524.6 932.7,528.2 932.5,531.7 933.0,536.0 931.7,539.3 929.8,541.6 927.0,545.0 923.9,544.6 920.7,542.7 918.1,541.0 914.0,540.0 910.2,541.8 905.4,542.7 902.0,544.0 900.2,546.8 896.9,550.0 895.0,552.0 894.9,555.8 893.6,558.3 893.5,562.5 892.1,564.8 892.0,569.0 889.8,572.1 887.0,576.0 882.7,574.6 879.7,574.2 875.0,574.0 871.3,575.8 867.5,577.1 865.2,577.5 861.7,578.9 858.0,581.0 854.5,582.5 852.8,585.4 849.2,586.2 846.4,589.6 843.0,591.0 840.3,592.6 837.8,596.4 835.4,598.6 833.6,601.8 830.5,604.3 829.0,606.0 824.6,604.8 822.3,604.5 818.4,603.9 814.0,603.0 814.6,599.4 816.6,596.2 818.3,593.5 820.2,589.6 821.0,586.0 819.9,582.0 818.1,579.6 816.0,575.6 816.2,572.3 814.0,569.0 810.0,565.8 807.0,564.0 804.6,559.7 803.0,557.0 800.8,553.4 800.0,550.0 801.3,545.8 800.1,542.6 800.9,539.0 802.0,536.0 799.4,532.4 797.3,530.6 795.9,527.1 794.8,524.3 792.0,521.0 793.1,517.8 792.8,513.9 792.6,510.0 793.3,505.3 794.0,502.0 794.8,499.1 797.3,493.7 797.8,490.0 799.0,487.0" fill="#0680d0"/><polygon points="656.0,473.0 659.4,471.4 663.3,469.7 666.0,469.0 668.9,466.0 673.0,464.0 676.0,463.9 680.2,463.2 683.6,463.3 686.3,464.4 689.5,464.6 693.0,464.0 696.4,463.8 699.8,461.1 703.0,461.0 701.1,464.8 700.4,469.3 700.0,473.0 703.4,476.2 705.1,477.9 708.0,481.0 711.8,482.5 714.9,484.0 717.6,484.0 722.0,486.0 726.3,484.5 729.0,483.8 733.4,484.0 737.0,483.0 740.8,480.3 743.0,478.2 745.3,477.1 749.1,474.5 752.0,473.0 755.5,471.7 758.8,470.2 762.3,469.5 766.0,469.0 768.8,469.6 772.3,470.2 775.9,470.8 779.5,472.9 783.0,473.0 786.3,474.5 789.4,476.6 790.6,477.2 794.8,478.6 797.0,481.0 799.0,487.0 797.8,490.0 797.3,493.7 794.8,499.1 794.0,502.0 793.3,505.3 792.6,510.0 792.8,513.9 793.1,517.8 792.0,521.0 794.8,524.3 795.9,527.1 797.3,530.6 799.4,532.4 802.0,536.0 800.9,539.0 800.1,542.6 801.3,545.8 800.0,550.0 800.8,553.4 803.0,557.0 800.7,559.4 796.3,561.3 794.8,563.1 791.0,564.0 788.6,563.5 783.9,564.3 780.5,565.2 776.8,565.9 774.4,565.0 771.0,566.0 768.4,566.0 764.4,567.7 760.6,568.1 757.0,567.5 754.5,568.1 750.9,567.8 747.0,569.0 743.3,570.1 739.2,570.8 736.4,571.6 733.2,572.1 729.4,573.3 726.1,572.7 722.0,574.0 719.2,572.9 715.6,573.2 713.1,572.3 709.5,572.1 705.3,572.4 703.0,571.0 700.3,570.5 697.0,571.0 692.1,571.2 689.0,571.6 687.0,571.9 683.0,571.0 678.8,568.4 675.1,566.9 673.0,566.4 669.0,564.0 666.0,561.3 664.6,560.7 661.1,558.2 659.4,556.1 656.7,553.3 654.0,552.0 650.9,550.8 647.9,548.1 644.2,546.5 640.4,545.0 637.0,542.9 634.0,542.0 637.0,537.0 638.7,533.8 638.8,529.1 641.6,525.2 642.0,522.0 640.8,518.0 640.8,514.2 639.0,510.0 641.1,507.6 644.2,506.0 647.0,503.0 650.3,500.2 653.2,497.4 656.9,495.1 659.0,493.0 658.3,490.0 658.5,486.5 657.4,482.2 657.9,479.8 656.1,476.2" fill="#0680d0"/><polygon points="896.0,409.0 898.0,405.8 901.4,404.0 904.0,402.0 907.9,402.8 911.0,405.0 913.9,407.0 915.2,410.5 918.0,412.0 917.3,415.7 916.0,419.0 911.1,419.0 907.2,418.6 904.0,419.0 902.2,415.8 899.2,414.6 898.6,412.3" fill="#eef2fc"/></g>
<g fill="none" stroke="#0d1626" stroke-width="2.3" stroke-linejoin="round"><polygon points="461.0,54.0 458.0,56.0 454.0,57.6 451.0,59.0 449.0,54.0 448.8,57.7 447.3,60.9 447.0,64.0 446.3,61.4 444.0,58.0 438.0,60.0 434.0,64.0 431.0,67.0 427.1,68.3 424.0,71.0 418.0,73.0 417.0,79.0 416.0,82.0 421.0,80.0 427.0,79.0 423.2,81.3 421.0,83.0 424.3,85.7 428.0,87.0 422.0,88.0 421.8,91.7 421.2,94.7 422.0,98.0 420.0,92.0 416.1,90.2 412.0,90.0 411.0,94.0 409.0,90.0 405.8,91.1 401.0,93.0 397.0,94.5 393.0,96.0 388.3,96.7 384.0,96.0 380.0,92.0 379.0,90.0 375.3,91.9 373.0,94.0 372.3,97.5 370.0,100.0 367.2,100.4 363.0,102.0 357.0,104.0 353.9,106.1 352.0,109.0 349.0,114.0 346.0,117.0 347.0,122.0 346.0,128.0 350.0,130.0 353.0,132.0 354.0,138.0 356.0,143.0 361.0,143.0 367.0,142.0 373.0,140.0 370.8,143.9 368.0,146.0 370.8,147.7 375.0,150.0 378.2,151.4 380.0,154.0 382.2,153.5 386.4,151.3 389.9,150.4 391.7,148.6 395.0,148.0 397.5,146.3 401.5,145.4 404.0,145.0 408.2,143.6 411.0,142.0 415.0,141.5 418.6,140.2 422.6,140.0 426.0,140.0 428.8,139.2 433.4,140.6 436.0,140.0 437.6,135.6 440.0,132.0 440.5,128.3 439.0,123.6 439.3,119.9 439.0,117.0 439.8,113.7 439.7,109.5 440.3,107.5 439.5,103.2 440.0,100.0 441.8,97.9 444.9,94.0 445.9,91.8 448.0,89.0 450.6,85.2 451.4,81.5 454.0,78.0 456.2,73.2 456.1,69.1 458.0,66.0 459.3,61.7 459.2,57.9"/><polygon points="461.0,54.0 464.0,55.5 465.2,58.3 468.0,61.0 472.4,62.0 474.8,64.8 479.0,66.0 480.6,68.2 484.2,70.0 484.9,74.1 487.6,76.5 490.0,78.0 493.9,78.8 495.7,79.0 500.4,79.2 503.0,79.0 501.0,82.9 499.0,85.2 496.1,89.1 494.0,92.0 495.6,94.6 498.2,97.7 501.3,100.4 503.0,103.0 505.2,106.0 506.7,107.9 509.3,110.6 512.5,113.9 514.0,117.0 512.5,119.6 511.8,122.7 509.1,127.0 508.0,130.0 509.3,132.7 512.6,135.8 513.1,139.1 516.0,141.0 513.0,143.6 510.0,145.3 507.7,149.0 505.3,150.7 503.0,154.0 502.8,157.0 501.6,160.9 502.4,165.5 501.8,169.1 501.2,171.5 500.0,176.0 497.2,177.5 495.1,181.5 493.7,183.5 491.8,185.8 489.0,188.0 488.0,192.0 485.2,191.4 481.4,190.5 479.1,188.0 475.3,188.4 473.0,186.6 469.5,184.6 466.6,184.4 463.0,183.0 460.1,182.1 457.0,180.9 453.9,179.1 451.8,176.6 448.6,175.4 446.0,174.0 443.7,171.1 441.0,169.0 439.0,166.0 439.1,162.3 438.5,158.6 437.8,155.8 438.0,152.0 437.9,147.1 436.8,144.8 436.0,140.0 437.6,135.6 440.0,132.0 440.5,128.3 439.0,123.6 439.3,119.9 439.0,117.0 439.8,113.7 439.7,109.5 440.3,107.5 439.5,103.2 440.0,100.0 441.8,97.9 444.9,94.0 445.9,91.8 448.0,89.0 450.6,85.2 451.4,81.5 454.0,78.0 456.2,73.2 456.1,69.1 458.0,66.0 459.3,61.7 459.2,57.9"/><polygon points="439.0,166.0 441.0,169.0 443.7,171.1 446.0,174.0 448.6,175.4 451.8,176.6 453.9,179.1 457.0,180.9 460.1,182.1 463.0,183.0 466.6,184.4 469.5,184.6 473.0,186.6 475.3,188.4 479.1,188.0 481.4,190.5 485.2,191.4 488.0,192.0 489.0,188.0 491.8,185.8 493.7,183.5 495.1,181.5 497.2,177.5 500.0,176.0 503.2,178.4 507.3,178.5 510.0,181.0 511.7,182.9 514.1,186.4 515.6,189.2 517.0,192.0 516.8,196.5 517.6,200.7 518.0,204.0 515.5,205.4 512.0,208.7 508.5,210.9 506.0,212.0 503.8,215.7 500.0,219.0 501.5,221.9 502.0,226.0 498.8,227.5 495.6,227.2 492.2,229.7 489.6,229.2 485.7,230.7 483.0,232.0 479.9,233.4 476.1,233.3 471.9,234.1 468.0,234.0 463.9,233.4 462.2,234.2 457.9,233.0 454.6,232.0 451.7,233.0 448.0,232.0 445.2,233.1 441.6,233.0 437.3,233.9 434.2,232.7 431.7,233.2 428.0,234.0 424.3,233.2 421.0,232.0 420.9,228.0 419.1,224.9 419.3,222.3 419.3,219.3 418.0,215.0 417.6,212.2 416.0,208.0 418.0,202.0 414.8,198.6 413.0,195.0 411.7,191.1 410.0,186.0 409.7,181.6 407.9,179.1 407.0,175.0 410.6,172.6 413.0,170.0 417.1,169.0 418.9,169.2 423.0,169.0 426.3,169.5 430.1,167.7 435.0,168.0"/><polygon points="380.0,154.0 382.2,153.5 386.4,151.3 389.9,150.4 391.7,148.6 395.0,148.0 397.5,146.3 401.5,145.4 404.0,145.0 408.2,143.6 411.0,142.0 415.0,141.5 418.6,140.2 422.6,140.0 426.0,140.0 428.8,139.2 433.4,140.6 436.0,140.0 436.8,144.8 437.9,147.1 438.0,152.0 438.9,155.5 438.8,160.4 439.0,164.0 435.0,168.0 430.1,167.7 426.3,169.5 423.0,169.0 418.9,169.2 417.1,169.0 413.0,170.0 410.6,172.6 407.0,175.0 407.9,179.1 409.7,181.6 410.0,186.0 411.7,191.1 413.0,195.0 414.8,198.6 418.0,202.0 416.0,208.0 412.4,209.5 409.5,209.9 406.0,211.0 401.3,211.3 398.8,213.8 394.0,214.0 391.1,215.4 388.7,218.0 385.1,219.7 382.7,220.9 380.0,223.0 377.5,225.3 374.6,226.1 371.4,228.1 369.0,230.0 367.0,228.0 366.6,225.5 367.9,221.0 368.4,217.8 367.0,214.1 368.5,211.3 368.0,208.0 372.0,204.0 368.0,200.0 371.4,199.9 374.9,199.4 378.0,198.0 380.5,196.1 381.2,192.4 384.0,190.0 380.6,191.7 377.6,192.8 374.0,194.0 372.0,188.0 375.0,185.9 379.1,185.7 382.0,184.0 378.9,182.1 374.9,180.8 372.0,180.0 368.7,177.2 366.0,174.0 364.5,170.1 362.0,166.0 363.4,163.7 366.0,160.0 372.0,158.0 375.5,156.8"/><polygon points="503.0,79.0 506.5,78.8 509.5,78.4 513.5,80.0 517.3,79.6 519.7,79.4 524.3,80.3 527.6,80.3 530.1,79.5 534.0,80.0 537.5,79.3 540.4,79.8 544.4,80.2 547.4,79.5 549.5,80.6 553.0,80.4 556.8,79.2 559.2,80.1 563.0,80.0 567.2,79.5 570.5,78.6 574.1,77.6 576.9,76.7 581.0,77.0 583.5,73.9 586.0,72.0 589.3,73.5 590.5,76.2 594.0,79.0 596.7,80.4 600.9,81.0 603.9,81.0 606.7,81.8 610.2,84.0 611.9,83.5 615.8,84.4 619.0,86.0 621.5,86.5 625.5,88.4 628.7,88.5 632.7,89.7 636.0,89.1 640.0,91.3 642.6,91.5 646.0,92.0 648.8,93.5 651.5,93.4 654.7,94.5 657.9,94.2 662.3,95.9 664.5,97.2 667.5,98.1 670.7,98.9 674.0,99.0 675.4,102.3 677.0,106.0 674.2,107.9 671.3,108.8 668.8,110.5 665.9,110.7 662.6,112.3 659.0,114.0 654.0,117.0 650.0,114.0 647.5,115.8 644.1,118.4 639.8,120.1 637.9,121.6 634.0,123.0 630.2,122.9 627.4,123.8 623.5,124.2 620.3,125.2 616.6,126.3 614.0,126.0 610.2,127.6 607.3,126.8 604.1,128.8 601.0,129.9 597.0,130.0 594.3,131.7 591.1,134.0 588.4,135.8 586.0,137.0 584.0,135.5 580.7,132.8 577.0,131.7 575.4,130.1 572.0,128.0 569.0,128.5 564.7,128.7 562.7,127.4 558.1,128.5 555.0,128.8 552.0,128.0 547.5,129.3 545.1,132.5 541.0,134.0 538.3,134.5 534.8,135.6 530.9,136.3 529.0,137.8 525.6,138.3 521.6,139.6 519.1,139.3 516.0,141.0 513.1,139.1 512.6,135.8 509.3,132.7 508.0,130.0 509.1,127.0 511.8,122.7 512.5,119.6 514.0,117.0 512.5,113.9 509.3,110.6 506.7,107.9 505.2,106.0 503.0,103.0 501.3,100.4 498.2,97.7 495.6,94.6 494.0,92.0 496.1,89.1 499.0,85.2 501.0,82.9"/><polygon points="819.0,109.0 823.1,108.4 825.2,108.8 828.1,108.6 832.6,108.2 836.1,108.4 839.0,109.0 843.3,107.8 846.0,106.6 850.6,105.7 854.0,104.0 858.4,102.5 862.0,100.0 863.9,103.3 867.0,108.0 864.7,110.2 861.4,111.6 859.2,115.2 856.0,117.0 854.2,119.5 853.0,123.8 851.0,125.7 850.1,129.4 849.0,132.0 845.1,135.1 843.0,138.0 839.6,139.3 836.4,139.4 832.5,140.0 829.8,141.4 826.0,142.0 821.9,142.2 819.7,140.7 816.0,141.4 812.0,140.0 811.5,135.8 810.0,133.0 812.2,130.9 814.0,127.0 815.0,122.7 815.4,119.7 816.0,116.0 816.6,112.4"/><polygon points="469.0,478.0 472.8,477.4 476.1,475.3 479.0,475.0 483.3,473.3 487.0,471.0 490.3,472.6 494.8,472.4 497.9,473.5 501.0,475.0 501.4,477.5 503.2,480.9 504.0,485.0 506.0,488.0 509.8,489.2 511.9,490.5 514.7,491.8 518.8,493.8 521.0,495.0 523.6,495.5 527.0,497.8 531.5,497.9 535.0,498.1 538.0,500.0 540.6,501.9 544.0,502.2 546.3,503.1 550.0,505.0 554.3,504.1 557.4,503.2 559.3,501.1 562.7,501.0 567.0,500.0 570.0,499.8 573.8,499.6 576.5,499.2 580.0,499.4 583.7,499.2 587.0,500.0 589.3,496.6 592.6,494.1 594.3,491.7 597.0,490.0 601.1,488.7 603.5,488.0 607.3,485.7 611.0,485.0 613.6,483.9 618.0,483.8 619.8,481.5 622.8,481.0 626.6,480.0 629.9,479.3 633.6,478.4 636.0,478.0 640.0,477.0 643.6,477.0 646.2,475.4 650.5,475.4 652.2,473.5 656.0,473.0 656.1,476.2 657.9,479.8 657.4,482.2 658.5,486.5 658.3,490.0 659.0,493.0 656.9,495.1 653.2,497.4 650.3,500.2 647.0,503.0 644.2,506.0 641.1,507.6 639.0,510.0 640.8,514.2 640.8,518.0 642.0,522.0 641.6,525.2 638.8,529.1 638.7,533.8 637.0,537.0 634.0,542.0 630.0,541.0 626.9,541.7 623.4,541.8 621.0,541.0 618.9,543.1 615.2,545.3 611.2,546.8 609.6,549.0 606.0,551.0 603.2,552.8 602.0,556.4 599.0,557.6 595.8,559.8 594.0,563.0 593.1,566.1 593.1,569.9 591.5,572.8 591.0,576.0 591.0,579.5 590.4,582.6 590.1,586.0 590.0,590.0 586.5,592.1 582.0,595.0 579.6,592.5 577.0,590.0 573.5,590.9 569.9,591.8 565.4,593.6 562.0,595.0 559.9,597.3 558.2,601.4 555.0,604.0 551.8,606.1 550.3,607.5 547.5,610.5 545.0,612.0 542.4,609.6 538.0,607.0 535.6,605.9 532.3,603.4 528.3,603.2 525.7,602.1 523.0,600.0 519.7,598.6 516.8,598.3 511.7,595.4 509.0,595.0 505.2,593.8 502.7,591.0 499.0,590.0 495.3,588.2 490.9,587.1 488.0,586.5 484.0,585.0 480.6,584.5 477.2,582.6 474.0,582.0 472.0,576.0 470.9,572.4 467.4,570.3 465.1,566.7 463.1,563.6 462.0,561.0 462.4,557.1 462.2,553.0 463.2,549.0 464.0,546.0 465.3,541.6 467.2,538.4 468.1,535.7 469.0,532.0 471.5,530.2 475.0,526.3 477.0,524.1 480.0,522.3 482.0,519.0 483.6,514.8 483.1,511.5 484.5,508.2 484.6,506.1 486.0,502.0 483.5,498.8 481.4,497.9 478.2,494.4 476.8,492.9 474.0,490.0 472.5,486.8 472.3,483.3 470.7,480.7"/><polygon points="634.0,542.0 637.0,542.9 640.4,545.0 644.2,546.5 647.9,548.1 650.9,550.8 654.0,552.0 656.7,553.3 659.4,556.1 661.1,558.2 664.6,560.7 666.0,561.3 669.0,564.0 673.0,566.4 675.1,566.9 678.8,568.4 683.0,571.0 688.0,574.0 688.7,576.9 690.7,581.7 691.3,583.9 692.8,588.2 693.0,591.0 692.7,593.7 691.5,597.8 690.5,601.2 689.2,604.3 688.2,607.2 688.0,611.0 687.4,615.2 688.3,618.4 687.2,622.9 688.7,625.1 687.8,628.5 688.0,633.0 688.7,636.1 691.6,640.4 693.0,643.4 693.7,647.5 695.0,650.0 696.5,653.4 699.8,655.3 700.7,658.1 703.4,661.9 705.0,665.0 701.7,667.1 699.6,667.7 696.5,669.3 693.9,670.9 690.0,672.0 688.0,674.5 685.5,676.4 682.3,679.1 680.0,682.0 677.0,679.8 673.0,679.0 670.0,680.6 665.3,681.0 662.4,681.3 658.0,682.0 655.4,679.0 655.3,676.1 652.5,673.2 651.0,670.0 649.9,667.0 646.4,664.9 644.2,662.0 642.2,660.6 640.8,657.6 639.0,655.0 638.0,652.2 635.5,648.5 633.6,645.1 633.0,640.9 631.0,638.0 626.6,636.5 624.0,635.0 620.8,635.5 617.7,637.0 614.7,637.1 610.0,637.9 607.8,638.3 604.0,640.0 602.0,635.0 603.1,632.0 603.9,627.6 605.1,625.0 607.0,621.0 605.2,617.6 603.0,615.0 602.5,611.5 600.2,608.4 598.5,603.9 597.0,601.0 595.2,598.9 591.7,596.7 590.0,594.0 590.0,590.0 590.1,586.0 590.4,582.6 591.0,579.5 591.0,576.0 591.5,572.8 593.1,569.9 593.1,566.1 594.0,563.0 595.8,559.8 599.0,557.6 602.0,556.4 603.2,552.8 606.0,551.0 609.6,549.0 611.2,546.8 615.2,545.3 618.9,543.1 621.0,541.0 623.4,541.8 626.9,541.7 630.0,541.0"/><polygon points="705.0,665.0 708.3,663.7 711.7,664.9 714.2,662.9 717.1,663.7 720.3,663.4 724.0,662.0 727.3,659.6 730.0,659.0 733.5,657.3 737.0,655.0 740.4,653.1 743.7,651.4 747.8,649.4 751.0,648.0 754.2,647.0 757.2,646.6 761.3,646.5 764.0,646.7 767.3,645.3 770.0,645.0 772.4,642.7 775.6,641.3 779.6,640.9 782.7,638.5 785.0,637.0 785.8,634.7 787.2,630.2 787.9,628.7 790.0,625.0 791.8,622.5 795.3,619.9 796.8,616.7 800.0,613.0 802.2,610.1 805.3,608.5 808.1,607.9 811.9,604.5 814.0,603.0 818.4,603.9 822.3,604.5 824.6,604.8 829.0,606.0 831.6,608.8 832.7,612.1 833.7,614.1 836.0,618.0 836.3,622.1 835.0,625.7 833.7,628.4 834.0,633.0 832.3,636.3 831.9,639.5 829.9,642.9 829.0,647.0 825.5,648.8 822.5,651.0 820.3,652.7 818.3,655.3 814.7,657.9 811.2,660.6 809.0,662.0 809.2,664.7 808.2,668.4 807.6,673.1 807.2,675.3 807.0,679.0 803.9,679.6 799.3,679.6 794.9,678.8 792.0,679.0 791.1,681.6 789.3,685.4 787.1,687.2 785.9,691.8 785.0,694.0 784.0,696.9 783.2,701.0 781.9,703.6 780.3,707.9 780.0,711.0 779.4,713.7 776.9,718.9 776.3,721.7 775.0,725.0 770.9,724.6 768.8,725.6 764.3,725.8 761.6,727.3 757.7,727.5 754.7,727.0 751.0,728.0 748.2,728.3 744.6,727.4 741.6,727.5 736.7,727.9 734.5,728.1 730.4,727.3 727.0,728.0 724.0,728.0 722.9,724.7 720.6,721.2 719.0,719.0 714.9,718.2 712.7,716.2 709.7,714.7 704.6,711.7 702.0,711.0 698.8,708.7 696.0,706.7 693.8,704.2 689.9,702.6 688.0,700.0 687.0,696.0 686.4,693.6 684.2,690.9 683.8,687.7 683.0,684.0 684.0,681.7 685.8,677.4 689.1,675.3 690.0,672.0 693.9,670.9 696.5,669.3 699.6,667.7 701.7,667.1"/><polygon points="836.0,618.0 838.8,618.9 842.0,618.9 845.8,619.4 849.4,618.6 852.6,620.3 856.0,620.0 856.1,623.8 857.7,626.0 858.1,630.3 857.3,633.0 858.0,637.0 859.1,640.5 860.4,643.2 862.4,645.2 863.2,648.9 865.0,652.0 867.8,654.7 869.7,657.8 870.2,659.1 873.0,662.0 876.7,662.4 879.6,664.7 881.8,665.6 885.0,667.0 882.7,669.5 880.0,672.0 878.0,674.0 876.0,677.3 875.3,680.5 872.8,683.9 871.1,687.2 870.0,691.0 869.4,693.9 866.4,698.0 865.3,700.1 864.8,704.5 862.6,707.2 861.0,711.0 857.7,712.8 855.3,715.5 853.3,718.8 851.5,720.2 848.8,723.5 846.2,725.0 843.0,728.0 839.9,726.9 837.6,725.2 834.6,724.6 831.0,723.0 827.6,722.2 824.4,721.5 821.6,722.2 816.5,721.6 814.0,721.0 809.8,722.3 807.3,723.0 803.3,725.4 801.1,726.3 796.6,726.5 794.0,728.0 790.2,727.9 787.1,726.8 784.1,725.9 780.6,726.8 778.6,726.3 775.0,725.0 776.3,721.7 776.9,718.9 779.4,713.7 780.0,711.0 780.3,707.9 781.9,703.6 783.2,701.0 784.0,696.9 785.0,694.0 785.9,691.8 787.1,687.2 789.3,685.4 791.1,681.6 792.0,679.0 794.9,678.8 799.3,679.6 803.9,679.6 807.0,679.0 807.2,675.3 807.6,673.1 808.2,668.4 809.2,664.7 809.0,662.0 811.2,660.6 814.7,657.9 818.3,655.3 820.3,652.7 822.5,651.0 825.5,648.8 829.0,647.0 829.9,642.9 831.9,639.5 832.3,636.3 834.0,633.0 833.7,628.4 835.0,625.7 836.3,622.1"/><polygon points="829.0,606.0 830.5,604.3 833.6,601.8 835.4,598.6 837.8,596.4 840.3,592.6 843.0,591.0 846.4,589.6 849.2,586.2 852.8,585.4 854.5,582.5 858.0,581.0 861.7,578.9 865.2,577.5 867.5,577.1 871.3,575.8 875.0,574.0 879.7,574.2 882.7,574.6 887.0,576.0 889.8,572.1 892.0,569.0 892.1,564.8 893.5,562.5 893.6,558.3 894.9,555.8 895.0,552.0 896.9,550.0 900.2,546.8 902.0,544.0 905.4,542.7 910.2,541.8 914.0,540.0 918.1,541.0 920.7,542.7 923.9,544.6 927.0,545.0 926.9,548.5 925.9,552.4 924.7,555.7 925.4,558.7 924.9,563.3 924.0,566.0 926.5,568.5 928.4,572.0 931.0,576.0 931.3,579.9 931.0,582.9 929.6,585.7 930.0,589.0 929.5,593.2 929.0,596.0 930.2,598.0 932.1,601.1 935.6,604.7 936.9,608.1 938.5,609.3 941.0,613.0 942.6,616.3 945.1,620.6 948.0,623.0 947.3,627.3 946.0,632.0 949.0,636.2 951.0,640.0 948.5,640.6 944.6,642.9 942.5,643.4 939.5,644.7 936.0,647.0 933.5,648.1 929.2,647.9 926.2,649.3 923.7,648.1 920.7,650.0 917.0,650.0 913.8,650.3 910.6,651.9 906.9,653.6 903.5,654.7 899.9,656.5 897.0,657.0 894.3,660.3 891.6,662.3 888.2,664.8 885.0,667.0 881.8,665.6 879.6,664.7 876.7,662.4 873.0,662.0 870.2,659.1 869.7,657.8 867.8,654.7 865.0,652.0 863.2,648.9 862.4,645.2 860.4,643.2 859.1,640.5 858.0,637.0 857.3,633.0 858.1,630.3 857.7,626.0 856.1,623.8 856.0,620.0 852.6,620.3 849.4,618.6 845.8,619.4 842.0,618.9 838.8,618.9 836.0,618.0 833.7,614.1 832.7,612.1 831.6,608.8"/><polygon points="933.0,536.0 936.3,536.4 941.0,537.0 945.0,535.5 946.9,535.1 951.0,534.0 954.9,534.3 958.0,536.0 960.8,533.2 962.0,530.0 965.5,528.9 968.6,527.9 972.9,528.0 976.0,527.0 979.2,525.7 982.0,524.9 985.0,523.0 989.1,523.4 992.9,522.1 995.3,522.4 999.0,523.0 1002.1,524.7 1004.8,525.0 1009.5,526.3 1012.0,527.0 1014.9,530.1 1016.4,531.3 1019.0,534.0 1016.0,537.0 1013.6,541.1 1012.0,544.0 1009.0,546.0 1005.3,547.2 1001.0,550.0 998.0,552.6 994.0,555.0 991.3,557.4 986.7,558.0 983.4,560.8 980.0,562.0 976.6,564.6 973.8,567.6 971.0,569.0 968.5,572.7 965.0,576.0 963.6,579.4 962.5,583.5 960.5,586.9 959.2,588.9 958.0,593.0 955.9,596.8 956.3,600.8 954.1,604.0 953.0,608.0 952.5,611.1 951.1,615.5 949.8,620.0 948.0,623.0 945.1,620.6 942.6,616.3 941.0,613.0 938.5,609.3 936.9,608.1 935.6,604.7 932.1,601.1 930.2,598.0 929.0,596.0 929.5,593.2 930.0,589.0 929.6,585.7 931.0,582.9 931.3,579.9 931.0,576.0 928.4,572.0 926.5,568.5 924.0,566.0 924.9,563.3 925.4,558.7 924.7,555.7 925.9,552.4 926.9,548.5 927.0,545.0 929.8,541.6 931.7,539.3"/><polygon points="912.0,423.0 915.7,422.3 917.9,421.2 921.0,419.0 925.5,419.8 928.8,420.6 933.0,422.0 937.0,420.0 939.3,423.6 940.0,429.0 943.1,432.1 948.0,434.0 951.1,436.9 953.0,440.0 958.3,438.6 962.0,438.0 965.8,439.0 969.0,441.0 974.0,438.0 978.1,439.2 981.6,441.6 985.0,443.0 983.5,446.8 982.2,449.1 982.8,452.0 981.0,456.0 979.9,459.3 979.0,462.1 978.2,465.5 977.5,468.8 976.0,472.0 977.6,475.4 979.5,480.4 980.0,484.0 981.2,488.2 982.8,490.8 982.9,495.1 985.0,498.0 985.7,501.8 988.3,504.6 990.4,506.3 990.6,509.1 991.9,513.5 994.0,516.0 996.3,518.7 999.0,523.0 995.3,522.4 992.9,522.1 989.1,523.4 985.0,523.0 982.0,524.9 979.2,525.7 976.0,527.0 972.9,528.0 968.6,527.9 965.5,528.9 962.0,530.0 960.8,533.2 958.0,536.0 954.9,534.3 951.0,534.0 946.9,535.1 945.0,535.5 941.0,537.0 936.3,536.4 933.0,536.0 932.5,531.7 932.7,528.2 932.6,524.6 932.0,521.0 928.4,519.2 924.0,518.0 920.7,516.0 917.4,515.3 914.3,513.0 912.0,511.0 911.4,507.4 911.3,504.4 910.0,500.0 911.0,496.8 911.6,493.2 913.7,489.7 915.3,487.5 916.0,484.0 912.3,482.3 909.9,481.3 906.9,481.0 903.0,479.0 899.7,478.1 897.4,475.9 893.1,475.1 891.0,474.0 891.1,469.7 891.0,467.0 892.2,463.2 894.2,460.9 895.0,458.0 896.6,455.9 899.8,452.1 901.8,450.5 904.0,448.0 904.2,445.0 906.3,441.9 907.0,438.0 908.9,433.8 909.3,430.8 910.9,427.3"/><polygon points="1011.0,346.0 1014.3,348.7 1016.0,351.0 1018.2,353.6 1021.8,356.8 1022.8,358.4 1026.0,361.0 1030.0,362.6 1033.0,363.0 1031.8,366.9 1029.8,368.7 1027.6,372.3 1025.7,375.8 1023.0,378.0 1022.1,380.2 1020.0,383.6 1018.5,386.2 1015.7,389.7 1015.3,390.8 1013.5,394.4 1011.0,397.0 1008.8,399.5 1007.0,402.3 1005.5,405.7 1003.9,409.0 1001.9,411.5 1000.5,413.9 998.0,416.4 995.5,419.5 994.0,422.0 992.2,424.3 992.2,427.7 990.5,430.1 989.6,434.4 987.5,437.6 986.4,439.4 985.0,443.0 981.6,441.6 978.1,439.2 974.0,438.0 969.0,441.0 965.8,439.0 962.0,438.0 958.3,438.6 953.0,440.0 951.1,436.9 948.0,434.0 943.1,432.1 940.0,429.0 939.3,423.6 937.0,420.0 939.5,417.2 943.0,415.9 946.3,413.8 949.6,410.4 952.0,409.0 953.7,406.5 957.2,402.4 960.4,400.7 962.0,397.0 965.2,394.7 967.8,391.8 969.4,389.4 971.6,386.5 975.0,385.0 972.8,381.2 972.0,378.0 974.4,374.1 975.3,371.3 977.0,368.0 974.9,365.8 974.2,361.3 971.1,358.6 970.0,356.0 972.2,352.8 975.3,351.9 979.8,348.7 982.0,346.0 984.9,346.0 987.8,348.0 992.0,348.0 996.2,347.1 1000.2,346.8 1003.4,347.5 1007.5,347.2"/><polygon points="1118.0,181.0 1121.7,178.9 1123.3,178.0 1127.0,176.0 1130.0,180.0 1133.2,180.3 1137.7,181.2 1141.0,181.0 1144.5,182.0 1147.9,183.2 1151.8,183.2 1155.0,185.0 1157.6,184.7 1162.2,184.8 1164.5,184.3 1169.3,184.0 1172.0,184.0 1175.3,183.1 1177.7,181.0 1179.7,179.0 1183.0,177.0 1186.6,175.6 1190.3,174.6 1194.2,174.7 1197.0,173.0 1200.2,174.7 1203.5,175.8 1208.0,176.5 1211.0,177.0 1213.9,179.0 1215.4,181.5 1219.0,184.6 1221.0,186.0 1219.1,189.3 1215.7,191.5 1214.0,195.0 1214.4,197.9 1214.3,202.2 1215.2,206.2 1216.0,209.0 1215.5,211.8 1214.1,216.1 1212.4,219.9 1211.0,223.0 1210.1,226.5 1208.3,230.0 1207.0,233.0 1204.2,235.4 1202.5,238.4 1200.0,242.0 1197.6,243.4 1193.7,246.4 1190.3,247.3 1188.0,249.0 1184.1,247.2 1180.9,245.9 1178.8,245.2 1174.8,243.8 1172.0,242.0 1168.9,240.1 1166.9,240.1 1162.9,239.0 1160.0,237.0 1159.7,233.4 1158.0,228.0 1161.2,224.8 1163.1,222.4 1165.0,219.0 1165.9,214.9 1165.5,212.5 1165.0,209.0 1160.8,208.9 1157.6,208.9 1153.8,207.7 1150.2,208.1 1146.0,207.0 1143.7,205.1 1139.7,203.9 1137.3,203.1 1134.0,202.0 1133.7,198.1 1132.0,193.0 1128.7,192.8 1124.3,193.7 1120.9,193.8 1118.0,193.0 1118.8,189.2 1118.3,184.7"/><polygon points="1022.0,294.0 1025.2,292.2 1029.2,291.5 1033.0,291.0 1039.0,289.0 1042.3,288.7 1044.7,287.6 1048.6,285.4 1050.9,285.6 1055.0,284.0 1057.6,283.0 1061.3,280.8 1066.2,279.5 1069.0,277.0 1072.0,273.1 1074.0,270.0 1076.7,267.5 1080.2,265.7 1083.6,265.2 1085.9,263.0 1090.0,261.0 1092.0,263.0 1094.1,265.6 1094.2,269.6 1095.9,271.2 1097.0,275.0 1099.0,277.8 1100.8,280.5 1103.6,282.6 1106.0,286.0 1107.4,289.0 1108.8,291.3 1112.1,293.9 1113.0,297.0 1110.2,298.1 1106.9,299.3 1102.3,299.8 1100.7,301.0 1096.9,303.0 1092.7,304.5 1090.0,305.0 1087.4,305.9 1084.1,308.4 1080.5,309.1 1076.2,310.7 1073.4,311.3 1070.1,312.4 1067.0,314.0 1064.5,316.0 1062.2,319.3 1059.8,321.0 1057.0,324.0 1054.6,327.4 1053.1,330.1 1050.1,333.1 1049.7,336.7 1047.0,339.0 1051.0,343.0 1055.0,346.0 1052.7,349.2 1050.4,350.0 1047.2,353.9 1045.1,356.5 1043.0,358.0 1040.1,359.8 1036.4,360.6 1033.0,363.0 1030.0,362.6 1026.0,361.0 1022.8,358.4 1021.8,356.8 1018.2,353.6 1016.0,351.0 1014.3,348.7 1011.0,346.0 1011.6,340.9 1014.0,337.0 1014.4,333.6 1013.1,329.7 1014.5,325.7 1014.0,323.0 1012.4,319.8 1010.5,317.2 1010.0,313.0 1012.4,309.5 1015.0,307.0 1016.1,303.2 1019.0,299.0"/><polygon points="474.0,582.0 477.2,582.6 480.6,584.5 484.0,585.0 488.0,586.5 490.9,587.1 495.3,588.2 499.0,590.0 502.7,591.0 505.2,593.8 509.0,595.0 511.7,595.4 516.8,598.3 519.7,598.6 523.0,600.0 525.7,602.1 528.3,603.2 532.3,603.4 535.6,605.9 538.0,607.0 542.4,609.6 545.0,612.0 545.6,614.5 547.1,618.5 548.0,622.0 544.6,624.4 541.4,626.4 538.0,629.0 533.8,628.6 531.8,630.5 528.1,629.4 524.2,629.8 521.0,631.0 519.8,634.9 518.0,639.0 521.1,641.2 523.4,644.0 525.2,647.2 528.0,649.0 529.2,652.3 530.5,655.0 533.0,658.0 532.6,660.9 530.7,665.6 529.3,669.8 528.0,673.0 528.5,676.8 528.1,679.6 526.1,682.2 527.3,685.9 526.3,689.5 526.0,693.0 526.5,695.9 526.0,700.0 525.3,702.8 526.7,705.8 525.2,710.5 526.3,714.4 526.0,717.0 524.9,713.9 522.0,709.0 520.8,706.8 518.3,703.2 516.0,701.0 513.4,698.1 510.0,696.1 506.0,694.0 502.7,691.4 500.7,689.7 497.5,687.1 494.0,686.0 490.1,684.3 487.6,681.7 484.0,680.0 480.8,679.1 477.0,677.0 473.5,676.9 470.9,676.1 467.0,676.0 464.6,677.1 461.4,677.2 456.8,676.2 454.0,677.0 449.0,679.0 448.7,673.7 447.0,670.0 447.1,666.4 446.4,663.0 446.3,659.1 446.0,655.0 444.3,651.9 443.9,647.8 443.0,643.0 444.1,639.2 445.3,636.6 446.3,632.8 447.0,629.0 447.9,625.2 449.4,622.3 451.2,619.8 453.7,617.3 455.0,614.0 457.1,611.8 459.9,607.1 462.8,604.7 465.0,602.0 468.9,601.2 472.4,599.4 474.3,599.5 478.7,598.7 482.0,597.0 483.3,592.2 486.0,589.0 483.8,586.9 480.8,585.8 477.0,583.9"/><polygon points="545.0,612.0 547.5,610.5 550.3,607.5 551.8,606.1 555.0,604.0 558.2,601.4 559.9,597.3 562.0,595.0 565.4,593.6 569.9,591.8 573.5,590.9 577.0,590.0 579.6,592.5 582.0,595.0 586.5,592.1 590.0,590.0 590.0,594.0 591.7,596.7 595.2,598.9 597.0,601.0 598.5,603.9 600.2,608.4 602.5,611.5 603.0,615.0 605.2,617.6 607.0,621.0 605.1,625.0 603.9,627.6 603.1,632.0 602.0,635.0 604.0,640.0 607.8,638.3 610.0,637.9 614.7,637.1 617.7,637.0 620.8,635.5 624.0,635.0 626.6,636.5 631.0,638.0 633.0,640.9 633.6,645.1 635.5,648.5 638.0,652.2 639.0,655.0 640.8,657.6 642.2,660.6 644.2,662.0 646.4,664.9 649.9,667.0 651.0,670.0 652.4,672.6 655.0,675.5 655.5,677.6 658.0,681.0 655.2,681.9 651.0,683.0 645.0,685.0 641.6,685.7 637.0,688.0 634.8,690.5 632.0,692.0 630.0,693.5 626.5,696.2 623.2,698.0 621.0,700.0 618.5,701.6 616.5,704.3 613.0,707.0 609.6,703.9 607.9,701.6 605.0,699.0 600.7,699.5 597.0,700.0 593.0,697.0 592.3,700.8 589.9,703.1 588.8,706.7 588.0,709.0 584.6,707.2 579.9,705.8 577.0,704.0 574.3,706.1 570.4,705.9 568.0,708.0 564.8,710.2 560.0,713.0 557.0,712.2 552.8,712.5 550.0,712.0 547.4,711.6 544.5,711.2 540.7,710.5 536.6,709.7 534.8,708.1 530.9,707.2 528.0,707.0 528.1,711.0 527.4,713.4 526.0,717.0 526.3,714.4 525.2,710.5 526.7,705.8 525.3,702.8 526.0,700.0 526.5,695.9 526.0,693.0 526.3,689.5 527.3,685.9 526.1,682.2 528.1,679.6 528.5,676.8 528.0,673.0 529.3,669.8 530.7,665.6 532.6,660.9 533.0,658.0 530.5,655.0 529.2,652.3 528.0,649.0 525.2,647.2 523.4,644.0 521.1,641.2 518.0,639.0 519.8,634.9 521.0,631.0 524.2,629.8 528.1,629.4 531.8,630.5 533.8,628.6 538.0,629.0 541.4,626.4 544.6,624.4 548.0,622.0 547.1,618.5 545.6,614.5"/><polygon points="528.0,707.0 530.9,707.2 534.8,708.1 536.6,709.7 540.7,710.5 544.5,711.2 547.4,711.6 550.0,712.0 552.8,712.5 557.0,712.2 560.0,713.0 564.8,710.2 568.0,708.0 570.4,705.9 574.3,706.1 577.0,704.0 579.9,705.8 584.6,707.2 588.0,709.0 588.8,706.7 589.9,703.1 592.3,700.8 593.0,697.0 597.0,700.0 600.7,699.5 605.0,699.0 607.9,701.6 609.6,703.9 613.0,707.0 616.5,704.3 618.5,701.6 621.0,700.0 622.0,704.3 623.0,709.0 620.9,711.1 619.7,714.5 617.0,717.0 613.3,716.7 608.0,715.0 606.8,718.5 605.0,721.0 605.0,725.1 605.0,729.0 603.1,733.0 600.0,736.0 596.9,738.8 593.0,740.0 592.0,744.0 596.0,745.0 597.7,749.0 599.3,752.2 600.0,755.0 601.2,758.2 604.0,763.0 607.0,765.0 605.7,768.6 603.0,773.0 600.0,775.2 597.4,779.2 596.0,781.0 594.2,785.8 591.0,789.0 586.5,790.4 583.0,793.0 580.3,791.2 575.7,789.0 573.0,788.0 570.7,786.2 566.7,783.6 564.0,781.0 561.6,778.9 560.1,775.9 556.5,772.8 554.3,770.9 552.7,768.5 549.4,766.4 547.2,764.4 545.0,761.0 544.1,757.8 542.0,754.7 540.5,752.4 539.0,749.6 538.0,746.0 535.1,742.3 533.3,739.6 531.0,737.0 529.2,734.4 527.6,731.8 525.6,729.4 523.0,727.0 521.0,722.0 522.7,719.1 526.0,717.0 527.4,713.4 528.1,711.0"/><polygon points="1168.0,448.0 1170.4,445.5 1172.8,443.5 1175.6,441.1 1179.4,437.6 1182.0,436.0 1183.8,432.8 1186.2,430.6 1190.0,429.5 1191.4,426.4 1194.0,424.0 1197.5,422.3 1200.0,419.3 1204.2,418.8 1207.0,415.9 1210.0,414.0 1212.6,413.0 1216.8,412.9 1220.0,412.0 1222.7,411.7 1226.5,410.3 1230.0,409.0 1226.7,413.1 1224.0,416.0 1228.0,420.0 1229.6,424.6 1230.0,428.0 1233.8,426.3 1236.3,424.5 1240.0,424.0 1243.9,425.1 1246.4,427.2 1250.0,428.0 1249.7,432.3 1250.0,436.0 1248.6,439.7 1246.0,444.0 1245.1,448.3 1243.8,451.5 1242.0,456.0 1240.8,459.1 1239.9,462.4 1237.6,464.7 1236.0,468.0 1232.8,468.6 1229.3,471.7 1227.7,471.7 1224.0,474.0 1221.4,472.6 1217.9,469.9 1214.0,468.0 1210.7,467.0 1205.4,464.7 1202.0,464.0 1200.5,459.3 1198.5,455.2 1198.0,452.0 1194.4,451.7 1190.0,450.0 1188.2,453.0 1186.3,454.8 1184.0,458.0 1180.6,456.9 1176.0,454.0 1173.8,451.6 1170.0,450.0"/><polygon points="1274.0,398.0 1277.1,397.0 1282.0,395.0 1285.2,394.4 1290.6,394.2 1294.0,393.0 1297.1,394.0 1301.5,396.8 1304.0,398.0 1306.8,400.4 1308.1,403.3 1310.0,406.0 1309.7,409.3 1311.2,412.6 1311.0,417.0 1308.1,414.1 1304.0,413.0 1300.4,412.6 1297.0,409.7 1294.2,409.7 1290.0,408.0 1286.0,408.7 1283.6,408.7 1279.6,408.4 1276.0,408.0 1274.0,402.0"/><polygon points="1096.0,504.0 1098.9,501.2 1103.5,499.5 1106.0,497.0 1109.5,496.0 1112.1,496.9 1116.0,496.0 1118.7,499.0 1122.0,502.0 1119.8,504.0 1117.0,507.6 1114.0,510.0 1112.3,513.3 1110.2,515.1 1108.4,517.4 1106.0,520.0 1102.5,520.1 1098.0,520.0 1093.8,520.0 1090.0,520.0 1090.4,516.2 1092.0,512.0 1088.0,510.0 1090.0,508.3 1093.5,505.6"/><polygon points="1106.0,524.0 1107.6,528.8 1108.0,532.0 1112.1,533.0 1116.0,534.0 1118.0,538.0 1114.3,538.5 1110.0,538.0 1105.0,540.0 1105.2,535.5 1104.0,532.0 1104.8,528.4"/><polygon points="39.0,770.0 42.3,767.8 45.6,765.0 48.0,762.0 52.0,763.9 54.8,764.6 59.0,765.0 61.1,769.7 62.0,774.0 62.0,777.0 59.7,780.9 59.0,786.0 57.0,789.6 55.9,792.8 54.5,796.1 52.0,799.0 49.0,801.0 46.8,796.7 46.0,793.0 45.1,789.7 43.2,786.7 41.4,781.9 41.0,779.0 39.6,774.9"/><polygon points="14.0,866.0 17.7,864.2 21.0,864.0 25.2,863.8 30.0,863.0 32.8,861.3 36.0,859.0 38.0,863.0 34.9,866.0 32.0,870.0 30.6,874.4 28.0,878.0 24.5,874.9 21.0,872.0 17.8,871.3 14.0,870.0"/><polygon points="128.0,819.0 130.7,819.5 135.6,820.2 138.5,819.7 142.0,820.0 145.9,820.2 149.1,818.2 152.0,817.7 156.6,818.0 160.0,817.0 163.8,815.2 167.2,813.6 171.0,811.0 175.1,809.1 177.2,809.1 181.0,807.0 183.5,806.7 186.8,805.6 190.1,806.4 194.0,806.0 196.0,809.0 192.8,810.5 188.0,813.0 184.4,814.4 180.8,816.5 178.0,818.0 176.1,822.1 173.4,824.7 172.0,829.0 169.4,831.1 169.3,835.1 167.5,838.6 165.0,841.0 163.2,845.0 160.2,848.3 158.0,850.0 156.0,854.0 152.8,854.5 149.0,855.9 146.1,855.9 142.0,856.0 141.4,850.7 139.0,847.0 136.7,844.1 135.9,840.9 135.1,837.5 133.5,834.7 132.0,832.0 130.4,828.8 130.6,826.1 128.7,822.8"/><polygon points="327.0,868.0 331.0,866.3 333.5,865.3 337.1,864.4 340.0,864.0 343.4,861.8 346.3,860.7 349.4,858.7 351.4,857.5 355.0,856.0 354.5,852.1 353.0,847.0 355.6,844.0 357.8,839.9 360.4,837.7 362.0,834.0 363.7,830.8 366.7,828.8 368.9,825.5 371.0,822.0 373.3,818.5 374.6,814.9 376.0,811.0 379.3,809.2 382.4,808.8 387.0,808.0 387.3,812.2 389.0,815.0 389.1,817.9 388.4,821.1 387.1,825.3 386.6,828.7 387.0,832.0 386.6,836.6 385.1,840.3 384.5,842.9 383.0,847.0 380.3,850.3 378.2,853.2 376.0,857.0 372.4,857.3 368.5,859.2 365.7,860.7 363.2,860.7 359.0,862.1 356.0,863.0 353.0,865.6 351.3,866.4 347.0,868.2 344.7,869.6 342.0,872.0 336.7,871.0 333.0,870.0"/><polygon points="387.0,797.0 388.4,794.5 391.3,791.3 393.1,788.5 394.0,786.0 396.4,784.5 399.4,782.5 403.1,779.9 406.1,777.1 408.0,776.0 412.2,775.0 415.6,774.1 419.0,772.0 420.0,767.0 424.8,767.8 428.0,770.0 426.5,773.5 427.1,777.0 426.0,781.0 424.8,783.0 422.3,786.0 421.4,788.7 419.0,792.0 416.1,792.3 411.2,792.8 407.7,793.8 404.0,795.0 399.8,796.3 396.7,797.5 394.0,800.0 390.1,798.5"/><polygon points="674.0,99.0 677.4,99.3 680.8,98.3 683.4,98.0 686.3,97.2 690.1,98.1 693.8,97.2 697.0,97.0 699.8,96.8 703.2,96.0 707.5,95.0 710.2,93.4 714.0,93.0 717.8,93.2 720.9,92.4 724.7,92.3 728.0,91.0 730.9,90.2 735.3,91.2 738.5,90.7 741.0,90.0 743.7,91.0 747.8,93.3 750.0,94.0 753.6,96.3 755.5,97.0 758.7,98.3 761.0,101.0 764.3,102.9 767.6,104.7 770.0,106.0 766.7,106.2 764.3,108.3 761.1,109.8 757.2,109.3 754.0,111.0 752.6,114.6 751.9,118.7 752.0,122.0 748.6,122.1 744.0,122.3 739.9,121.4 737.0,121.0 734.4,122.4 732.2,124.8 728.6,127.6 726.2,128.4 723.0,131.0 720.4,133.3 719.3,136.8 715.7,138.4 714.0,141.0 716.4,144.7 719.0,147.0 720.6,151.1 722.0,154.0 718.7,154.8 714.3,157.1 710.0,158.0 704.0,157.0 701.1,154.6 699.7,151.6 698.0,148.0 695.7,145.6 692.8,143.3 690.0,140.0 688.2,136.5 684.2,133.8 682.0,132.0 677.2,132.2 674.0,133.0 670.7,133.1 666.4,132.7 663.8,132.0 660.0,132.0 657.7,129.1 657.7,125.5 655.1,122.7 654.0,120.0 654.0,117.0 659.0,114.0 662.6,112.3 665.9,110.7 668.8,110.5 671.3,108.8 674.2,107.9 677.0,106.0 675.4,102.3"/><polygon points="770.0,106.0 773.4,103.2 774.7,102.6 777.6,99.1 781.0,98.0 784.9,98.1 787.7,97.2 792.2,98.3 795.8,96.5 799.0,97.0 801.4,98.7 805.4,99.2 808.5,100.9 812.0,101.0 813.7,102.9 816.7,106.7 819.0,109.0 816.6,112.4 816.0,116.0 815.4,119.7 815.0,122.7 814.0,127.0 812.2,130.9 810.0,133.0 806.1,133.4 804.2,132.4 800.3,132.3 796.7,132.2 794.0,133.0 790.8,132.1 787.6,130.4 785.1,127.9 781.0,127.0 778.6,124.8 774.6,124.8 772.1,123.8 768.0,122.0 764.4,122.7 761.7,122.1 758.4,122.2 755.3,122.1 752.0,122.0 751.9,118.7 752.6,114.6 754.0,111.0 757.2,109.3 761.1,109.8 764.3,108.3 766.7,106.2"/><polygon points="781.0,169.0 783.5,170.6 787.4,171.1 791.0,172.6 794.0,173.0 797.9,174.0 800.8,176.9 803.0,178.0 807.1,179.2 810.0,180.4 814.0,182.0 817.1,183.7 819.7,184.0 823.5,184.2 826.3,185.4 831.0,187.1 833.2,187.7 837.0,188.0 838.9,189.5 842.1,192.8 844.8,193.4 848.4,196.7 851.0,198.0 853.1,200.0 854.7,202.4 857.8,205.2 860.2,207.5 862.0,210.0 864.1,213.8 867.4,216.3 869.0,219.0 866.4,221.2 863.9,225.2 862.0,228.0 859.0,227.0 860.6,231.1 861.0,236.0 856.6,236.6 852.0,238.0 849.6,236.9 846.7,234.3 843.0,233.0 840.2,229.8 838.0,227.7 837.1,224.9 834.0,222.0 830.6,220.4 826.0,218.0 822.4,220.0 818.9,221.9 814.9,223.2 812.0,224.0 809.6,223.4 806.2,224.5 803.1,223.6 799.0,224.0 796.7,227.2 794.0,231.0 788.9,230.8 785.0,229.0 783.0,227.0 781.7,224.3 778.2,221.1 775.7,218.6 774.8,215.5 772.0,213.0 772.7,208.8 773.7,206.0 773.2,201.4 774.0,198.0 774.0,193.8 774.9,191.6 774.9,187.6 774.4,184.8 773.4,181.4 774.0,178.0 776.4,175.3 778.2,171.9"/><polygon points="505.0,389.0 508.9,388.6 512.8,388.4 515.5,387.4 519.0,387.0 522.0,385.6 525.6,383.8 528.8,382.9 531.5,381.1 534.0,380.0 537.1,377.7 539.3,376.9 543.5,375.0 546.7,373.3 549.0,372.0 551.5,374.5 555.9,375.3 558.0,377.0 561.2,380.2 563.0,381.2 565.4,385.2 568.0,387.0 572.2,387.7 575.4,387.6 580.0,389.0 585.0,389.0 587.8,391.5 590.4,393.9 591.8,395.3 595.0,397.0 598.5,395.4 603.7,395.2 607.0,394.0 609.0,397.0 608.9,400.5 609.0,403.8 609.1,405.9 608.3,410.5 609.0,413.7 609.4,417.0 608.4,420.2 609.0,423.0 611.5,426.2 613.3,429.5 616.4,431.4 616.9,435.0 620.0,438.0 621.0,441.0 622.1,446.0 624.2,450.0 625.0,453.0 627.1,456.9 628.4,458.7 630.2,461.6 630.6,464.2 633.0,468.0 635.6,470.5 638.2,474.8 640.0,477.0 636.0,478.0 633.6,478.4 629.9,479.3 626.6,480.0 622.8,481.0 619.8,481.5 618.0,483.8 613.6,483.9 611.0,485.0 607.3,485.7 603.5,488.0 601.1,488.7 597.0,490.0 594.3,491.7 592.6,494.1 589.3,496.6 587.0,500.0 583.7,499.2 580.0,499.4 576.5,499.2 573.8,499.6 570.0,499.8 567.0,500.0 562.7,501.0 559.3,501.1 557.4,503.2 554.3,504.1 550.0,505.0 546.3,503.1 544.0,502.2 540.6,501.9 538.0,500.0 535.0,498.1 531.5,497.9 527.0,497.8 523.6,495.5 521.0,495.0 518.8,493.8 514.7,491.8 511.9,490.5 509.8,489.2 506.0,488.0 504.0,485.0 503.2,480.9 501.4,477.5 501.0,475.0 497.9,473.5 494.8,472.4 490.3,472.6 487.0,471.0 483.3,473.3 479.0,475.0 476.1,475.3 472.8,477.4 469.0,478.0 469.2,473.9 467.3,470.4 467.8,466.7 467.0,463.0 464.2,460.1 462.1,455.7 460.0,453.0 457.5,449.9 454.5,448.4 452.0,445.0 455.0,444.6 458.8,445.0 463.1,443.8 466.2,444.2 469.0,444.0 472.4,444.2 475.8,443.4 479.5,442.0 483.0,442.2 485.0,441.1 489.0,441.0 489.6,437.9 490.4,432.9 491.0,429.0 493.2,425.8 495.4,423.7 496.4,421.9 499.0,419.0 497.4,415.6 497.2,411.4 495.8,407.9 494.0,404.0 492.2,399.7 492.0,396.5 491.0,392.0 494.4,391.7 497.4,391.4 500.0,390.1 504.0,390.0"/><polygon points="688.0,574.0 691.4,572.6 695.2,573.0 698.4,571.3 703.0,571.0 705.3,572.4 709.5,572.1 713.1,572.3 715.6,573.2 719.2,572.9 722.0,574.0 726.1,572.7 729.4,573.3 733.2,572.1 736.4,571.6 739.2,570.8 743.3,570.1 747.0,569.0 750.9,567.8 754.5,568.1 757.0,567.5 760.6,568.1 764.4,567.7 768.4,566.0 771.0,566.0 774.4,565.0 776.8,565.9 780.5,565.2 783.9,564.3 788.6,563.5 791.0,564.0 794.8,563.1 796.3,561.3 800.7,559.4 803.0,557.0 804.6,559.7 807.0,564.0 810.0,565.8 814.0,569.0 816.2,572.3 816.0,575.6 818.1,579.6 819.9,582.0 821.0,586.0 820.2,589.6 818.3,593.5 816.6,596.2 814.6,599.4 814.0,603.0 811.9,604.5 808.1,607.9 805.3,608.5 802.2,610.1 800.0,613.0 796.8,616.7 795.3,619.9 791.8,622.5 790.0,625.0 787.9,628.7 787.2,630.2 785.8,634.7 785.0,637.0 782.7,638.5 779.6,640.9 775.6,641.3 772.4,642.7 770.0,645.0 767.3,645.3 764.0,646.7 761.3,646.5 757.2,646.6 754.2,647.0 751.0,648.0 747.8,649.4 743.7,651.4 740.4,653.1 737.0,655.0 733.5,657.3 730.0,659.0 727.3,659.6 724.0,662.0 720.3,663.4 717.1,663.7 714.2,662.9 711.7,664.9 708.3,663.7 705.0,665.0 703.4,661.9 700.7,658.1 699.8,655.3 696.5,653.4 695.0,650.0 693.7,647.5 693.0,643.4 691.6,640.4 688.7,636.1 688.0,633.0 687.8,628.5 688.7,625.1 687.2,622.9 688.3,618.4 687.4,615.2 688.0,611.0 688.2,607.2 689.2,604.3 690.5,601.2 691.5,597.8 692.7,593.7 693.0,591.0 692.8,588.2 691.3,583.9 690.7,581.7 688.7,576.9"/><polygon points="879.0,329.0 882.1,326.4 885.3,325.2 887.7,323.9 891.4,322.5 895.0,321.2 897.6,319.4 901.0,317.0 904.8,315.7 907.2,315.2 911.6,315.2 915.5,315.1 918.0,314.0 921.0,313.8 925.4,313.6 927.5,311.9 931.0,312.0 933.9,311.4 937.2,310.0 942.2,307.8 945.0,307.0 946.7,303.9 949.5,300.5 951.4,298.8 953.0,295.0 956.7,296.0 960.2,297.0 963.0,297.0 966.1,298.4 969.2,299.0 972.7,300.9 977.0,302.0 980.1,303.6 984.2,305.3 987.4,306.4 990.0,309.0 992.0,311.9 996.1,313.1 998.0,315.0 1001.4,314.2 1006.2,314.1 1010.0,313.0 1010.5,317.2 1012.4,319.8 1014.0,323.0 1014.5,325.7 1013.1,329.7 1014.4,333.6 1014.0,337.0 1011.6,340.9 1011.0,346.0 1007.5,347.2 1003.4,347.5 1000.2,346.8 996.2,347.1 992.0,348.0 987.8,348.0 984.9,346.0 982.0,346.0 979.8,348.7 975.3,351.9 972.2,352.8 970.0,356.0 971.1,358.6 974.2,361.3 974.9,365.8 977.0,368.0 975.3,371.3 974.4,374.1 972.0,378.0 972.8,381.2 975.0,385.0 971.6,386.5 969.4,389.4 967.8,391.8 965.2,394.7 962.0,397.0 960.4,400.7 957.2,402.4 953.7,406.5 952.0,409.0 949.6,410.4 946.3,413.8 943.0,415.9 939.5,417.2 937.0,420.0 933.0,422.0 928.8,420.6 925.5,419.8 921.0,419.0 917.9,421.2 915.7,422.3 912.0,423.0 909.3,420.9 907.0,418.0 905.4,415.7 902.8,413.7 899.5,410.5 897.0,409.0 895.3,407.2 892.0,404.0 888.8,400.7 885.4,399.8 882.3,395.8 880.0,394.0 878.4,391.7 875.4,388.2 874.8,385.8 872.5,383.0 870.0,381.0 872.1,378.5 872.9,373.8 874.4,371.9 877.0,368.0 878.4,365.4 881.9,360.8 884.0,358.0 882.8,353.7 881.8,349.4 882.0,346.0 882.9,342.4 883.3,338.8 884.0,336.0 881.6,331.8"/><polygon points="936.0,141.0 939.6,144.1 941.1,145.7 944.6,149.0 947.0,152.0 951.7,152.7 956.0,154.0 959.5,153.5 963.0,151.7 967.0,150.0 971.0,150.9 974.0,153.4 976.5,154.7 980.0,157.0 983.0,158.6 986.6,161.0 991.0,163.0 993.8,162.0 997.3,161.0 1001.2,161.6 1004.0,160.0 1008.1,160.7 1010.7,160.5 1015.1,160.8 1018.0,161.0 1022.3,160.9 1025.7,160.4 1030.0,160.0 1031.8,156.4 1033.4,153.6 1033.9,150.1 1036.0,147.0 1034.7,150.8 1035.0,156.0 1036.2,158.9 1038.3,162.7 1038.2,165.4 1040.1,168.6 1041.0,172.0 1042.0,175.0 1040.9,179.4 1042.5,181.7 1041.9,184.8 1043.3,187.9 1042.0,191.4 1043.0,195.0 1042.0,197.6 1041.3,200.6 1040.2,204.1 1040.3,206.9 1039.3,210.5 1038.2,213.3 1037.9,217.4 1036.6,219.6 1036.0,223.0 1034.9,227.6 1034.3,230.3 1034.3,234.6 1034.0,238.0 1032.3,241.5 1029.7,244.3 1027.0,247.0 1025.4,249.0 1021.6,252.4 1019.6,254.8 1017.0,257.0 1017.0,261.3 1018.0,266.0 1023.0,269.0 1021.3,270.7 1019.0,274.0 1018.0,278.7 1017.0,283.0 1014.1,282.0 1010.0,282.0 1007.3,283.6 1004.7,285.9 1001.0,287.0 997.5,286.4 994.4,287.0 991.0,286.0 989.5,281.5 987.1,279.0 985.0,275.0 983.5,272.1 980.7,269.6 978.0,267.0 974.4,265.6 970.6,263.4 967.0,261.0 964.1,259.2 961.4,256.7 957.4,255.9 955.0,254.0 953.9,251.4 953.3,246.8 951.2,244.7 950.0,241.0 947.0,239.5 944.0,237.0 940.7,233.9 938.1,232.3 935.1,230.1 931.0,228.0 930.7,225.0 931.0,221.3 930.5,217.5 931.0,213.4 931.0,210.0 933.9,208.6 936.0,206.0 936.6,202.7 937.6,198.5 938.0,194.0 935.5,192.2 932.5,191.5 929.0,190.0 927.8,186.2 926.4,183.2 924.0,179.0 924.4,175.3 925.8,172.1 925.4,169.7 925.6,166.4 927.0,163.0 927.9,159.2 928.7,155.8 929.8,152.2 930.0,148.0 933.6,143.7"/><polygon points="1036.0,147.0 1040.1,147.1 1044.6,148.1 1048.0,149.0 1051.7,149.0 1054.0,150.4 1057.8,151.6 1060.3,151.9 1064.2,153.0 1067.0,153.0 1069.4,154.1 1073.2,154.6 1076.0,155.8 1080.5,157.1 1083.0,158.0 1085.0,161.9 1086.3,164.7 1088.0,167.9 1090.0,172.0 1089.9,175.0 1090.9,179.1 1092.0,183.0 1096.0,182.2 1098.0,180.7 1102.1,179.4 1105.7,178.6 1109.0,177.0 1112.5,178.0 1115.7,179.5 1118.0,181.0 1118.3,184.7 1118.8,189.2 1118.0,193.0 1114.7,194.1 1112.4,197.1 1109.0,198.0 1108.3,201.2 1109.8,203.8 1109.8,206.7 1110.5,210.9 1110.0,214.0 1108.5,217.9 1107.9,220.3 1107.4,224.2 1106.0,228.0 1106.0,230.7 1104.4,234.6 1103.1,238.2 1102.6,240.5 1102.0,244.0 1099.0,245.1 1096.2,246.0 1092.0,247.0 1090.9,249.9 1090.9,254.3 1089.7,257.8 1090.0,261.0 1085.9,263.0 1083.6,265.2 1080.2,265.7 1076.7,267.5 1074.0,270.0 1072.0,273.1 1069.0,277.0 1066.2,279.5 1061.3,280.8 1057.6,283.0 1055.0,284.0 1050.9,285.6 1048.6,285.4 1044.7,287.6 1042.3,288.7 1039.0,289.0 1033.0,291.0 1029.2,291.5 1025.2,292.2 1022.0,294.0 1021.0,290.0 1019.1,287.2 1017.0,283.0 1018.0,278.7 1019.0,274.0 1021.3,270.7 1023.0,269.0 1018.0,266.0 1017.0,261.3 1017.0,257.0 1019.6,254.8 1021.6,252.4 1025.4,249.0 1027.0,247.0 1029.7,244.3 1032.3,241.5 1034.0,238.0 1034.3,234.6 1034.3,230.3 1034.9,227.6 1036.0,223.0 1036.6,219.6 1037.9,217.4 1038.2,213.3 1039.3,210.5 1040.3,206.9 1040.2,204.1 1041.3,200.6 1042.0,197.6 1043.0,195.0 1042.0,191.4 1043.3,187.9 1041.9,184.8 1042.5,181.7 1040.9,179.4 1042.0,175.0 1041.0,172.0 1040.1,168.6 1038.2,165.4 1038.3,162.7 1036.2,158.9 1035.0,156.0 1034.7,150.8"/><polygon points="658.0,681.0 661.9,679.8 665.9,680.7 669.3,679.6 673.0,679.0 677.0,679.8 680.0,682.0 683.0,684.0 683.8,687.7 684.2,690.9 686.4,693.6 687.0,696.0 688.0,700.0 689.9,702.6 693.8,704.2 696.0,706.7 698.8,708.7 702.0,711.0 704.6,711.7 709.7,714.7 712.7,716.2 714.9,718.2 719.0,719.0 720.6,721.2 722.9,724.7 724.0,728.0 721.3,727.5 717.2,728.2 714.0,728.7 710.1,727.1 707.0,728.7 703.1,727.3 699.9,728.1 697.0,728.0 693.6,728.3 690.0,728.8 687.3,727.8 683.0,728.1 680.0,728.0 677.4,728.1 673.0,729.0 670.8,731.3 667.6,733.1 666.4,736.1 664.0,739.0 660.2,741.5 657.2,742.6 653.0,745.0 649.1,745.3 647.0,747.1 643.0,748.0 638.8,748.4 636.4,750.1 632.8,749.8 629.0,751.0 626.4,753.0 622.4,753.1 620.1,754.7 616.0,756.0 613.1,759.3 610.2,761.8 607.0,765.0 604.0,763.0 601.2,758.2 600.0,755.0 599.3,752.2 597.7,749.0 596.0,745.0 592.0,744.0 593.0,740.0 596.9,738.8 600.0,736.0 603.1,733.0 605.0,729.0 605.0,725.1 605.0,721.0 606.8,718.5 608.0,715.0 613.3,716.7 617.0,717.0 619.7,714.5 620.9,711.1 623.0,709.0 622.0,704.3 621.0,700.0 623.2,698.0 626.5,696.2 630.0,693.5 632.0,692.0 634.8,690.5 637.0,688.0 641.6,685.7 645.0,685.0 651.0,683.0 655.2,681.9"/><polygon points="768.0,122.0 772.1,123.8 774.6,124.8 778.6,124.8 781.0,127.0 785.1,127.9 787.6,130.4 790.8,132.1 794.0,133.0 796.7,132.2 800.3,132.3 804.2,132.4 806.1,133.4 810.0,133.0 811.5,135.8 812.0,140.0 816.0,141.4 819.7,140.7 821.9,142.2 826.0,142.0 827.7,145.2 830.0,147.0 828.9,149.5 829.8,154.3 827.7,156.3 828.0,160.0 826.3,162.2 824.9,165.5 823.0,169.0 821.7,173.5 821.0,178.0 817.4,180.4 814.0,182.0 810.0,180.4 807.1,179.2 803.0,178.0 800.8,176.9 797.9,174.0 794.0,173.0 791.0,172.6 787.4,171.1 783.5,170.6 781.0,169.0 778.8,166.0 776.1,163.6 774.0,162.0 771.5,160.3 769.2,157.1 768.2,153.7 765.2,151.8 762.4,149.4 761.0,147.0 762.3,143.9 764.1,142.3 766.8,138.5 767.7,136.9 770.3,133.9 772.0,131.0 770.3,127.4 769.7,124.3"/><polygon points="867.0,108.0 871.4,108.3 876.0,110.0 879.5,110.5 882.4,111.5 885.0,111.6 889.0,112.0 890.6,116.2 891.0,121.0 889.6,126.3 888.0,130.0 890.8,128.0 893.9,127.5 898.0,126.0 900.0,132.0 903.9,132.7 905.6,134.4 910.4,135.3 913.0,137.0 916.7,138.0 918.9,137.8 921.8,138.8 926.7,137.8 929.0,139.0 933.2,139.2 936.0,141.0 934.6,144.1 932.2,145.7 930.3,150.1 929.0,152.0 927.4,154.7 925.1,157.4 922.3,159.9 920.0,163.7 918.0,166.0 915.9,168.1 911.5,170.7 909.1,173.0 907.0,176.4 904.0,179.0 901.8,182.3 899.6,185.5 898.6,187.9 896.0,192.0 896.0,195.3 895.0,200.0 894.9,203.5 893.5,206.2 894.4,210.8 893.0,214.0 895.6,217.6 896.5,219.4 897.4,223.2 900.0,226.0 896.8,228.9 896.1,230.7 893.0,234.0 889.5,236.0 887.0,236.6 884.0,239.0 880.3,238.6 877.5,235.9 874.3,235.8 871.0,234.0 867.8,232.7 865.0,230.2 862.0,228.0 863.9,225.2 866.4,221.2 869.0,219.0 867.4,216.3 864.1,213.8 862.0,210.0 860.2,207.5 857.8,205.2 854.7,202.4 853.1,200.0 851.0,198.0 848.4,196.7 844.8,193.4 842.1,192.8 838.9,189.5 837.0,188.0 833.2,187.7 831.0,187.1 826.3,185.4 823.5,184.2 819.7,184.0 817.1,183.7 814.0,182.0 817.4,180.4 821.0,178.0 821.7,173.5 823.0,169.0 824.9,165.5 826.3,162.2 828.0,160.0 827.7,156.3 829.8,154.3 828.9,149.5 830.0,147.0 827.7,145.2 826.0,142.0 829.8,141.4 832.5,140.0 836.4,139.4 839.6,139.3 843.0,138.0 845.1,135.1 849.0,132.0 850.1,129.4 851.0,125.7 853.0,123.8 854.2,119.5 856.0,117.0 859.2,115.2 861.4,111.6 864.7,110.2"/><polygon points="516.0,141.0 519.1,139.3 521.6,139.6 525.6,138.3 529.0,137.8 530.9,136.3 534.8,135.6 538.3,134.5 541.0,134.0 545.1,132.5 547.5,129.3 552.0,128.0 555.0,128.8 558.1,128.5 562.7,127.4 564.7,128.7 569.0,128.5 572.0,128.0 575.4,130.1 577.0,131.7 580.7,132.8 584.0,135.5 586.0,137.0 588.4,135.8 591.1,134.0 594.3,131.7 597.0,130.0 601.0,129.9 604.1,128.8 607.3,126.8 610.2,127.6 614.0,126.0 616.6,126.3 620.3,125.2 623.5,124.2 627.4,123.8 630.2,122.9 634.0,123.0 637.9,121.6 639.8,120.1 644.1,118.4 647.5,115.8 650.0,114.0 654.0,117.0 654.0,120.0 655.1,122.7 657.7,125.5 657.7,129.1 660.0,132.0 658.7,135.4 655.9,138.2 654.0,140.8 652.0,144.0 651.2,147.3 651.1,150.0 649.7,154.1 648.1,156.8 648.0,160.0 647.8,162.8 647.3,167.2 648.7,170.7 647.7,173.3 647.9,176.0 648.0,180.0 646.8,182.5 645.5,186.0 645.1,189.5 645.6,193.2 644.0,196.0 641.2,199.5 640.3,200.7 638.0,204.0 633.8,202.2 630.0,202.0 627.3,203.3 624.8,204.9 621.2,205.9 618.0,208.0 617.0,210.5 616.2,214.5 616.5,217.0 614.4,220.5 614.0,224.0 612.1,226.8 610.0,230.0 608.3,227.6 606.0,224.7 603.0,223.0 599.4,222.1 596.4,221.4 593.2,219.9 590.3,217.5 586.0,217.0 582.0,216.2 579.9,215.9 575.9,214.4 573.4,213.3 570.2,213.0 565.8,213.6 563.0,212.0 559.3,212.4 557.2,210.8 554.2,211.2 550.9,210.5 547.8,210.2 544.0,208.9 540.8,208.7 536.7,208.0 534.0,208.0 531.2,206.6 527.4,206.6 525.0,204.8 521.9,204.7 518.0,204.0 517.6,200.7 516.8,196.5 517.0,192.0 515.6,189.2 514.1,186.4 511.7,182.9 510.0,181.0 507.3,178.5 503.2,178.4 500.0,176.0 501.2,171.5 501.8,169.1 502.4,165.5 501.6,160.9 502.8,157.0 503.0,154.0 505.3,150.7 507.7,149.0 510.0,145.3 513.0,143.6"/><polygon points="660.0,132.0 663.8,132.0 666.4,132.7 670.7,133.1 674.0,133.0 677.2,132.2 682.0,132.0 684.2,133.8 688.2,136.5 690.0,140.0 692.8,143.3 695.7,145.6 698.0,148.0 699.7,151.6 701.1,154.6 704.0,157.0 700.9,157.9 697.3,159.5 694.0,162.0 692.5,165.6 693.5,168.5 692.0,172.0 693.1,174.7 692.8,178.8 692.9,182.2 694.3,185.2 694.0,188.0 692.6,191.8 693.2,195.9 692.0,200.0 694.1,202.6 694.1,205.7 694.9,209.7 696.7,212.1 698.0,216.0 701.7,217.3 705.0,219.1 708.0,222.0 710.8,224.9 711.4,228.1 713.5,230.4 716.0,234.0 714.2,236.8 710.9,239.1 707.8,241.0 706.0,244.0 704.0,250.0 700.3,249.7 697.8,250.5 694.0,250.0 691.7,250.1 688.3,250.1 684.8,251.4 681.9,251.3 678.0,252.0 674.8,249.7 672.1,247.8 670.0,246.0 667.1,244.2 664.3,242.9 661.4,241.8 658.0,240.0 653.3,239.1 650.0,238.0 645.5,237.5 642.0,236.0 641.8,232.9 639.9,228.8 640.0,224.0 641.2,221.0 641.8,216.5 642.0,214.0 641.5,209.8 639.2,207.2 638.0,204.0 640.3,200.7 641.2,199.5 644.0,196.0 645.6,193.2 645.1,189.5 645.5,186.0 646.8,182.5 648.0,180.0 647.9,176.0 647.7,173.3 648.7,170.7 647.3,167.2 647.8,162.8 648.0,160.0 648.1,156.8 649.7,154.1 651.1,150.0 651.2,147.3 652.0,144.0 654.0,140.8 655.9,138.2 658.7,135.4"/><polygon points="704.0,157.0 710.0,158.0 714.3,157.1 718.7,154.8 722.0,154.0 720.6,151.1 719.0,147.0 716.4,144.7 714.0,141.0 715.7,138.4 719.3,136.8 720.4,133.3 723.0,131.0 726.2,128.4 728.6,127.6 732.2,124.8 734.4,122.4 737.0,121.0 739.9,121.4 744.0,122.3 748.6,122.1 752.0,122.0 755.3,122.1 758.4,122.2 761.7,122.1 764.4,122.7 768.0,122.0 769.7,124.3 770.3,127.4 772.0,131.0 770.3,133.9 767.7,136.9 766.8,138.5 764.1,142.3 762.3,143.9 761.0,147.0 762.4,149.4 765.2,151.8 768.2,153.7 769.2,157.1 771.5,160.3 774.0,162.0 776.1,163.6 778.8,166.0 781.0,169.0 778.2,171.9 776.4,175.3 774.0,178.0 773.4,181.4 774.4,184.8 774.9,187.6 774.9,191.6 774.0,193.8 774.0,198.0 773.2,201.4 773.7,206.0 772.7,208.8 772.0,213.0 774.8,215.5 775.7,218.6 778.2,221.1 781.7,224.3 783.0,227.0 785.0,229.0 781.5,231.1 779.1,231.8 775.1,233.5 772.0,236.0 769.6,238.8 767.2,239.9 764.4,241.6 761.0,244.0 760.2,247.6 757.7,250.5 757.2,253.7 755.0,258.0 752.7,260.7 751.2,264.4 748.6,266.6 747.4,268.8 745.0,272.0 739.0,271.0 735.9,272.3 731.6,273.0 729.0,275.0 727.6,277.7 727.0,282.0 723.3,280.4 721.0,278.0 717.9,275.4 715.0,273.8 712.0,272.0 710.8,268.4 709.6,263.6 708.0,260.0 706.7,257.1 706.0,252.5 704.0,250.0 706.0,244.0 707.8,241.0 710.9,239.1 714.2,236.8 716.0,234.0 713.5,230.4 711.4,228.1 710.8,224.9 708.0,222.0 705.0,219.1 701.7,217.3 698.0,216.0 696.7,212.1 694.9,209.7 694.1,205.7 694.1,202.6 692.0,200.0 693.2,195.9 692.6,191.8 694.0,188.0 694.3,185.2 692.9,182.2 692.8,178.8 693.1,174.7 692.0,172.0 693.5,168.5 692.5,165.6 694.0,162.0 697.3,159.5 700.9,157.9"/><polygon points="518.0,204.0 521.9,204.7 525.0,204.8 527.4,206.6 531.2,206.6 534.0,208.0 536.7,208.0 540.8,208.7 544.0,208.9 547.8,210.2 550.9,210.5 554.2,211.2 557.2,210.8 559.3,212.4 563.0,212.0 565.8,213.6 570.2,213.0 573.4,213.3 575.9,214.4 579.9,215.9 582.0,216.2 586.0,217.0 590.3,217.5 593.2,219.9 596.4,221.4 599.4,222.1 603.0,223.0 606.0,224.7 608.3,227.6 610.0,230.0 615.0,231.3 619.0,232.0 618.2,235.4 617.3,238.1 615.4,241.0 614.6,244.4 614.0,248.0 614.7,251.5 614.8,254.2 616.6,256.6 617.1,260.2 618.3,263.4 617.6,266.9 619.0,270.0 618.2,273.1 617.1,276.4 616.3,280.4 616.3,283.4 616.0,286.0 615.6,289.2 616.9,292.9 616.7,296.7 616.5,300.0 617.0,301.9 616.3,306.5 617.0,309.0 613.6,307.3 609.8,307.9 605.0,306.0 602.0,305.2 598.3,304.8 594.4,304.1 592.5,302.0 588.5,302.2 585.0,301.0 581.2,301.8 578.6,303.2 574.4,303.5 571.0,304.0 567.1,303.4 564.0,302.6 560.7,302.5 556.7,301.0 553.0,301.0 550.1,298.8 546.0,297.4 542.5,297.0 539.0,295.0 541.0,292.0 542.0,288.1 543.5,285.6 546.0,282.0 547.8,279.2 548.9,276.5 550.4,272.5 553.0,270.0 551.1,265.3 551.0,262.0 548.2,259.7 545.1,258.3 541.7,256.7 540.3,255.2 537.4,254.2 534.0,252.0 533.5,247.8 532.1,244.3 531.9,241.2 531.7,238.1 530.0,234.0 526.5,232.7 523.1,231.4 520.5,230.1 517.0,230.0 513.1,228.3 508.6,228.6 506.6,227.8 502.0,226.0 501.5,221.9 500.0,219.0 503.8,215.7 506.0,212.0 508.5,210.9 512.0,208.7 515.5,205.4"/><polygon points="610.0,230.0 612.1,226.8 614.0,224.0 614.4,220.5 616.5,217.0 616.2,214.5 617.0,210.5 618.0,208.0 621.2,205.9 624.8,204.9 627.3,203.3 630.0,202.0 633.8,202.2 638.0,204.0 639.2,207.2 641.5,209.8 642.0,214.0 641.8,216.5 641.2,221.0 640.0,224.0 639.9,228.8 641.8,232.9 642.0,236.0 645.5,237.5 650.0,238.0 653.3,239.1 658.0,240.0 661.4,241.8 664.3,242.9 667.1,244.2 670.0,246.0 672.1,247.8 674.8,249.7 678.0,252.0 681.9,251.3 684.8,251.4 688.3,250.1 691.7,250.1 694.0,250.0 697.8,250.5 700.3,249.7 704.0,250.0 706.0,252.5 706.7,257.1 708.0,260.0 709.6,263.6 710.8,268.4 712.0,272.0 709.0,275.7 707.0,278.0 703.4,278.0 699.9,279.3 696.3,279.9 693.6,280.4 690.5,281.3 687.2,282.1 682.9,282.8 680.0,283.0 675.9,286.0 672.0,288.0 669.8,291.8 668.8,295.2 667.0,298.0 664.2,300.9 662.4,304.7 660.8,307.4 659.0,311.0 654.9,311.7 653.1,313.2 648.7,312.7 646.0,314.0 642.0,312.7 639.0,312.4 635.1,312.1 632.3,310.7 629.0,311.0 625.0,309.6 620.9,309.0 617.0,309.0 616.3,306.5 617.0,301.9 616.5,300.0 616.7,296.7 616.9,292.9 615.6,289.2 616.0,286.0 616.3,283.4 616.3,280.4 617.1,276.4 618.2,273.1 619.0,270.0 617.6,266.9 618.3,263.4 617.1,260.2 616.6,256.6 614.8,254.2 614.7,251.5 614.0,248.0 614.6,244.4 615.4,241.0 617.3,238.1 618.2,235.4 619.0,232.0 615.0,231.3"/><polygon points="539.0,295.0 542.5,297.0 546.0,297.4 550.1,298.8 553.0,301.0 556.7,301.0 560.7,302.5 564.0,302.6 567.1,303.4 571.0,304.0 574.4,303.5 578.6,303.2 581.2,301.8 585.0,301.0 588.5,302.2 592.5,302.0 594.4,304.1 598.3,304.8 602.0,305.2 605.0,306.0 609.8,307.9 613.6,307.3 617.0,309.0 620.9,309.0 625.0,309.6 629.0,311.0 629.4,314.0 629.4,317.8 628.4,321.5 629.0,326.0 627.9,330.3 627.1,333.9 625.8,336.8 624.0,341.0 621.9,342.9 618.7,346.5 616.0,348.4 614.8,351.5 612.0,353.0 609.6,355.4 606.5,357.1 604.4,360.7 602.5,362.3 600.0,365.0 597.5,368.0 595.6,370.4 595.2,373.4 593.0,377.0 591.3,379.8 588.7,383.4 587.4,385.5 585.0,389.0 580.0,389.0 575.4,387.6 572.2,387.7 568.0,387.0 565.4,385.2 563.0,381.2 561.2,380.2 558.0,377.0 555.9,375.3 551.5,374.5 549.0,372.0 546.7,373.3 543.5,375.0 539.3,376.9 537.1,377.7 534.0,380.0 531.5,381.1 528.8,382.9 525.6,383.8 522.0,385.6 519.0,387.0 515.5,387.4 512.8,388.4 508.9,388.6 505.0,389.0 507.5,385.2 509.0,382.0 507.7,379.3 507.4,376.0 508.0,371.4 507.8,368.5 507.0,365.0 507.2,361.9 508.6,357.7 508.3,354.3 508.2,351.7 509.0,348.0 509.2,344.9 506.8,340.8 506.7,338.6 506.5,334.8 505.7,331.4 505.0,328.0 503.2,323.4 503.5,319.8 502.0,316.0 505.2,315.1 507.5,314.2 511.5,311.9 514.0,311.0 515.8,308.2 517.8,305.1 520.3,303.4 522.0,301.0 525.6,300.6 528.3,299.5 531.7,297.5 536.4,296.5"/><polygon points="629.0,311.0 632.3,310.7 635.1,312.1 639.0,312.4 642.0,312.7 646.0,314.0 648.7,312.7 653.1,313.2 654.9,311.7 659.0,311.0 658.7,314.2 657.0,318.0 659.0,321.0 662.3,324.7 665.0,327.0 668.0,330.3 669.4,333.7 671.3,337.0 674.0,340.0 674.6,342.8 677.1,346.0 677.7,348.9 679.0,352.0 679.8,354.7 682.0,359.0 688.0,359.0 687.4,363.3 686.0,368.0 684.6,372.0 683.0,377.0 682.2,379.7 680.0,384.0 678.0,387.0 676.0,389.5 673.7,392.5 672.0,395.0 671.0,397.0 667.6,396.7 663.6,396.3 659.0,395.6 656.0,394.0 653.6,395.7 649.2,396.8 646.8,398.1 644.4,400.2 641.0,402.0 636.7,403.7 633.5,404.0 631.4,405.6 627.0,407.0 623.6,406.3 620.3,407.2 616.6,407.7 612.0,407.0 611.0,403.0 610.0,399.5 609.0,397.0 607.0,394.0 603.7,395.2 598.5,395.4 595.0,397.0 591.8,395.3 590.4,393.9 587.8,391.5 585.0,389.0 587.4,385.5 588.7,383.4 591.3,379.8 593.0,377.0 595.2,373.4 595.6,370.4 597.5,368.0 600.0,365.0 602.5,362.3 604.4,360.7 606.5,357.1 609.6,355.4 612.0,353.0 614.8,351.5 616.0,348.4 618.7,346.5 621.9,342.9 624.0,341.0 625.8,336.8 627.1,333.9 627.9,330.3 629.0,326.0 628.4,321.5 629.4,317.8 629.4,314.0"/><polygon points="609.0,397.0 610.0,399.5 611.0,403.0 612.0,407.0 616.6,407.7 620.3,407.2 623.6,406.3 627.0,407.0 631.4,405.6 633.5,404.0 636.7,403.7 641.0,402.0 644.4,400.2 646.8,398.1 649.2,396.8 653.6,395.7 656.0,394.0 659.0,395.6 663.6,396.3 667.6,396.7 671.0,397.0 672.0,395.0 675.6,395.5 679.4,396.8 682.9,396.3 686.3,397.9 690.0,398.0 693.7,398.1 695.9,398.4 700.8,399.5 703.9,398.8 705.9,400.5 710.0,400.0 714.1,400.5 717.4,402.3 719.8,403.2 724.0,403.7 727.0,405.0 729.2,407.2 732.3,410.2 734.2,411.9 737.0,415.0 733.3,416.3 731.7,418.0 727.7,419.8 725.3,421.8 722.0,424.0 719.4,425.9 717.0,429.0 720.1,428.5 723.7,427.3 727.2,424.6 730.7,424.5 733.8,422.4 737.0,422.0 739.6,421.1 744.3,419.3 746.7,416.9 750.8,416.2 754.0,415.0 758.0,414.8 761.9,414.5 765.6,414.8 769.0,415.0 770.0,420.0 771.0,424.0 772.9,427.0 774.2,430.1 775.2,433.2 776.8,436.3 777.8,439.0 779.0,442.0 780.0,445.8 781.9,448.6 784.2,453.3 786.0,456.0 785.7,459.5 785.6,464.1 785.8,467.9 786.0,471.0 789.1,472.9 792.2,475.3 794.0,479.3 797.0,481.0 794.8,478.6 790.6,477.2 789.4,476.6 786.3,474.5 783.0,473.0 779.5,472.9 775.9,470.8 772.3,470.2 768.8,469.6 766.0,469.0 762.3,469.5 758.8,470.2 755.5,471.7 752.0,473.0 749.1,474.5 745.3,477.1 743.0,478.2 740.8,480.3 737.0,483.0 733.4,484.0 729.0,483.8 726.3,484.5 722.0,486.0 717.6,484.0 714.9,484.0 711.8,482.5 708.0,481.0 705.1,477.9 703.4,476.2 700.0,473.0 700.4,469.3 701.1,464.8 703.0,461.0 699.8,461.1 696.4,463.8 693.0,464.0 689.5,464.6 686.3,464.4 683.6,463.3 680.2,463.2 676.0,463.9 673.0,464.0 668.9,466.0 666.0,469.0 663.3,469.7 659.4,471.4 656.0,473.0 652.2,473.5 650.5,475.4 646.2,475.4 643.6,477.0 640.0,477.0 638.2,474.8 635.6,470.5 633.0,468.0 630.6,464.2 630.2,461.6 628.4,458.7 627.1,456.9 625.0,453.0 624.2,450.0 622.1,446.0 621.0,441.0 620.0,438.0 616.9,435.0 616.4,431.4 613.3,429.5 611.5,426.2 609.0,423.0 608.4,420.2 609.4,417.0 609.0,413.7 608.3,410.5 609.1,405.9 609.0,403.8 608.9,400.5"/><polygon points="936.0,141.0 933.6,143.7 930.0,148.0 929.8,152.2 928.7,155.8 927.9,159.2 927.0,163.0 925.6,166.4 925.4,169.7 925.8,172.1 924.4,175.3 924.0,179.0 926.4,183.2 927.8,186.2 929.0,190.0 932.5,191.5 935.5,192.2 938.0,194.0 937.6,198.5 936.6,202.7 936.0,206.0 933.9,208.6 931.0,210.0 931.0,213.4 930.5,217.5 931.0,221.3 930.7,225.0 931.0,228.0 935.1,230.1 938.1,232.3 940.7,233.9 944.0,237.0 947.0,239.5 950.0,241.0 951.2,244.7 953.3,246.8 953.9,251.4 955.0,254.0 957.4,255.9 961.4,256.7 964.1,259.2 967.0,261.0 970.6,263.4 974.4,265.6 978.0,267.0 980.7,269.6 983.5,272.1 985.0,275.0 987.1,279.0 989.5,281.5 991.0,286.0 994.4,287.0 997.5,286.4 1001.0,287.0 1004.7,285.9 1007.3,283.6 1010.0,282.0 1014.1,282.0 1017.0,283.0 1019.1,287.2 1021.0,290.0 1020.0,295.1 1019.0,299.0 1016.1,303.2 1015.0,307.0 1012.4,309.5 1010.0,313.0 1006.2,314.1 1001.4,314.2 998.0,315.0 996.1,313.1 992.0,311.9 990.0,309.0 987.4,306.4 984.2,305.3 980.1,303.6 977.0,302.0 972.7,300.9 969.2,299.0 966.1,298.4 963.0,297.0 960.2,297.0 956.7,296.0 953.0,295.0 951.4,298.8 949.5,300.5 946.7,303.9 945.0,307.0 942.2,307.8 937.2,310.0 933.9,311.4 931.0,312.0 927.5,311.9 925.4,313.6 921.0,313.8 918.0,314.0 915.5,315.1 911.6,315.2 907.2,315.2 904.8,315.7 901.0,317.0 897.6,319.4 895.0,321.2 891.4,322.5 887.7,323.9 885.3,325.2 882.1,326.4 879.0,329.0 875.5,327.5 872.3,326.2 869.0,324.0 865.4,321.8 863.8,319.6 860.1,317.4 856.6,315.2 854.0,314.0 850.0,310.0 846.9,306.1 845.6,303.0 843.0,300.0 842.8,295.7 842.5,292.0 841.0,288.0 844.7,286.0 847.0,282.6 850.0,281.0 850.8,278.4 852.6,274.9 855.0,271.0 856.5,268.1 856.8,265.7 858.2,261.2 860.0,259.0 860.5,255.7 861.3,252.8 862.6,249.9 864.0,246.0 863.9,243.2 861.4,240.1 861.0,236.0 861.2,232.0 862.0,228.0 865.0,230.2 867.8,232.7 871.0,234.0 874.3,235.8 877.5,235.9 880.3,238.6 884.0,239.0 887.0,236.6 889.5,236.0 893.0,234.0 896.1,230.7 896.8,228.9 900.0,226.0 897.4,223.2 896.5,219.4 895.6,217.6 893.0,214.0 894.4,210.8 893.5,206.2 894.9,203.5 895.0,200.0 896.0,195.3 896.0,192.0 898.6,187.9 899.6,185.5 901.8,182.3 904.0,179.0 907.0,176.4 909.1,173.0 911.5,170.7 915.9,168.1 918.0,166.0 920.0,163.7 922.3,159.9 925.1,157.4 927.4,154.7 929.0,152.0 930.3,150.1 932.2,145.7 934.6,144.1"/><polygon points="1118.0,193.0 1120.9,193.8 1124.3,193.7 1128.7,192.8 1132.0,193.0 1133.7,198.1 1134.0,202.0 1137.3,203.1 1139.7,203.9 1143.7,205.1 1146.0,207.0 1150.2,208.1 1153.8,207.7 1157.6,208.9 1160.8,208.9 1165.0,209.0 1165.5,212.5 1165.9,214.9 1165.0,219.0 1163.1,222.4 1161.2,224.8 1158.0,228.0 1159.7,233.4 1160.0,237.0 1162.9,239.0 1166.9,240.1 1168.9,240.1 1172.0,242.0 1174.8,243.8 1178.8,245.2 1180.9,245.9 1184.1,247.2 1188.0,249.0 1185.1,251.7 1181.8,254.0 1179.8,255.3 1178.1,258.2 1175.0,261.0 1172.0,263.0 1169.9,264.6 1166.0,266.5 1163.6,269.6 1159.3,271.1 1157.0,273.0 1154.7,274.7 1151.0,277.0 1149.3,278.7 1145.8,282.3 1143.5,283.2 1141.1,286.4 1139.6,288.3 1137.0,291.0 1134.2,292.3 1130.7,292.9 1126.6,292.9 1123.4,294.6 1120.5,294.7 1116.0,296.2 1113.0,297.0 1112.1,293.9 1108.8,291.3 1107.4,289.0 1106.0,286.0 1103.6,282.6 1100.8,280.5 1099.0,277.8 1097.0,275.0 1095.9,271.2 1094.2,269.6 1094.1,265.6 1092.0,263.0 1090.0,261.0 1089.7,257.8 1090.9,254.3 1090.9,249.9 1092.0,247.0 1096.2,246.0 1099.0,245.1 1102.0,244.0 1102.6,240.5 1103.1,238.2 1104.4,234.6 1106.0,230.7 1106.0,228.0 1107.4,224.2 1107.9,220.3 1108.5,217.9 1110.0,214.0 1110.5,210.9 1109.8,206.7 1109.8,203.8 1108.3,201.2 1109.0,198.0 1112.4,197.1 1114.7,194.1"/><polygon points="793.0,158.0 797.7,157.2 801.0,157.0 804.1,159.1 807.6,160.5 811.0,161.0 812.2,164.0 812.0,168.0 806.0,169.0 802.7,167.5 798.0,166.0 795.7,163.1 793.0,162.0"/><polygon points="659.0,311.0 660.8,307.4 662.4,304.7 664.2,300.9 667.0,298.0 668.8,295.2 669.8,291.8 672.0,288.0 675.9,286.0 680.0,283.0 682.9,282.8 687.2,282.1 690.5,281.3 693.6,280.4 696.3,279.9 699.9,279.3 703.4,278.0 707.0,278.0 709.0,275.7 712.0,272.0 715.0,273.8 717.9,275.4 721.0,278.0 723.3,280.4 727.0,282.0 727.6,277.7 729.0,275.0 731.6,273.0 735.9,272.3 739.0,271.0 745.0,272.0 747.5,275.6 750.1,277.9 753.3,280.4 756.0,283.0 757.1,287.0 757.0,290.0 759.0,291.7 763.2,295.0 765.0,297.0 761.4,299.1 758.6,301.0 756.4,303.1 753.7,304.0 750.8,306.4 746.7,308.4 744.2,308.4 741.0,311.0 737.6,313.3 733.0,315.0 730.9,317.4 728.5,321.0 725.0,323.0 721.9,326.5 719.6,327.9 716.0,331.0 715.5,335.2 713.2,338.7 712.0,342.0 708.5,344.9 707.4,346.8 703.2,347.4 701.0,350.0 697.6,351.8 696.0,355.0 692.9,356.9 688.0,359.0 682.0,359.0 679.8,354.7 679.0,352.0 677.7,348.9 677.1,346.0 674.6,342.8 674.0,340.0 671.3,337.0 669.4,333.7 668.0,330.3 665.0,327.0 662.3,324.7 659.0,321.0 657.0,318.0 658.7,314.2"/><polygon points="785.0,229.0 788.9,230.8 794.0,231.0 796.7,227.2 799.0,224.0 803.1,223.6 806.2,224.5 809.6,223.4 812.0,224.0 814.9,223.2 818.9,221.9 822.4,220.0 826.0,218.0 830.6,220.4 834.0,222.0 837.1,224.9 838.0,227.7 840.2,229.8 843.0,233.0 846.7,234.3 849.6,236.9 852.0,238.0 856.6,236.6 861.0,236.0 861.4,240.1 863.9,243.2 864.0,246.0 862.6,249.9 861.3,252.8 860.5,255.7 860.0,259.0 858.2,261.2 856.8,265.7 856.5,268.1 855.0,271.0 852.6,274.9 850.8,278.4 850.0,281.0 847.0,282.6 844.7,286.0 841.0,288.0 842.5,292.0 842.8,295.7 843.0,300.0 845.6,303.0 846.9,306.1 850.0,310.0 848.0,315.0 843.9,315.2 840.8,317.7 836.0,318.0 831.8,317.1 827.7,318.5 825.4,318.0 821.0,318.0 819.3,316.3 816.5,313.5 813.0,312.4 811.0,310.0 808.7,308.9 805.6,306.8 803.5,303.2 800.0,302.0 796.8,301.8 793.0,301.0 790.5,299.3 787.0,297.0 783.0,296.8 779.9,299.2 776.0,299.0 771.7,299.1 767.8,298.1 765.0,297.0 763.2,295.0 759.0,291.7 757.0,290.0 757.1,287.0 756.0,283.0 753.3,280.4 750.1,277.9 747.5,275.6 745.0,272.0 747.4,268.8 748.6,266.6 751.2,264.4 752.7,260.7 755.0,258.0 757.2,253.7 757.7,250.5 760.2,247.6 761.0,244.0 764.4,241.6 767.2,239.9 769.6,238.8 772.0,236.0 775.1,233.5 779.1,231.8 781.5,231.1"/><polygon points="688.0,359.0 692.9,356.9 696.0,355.0 697.6,351.8 701.0,350.0 703.2,347.4 707.4,346.8 708.5,344.9 712.0,342.0 713.2,338.7 715.5,335.2 716.0,331.0 719.6,327.9 721.9,326.5 725.0,323.0 728.5,321.0 730.9,317.4 733.0,315.0 737.6,313.3 741.0,311.0 742.9,313.1 746.0,315.6 749.0,318.0 749.8,322.1 752.0,326.0 750.3,329.3 750.9,332.6 749.1,336.0 747.8,340.0 747.9,343.1 747.0,347.0 748.0,351.1 750.7,353.6 752.0,357.0 755.2,359.8 757.0,363.0 760.2,366.3 762.5,368.0 765.0,371.0 767.5,374.4 768.6,378.7 771.0,382.0 771.9,385.4 772.0,390.0 771.9,394.2 773.0,398.0 774.2,401.6 774.0,404.7 775.0,408.0 771.3,410.9 769.0,415.0 765.6,414.8 761.9,414.5 758.0,414.8 754.0,415.0 750.8,416.2 746.7,416.9 744.3,419.3 739.6,421.1 737.0,422.0 733.8,422.4 730.7,424.5 727.2,424.6 723.7,427.3 720.1,428.5 717.0,429.0 719.4,425.9 722.0,424.0 725.3,421.8 727.7,419.8 731.7,418.0 733.3,416.3 737.0,415.0 734.2,411.9 732.3,410.2 729.2,407.2 727.0,405.0 724.0,403.7 719.8,403.2 717.4,402.3 714.1,400.5 710.0,400.0 705.9,400.5 703.9,398.8 700.8,399.5 695.9,398.4 693.7,398.1 690.0,398.0 686.3,397.9 682.9,396.3 679.4,396.8 675.6,395.5 672.0,395.0 673.7,392.5 676.0,389.5 678.0,387.0 680.0,384.0 682.2,379.7 683.0,377.0 684.6,372.0 686.0,368.0 687.4,363.3"/><polygon points="765.0,297.0 767.8,298.1 771.7,299.1 776.0,299.0 779.9,299.2 783.0,296.8 787.0,297.0 790.5,299.3 793.0,301.0 796.8,301.8 800.0,302.0 803.5,303.2 805.6,306.8 808.7,308.9 811.0,310.0 813.0,312.4 816.5,313.5 819.3,316.3 821.0,318.0 825.4,318.0 827.7,318.5 831.8,317.1 836.0,318.0 840.8,317.7 843.9,315.2 848.0,315.0 850.0,310.0 854.0,314.0 856.6,315.2 860.1,317.4 863.8,319.6 865.4,321.8 869.0,324.0 872.3,326.2 875.5,327.5 879.0,329.0 881.6,331.8 884.0,336.0 883.3,338.8 882.9,342.4 882.0,346.0 881.8,349.4 882.8,353.7 884.0,358.0 881.9,360.8 878.4,365.4 877.0,368.0 874.4,371.9 872.9,373.8 872.1,378.5 870.0,381.0 867.3,379.9 865.0,377.0 863.7,373.5 861.2,370.2 860.0,367.4 858.0,365.0 853.8,363.6 851.2,363.5 847.2,362.1 843.7,361.6 841.0,360.0 838.0,361.5 834.1,362.1 830.2,363.0 826.0,365.0 823.1,367.9 819.4,370.1 817.7,371.8 814.0,374.0 810.6,375.4 808.0,376.8 805.2,377.7 802.0,379.0 800.2,382.5 797.3,383.8 794.0,387.0 792.9,390.5 790.7,393.3 789.2,395.7 787.0,399.0 784.8,400.7 780.9,402.6 778.4,404.1 775.0,406.0 775.0,408.0 774.0,404.7 774.2,401.6 773.0,398.0 771.9,394.2 772.0,390.0 771.9,385.4 771.0,382.0 768.6,378.7 767.5,374.4 765.0,371.0 762.5,368.0 760.2,366.3 757.0,363.0 755.2,359.8 752.0,357.0 750.7,353.6 748.0,351.1 747.0,347.0 747.9,343.1 747.8,340.0 749.1,336.0 750.9,332.6 750.3,329.3 752.0,326.0 749.8,322.1 749.0,318.0 746.0,315.6 742.9,313.1 741.0,311.0 744.2,308.4 746.7,308.4 750.8,306.4 753.7,304.0 756.4,303.1 758.6,301.0 761.4,299.1"/><polygon points="775.0,406.0 778.4,404.1 780.9,402.6 784.8,400.7 787.0,399.0 789.2,395.7 790.7,393.3 792.9,390.5 794.0,387.0 797.3,383.8 800.2,382.5 802.0,379.0 805.2,377.7 808.0,376.8 810.6,375.4 814.0,374.0 817.7,371.8 819.4,370.1 823.1,367.9 826.0,365.0 830.2,363.0 834.1,362.1 838.0,361.5 841.0,360.0 843.7,361.6 847.2,362.1 851.2,363.5 853.8,363.6 858.0,365.0 860.0,367.4 861.2,370.2 863.7,373.5 865.0,377.0 867.3,379.9 870.0,381.0 872.5,383.0 874.8,385.8 875.4,388.2 878.4,391.7 880.0,394.0 882.3,395.8 885.4,399.8 888.8,400.7 892.0,404.0 895.3,407.2 897.0,409.0 899.5,410.5 902.8,413.7 905.4,415.7 907.0,418.0 909.3,420.9 912.0,423.0 910.9,427.3 909.3,430.8 908.9,433.8 907.0,438.0 906.3,441.9 904.2,445.0 904.0,448.0 901.8,450.5 899.8,452.1 896.6,455.9 895.0,458.0 894.2,460.9 892.2,463.2 891.0,467.0 891.1,469.7 891.0,474.0 887.6,475.6 886.0,478.1 883.3,479.4 880.2,479.5 877.0,482.0 874.2,483.6 869.5,483.5 865.7,483.6 863.0,485.0 859.6,484.6 854.4,482.5 851.0,482.0 847.8,484.1 843.0,487.0 839.3,488.3 835.1,489.1 831.0,489.0 827.9,488.6 824.8,487.1 821.0,487.0 817.3,486.6 812.9,485.4 809.0,485.0 805.8,482.8 801.3,482.7 797.0,481.0 794.0,479.3 792.2,475.3 789.1,472.9 786.0,471.0 785.8,467.9 785.6,464.1 785.7,459.5 786.0,456.0 784.2,453.3 781.9,448.6 780.0,445.8 779.0,442.0 777.8,439.0 776.8,436.3 775.2,433.2 774.2,430.1 772.9,427.0 771.0,424.0 770.0,420.0 769.0,415.0 771.7,411.2 773.0,408.4"/><polygon points="797.0,481.0 801.3,482.7 805.8,482.8 809.0,485.0 812.9,485.4 817.3,486.6 821.0,487.0 824.8,487.1 827.9,488.6 831.0,489.0 835.1,489.1 839.3,488.3 843.0,487.0 847.8,484.1 851.0,482.0 854.4,482.5 859.6,484.6 863.0,485.0 865.7,483.6 869.5,483.5 874.2,483.6 877.0,482.0 880.2,479.5 883.3,479.4 886.0,478.1 887.6,475.6 891.0,474.0 893.1,475.1 897.4,475.9 899.7,478.1 903.0,479.0 906.9,481.0 909.9,481.3 912.3,482.3 916.0,484.0 915.3,487.5 913.7,489.7 911.6,493.2 911.0,496.8 910.0,500.0 911.3,504.4 911.4,507.4 912.0,511.0 914.3,513.0 917.4,515.3 920.7,516.0 924.0,518.0 928.4,519.2 932.0,521.0 932.6,524.6 932.7,528.2 932.5,531.7 933.0,536.0 931.7,539.3 929.8,541.6 927.0,545.0 923.9,544.6 920.7,542.7 918.1,541.0 914.0,540.0 910.2,541.8 905.4,542.7 902.0,544.0 900.2,546.8 896.9,550.0 895.0,552.0 894.9,555.8 893.6,558.3 893.5,562.5 892.1,564.8 892.0,569.0 889.8,572.1 887.0,576.0 882.7,574.6 879.7,574.2 875.0,574.0 871.3,575.8 867.5,577.1 865.2,577.5 861.7,578.9 858.0,581.0 854.5,582.5 852.8,585.4 849.2,586.2 846.4,589.6 843.0,591.0 840.3,592.6 837.8,596.4 835.4,598.6 833.6,601.8 830.5,604.3 829.0,606.0 824.6,604.8 822.3,604.5 818.4,603.9 814.0,603.0 814.6,599.4 816.6,596.2 818.3,593.5 820.2,589.6 821.0,586.0 819.9,582.0 818.1,579.6 816.0,575.6 816.2,572.3 814.0,569.0 810.0,565.8 807.0,564.0 804.6,559.7 803.0,557.0 800.8,553.4 800.0,550.0 801.3,545.8 800.1,542.6 800.9,539.0 802.0,536.0 799.4,532.4 797.3,530.6 795.9,527.1 794.8,524.3 792.0,521.0 793.1,517.8 792.8,513.9 792.6,510.0 793.3,505.3 794.0,502.0 794.8,499.1 797.3,493.7 797.8,490.0 799.0,487.0"/><polygon points="656.0,473.0 659.4,471.4 663.3,469.7 666.0,469.0 668.9,466.0 673.0,464.0 676.0,463.9 680.2,463.2 683.6,463.3 686.3,464.4 689.5,464.6 693.0,464.0 696.4,463.8 699.8,461.1 703.0,461.0 701.1,464.8 700.4,469.3 700.0,473.0 703.4,476.2 705.1,477.9 708.0,481.0 711.8,482.5 714.9,484.0 717.6,484.0 722.0,486.0 726.3,484.5 729.0,483.8 733.4,484.0 737.0,483.0 740.8,480.3 743.0,478.2 745.3,477.1 749.1,474.5 752.0,473.0 755.5,471.7 758.8,470.2 762.3,469.5 766.0,469.0 768.8,469.6 772.3,470.2 775.9,470.8 779.5,472.9 783.0,473.0 786.3,474.5 789.4,476.6 790.6,477.2 794.8,478.6 797.0,481.0 799.0,487.0 797.8,490.0 797.3,493.7 794.8,499.1 794.0,502.0 793.3,505.3 792.6,510.0 792.8,513.9 793.1,517.8 792.0,521.0 794.8,524.3 795.9,527.1 797.3,530.6 799.4,532.4 802.0,536.0 800.9,539.0 800.1,542.6 801.3,545.8 800.0,550.0 800.8,553.4 803.0,557.0 800.7,559.4 796.3,561.3 794.8,563.1 791.0,564.0 788.6,563.5 783.9,564.3 780.5,565.2 776.8,565.9 774.4,565.0 771.0,566.0 768.4,566.0 764.4,567.7 760.6,568.1 757.0,567.5 754.5,568.1 750.9,567.8 747.0,569.0 743.3,570.1 739.2,570.8 736.4,571.6 733.2,572.1 729.4,573.3 726.1,572.7 722.0,574.0 719.2,572.9 715.6,573.2 713.1,572.3 709.5,572.1 705.3,572.4 703.0,571.0 700.3,570.5 697.0,571.0 692.1,571.2 689.0,571.6 687.0,571.9 683.0,571.0 678.8,568.4 675.1,566.9 673.0,566.4 669.0,564.0 666.0,561.3 664.6,560.7 661.1,558.2 659.4,556.1 656.7,553.3 654.0,552.0 650.9,550.8 647.9,548.1 644.2,546.5 640.4,545.0 637.0,542.9 634.0,542.0 637.0,537.0 638.7,533.8 638.8,529.1 641.6,525.2 642.0,522.0 640.8,518.0 640.8,514.2 639.0,510.0 641.1,507.6 644.2,506.0 647.0,503.0 650.3,500.2 653.2,497.4 656.9,495.1 659.0,493.0 658.3,490.0 658.5,486.5 657.4,482.2 657.9,479.8 656.1,476.2"/><polygon points="896.0,409.0 898.0,405.8 901.4,404.0 904.0,402.0 907.9,402.8 911.0,405.0 913.9,407.0 915.2,410.5 918.0,412.0 917.3,415.7 916.0,419.0 911.1,419.0 907.2,418.6 904.0,419.0 902.2,415.8 899.2,414.6 898.6,412.3"/>
<ellipse cx="98" cy="840" rx="10" ry="9" fill="#eef2fc"/>
<ellipse cx="233" cy="871" rx="20" ry="21" fill="#eef2fc"/>
</g>
<g fill="#111"><circle cx="1217" cy="485" r="3"/><circle cx="422" cy="751" r="2"/><circle cx="420" cy="760" r="1.5"/><circle cx="1062" cy="425" r="1.5"/><circle cx="229" cy="661" r="1.5"/><circle cx="219" cy="665" r="1.5"/><circle cx="785" cy="862" r="2"/></g>
<path d="M598 807 Q599 801 603 802 Q606 803 608 802" fill="none" stroke="#111" stroke-width="2"/>
<path d="M478 678 L482 668 L484 675 L490 669 L486 680 Z M466 677 L467 671 L469 677Z" fill="#111" stroke="#111" stroke-width="1"/>
<g font-family="Liberation Sans, sans-serif" font-size="16" letter-spacing="-0.6" stroke-width="0.35" text-anchor="middle"><text x="403" y="119" fill="#383838" stroke="#383838">1.8%</text><text x="473" y="134" fill="#383838" stroke="#383838">2.3%</text><text x="398" y="185" fill="#383838" stroke="#383838">2.3%</text><text x="459" y="210" fill="#383838" stroke="#383838">2.8%</text><text x="575" y="112" fill="#383838" stroke="#383838">1.8%</text><text x="709" y="124" fill="#2e4a5e" stroke="#2e4a5e">3.2%</text><text x="791" y="121" fill="#2e4a5e" stroke="#2e4a5e">3.9%</text><text x="836" y="130" fill="#383838" stroke="#383838">2.8%</text><text x="799" y="158" fill="#114a70" stroke="#114a70">7.2%</text><text x="873" y="173" fill="#114a70" stroke="#114a70">5.8%</text><text x="814" y="212" fill="#2e4a5e" stroke="#2e4a5e">3.3%</text><text x="581" y="175" fill="#114a70" stroke="#114a70">7.0%</text><text x="672" y="201" fill="#114a70" stroke="#114a70">6.4%</text><text x="739" y="203" fill="#114a70" stroke="#114a70">5.3%</text><text x="570" y="259" fill="#114a70" stroke="#114a70">5.9%</text><text x="649" y="270" fill="#114a70" stroke="#114a70">6.0%</text><text x="810" y="273" fill="#0c3f6e" stroke="#0c3f6e">14.2%</text><text x="985" y="215" fill="#2e4a5e" stroke="#2e4a5e">4.1%</text><text x="1064" y="226" fill="#2e4a5e" stroke="#2e4a5e">3.7%</text><text x="1178" y="211" fill="#383838" stroke="#383838">2.5%</text><text x="1132" y="252" fill="#114a70" stroke="#114a70">7.1%</text><text x="917" y="272" fill="#114a70" stroke="#114a70">5.3%</text><text x="1051" y="318" fill="#383838" stroke="#383838">1.6%</text><text x="561" y="346" fill="#114a70" stroke="#114a70">7.9%</text><text x="706" y="315" fill="#0c3f6e" stroke="#0c3f6e">12.6%</text><text x="641" y="371" fill="#114a70" stroke="#114a70">6.9%</text><text x="729" y="378" fill="#0c3f6e" stroke="#0c3f6e">11.3%</text><text x="808" y="349" fill="#0c3f6e" stroke="#0c3f6e">10.9%</text><text x="937" y="361" fill="#2e4a5e" stroke="#2e4a5e">3.3%</text><text x="986" y="400" fill="#383838" stroke="#383838">2.8%</text><text x="551" y="448" fill="#2e4a5e" stroke="#2e4a5e">3.7%</text><text x="696" y="444" fill="#114a70" stroke="#114a70">9.3%</text><text x="840" y="435" fill="#0c3f6e" stroke="#0c3f6e">13.5%</text><text x="941" y="483" fill="#383838" stroke="#383838">2.3%</text><text x="548" y="543" fill="#383838" stroke="#383838">2.6%</text><text x="720" y="526" fill="#0c3f6e" stroke="#0c3f6e">11.1%</text><text x="856" y="536" fill="#0c3f6e" stroke="#0c3f6e">11.6%</text><text x="959" y="567" fill="#383838" stroke="#383838">2.7%</text><text x="646" y="614" fill="#383838" stroke="#383838">2.4%</text><text x="747" y="613" fill="#2e4a5e" stroke="#2e4a5e">3.6%</text><text x="894" y="613" fill="#383838" stroke="#383838">1.4%</text><text x="494" y="648" fill="#383838" stroke="#383838">1.5%</text><text x="578" y="665" fill="#383838" stroke="#383838">2.3%</text><text x="760" y="680" fill="#383838" stroke="#383838">2.4%</text><text x="829" y="690" fill="#383838" stroke="#383838">1.8%</text><text x="649" y="725" fill="#2e4a5e" stroke="#2e4a5e">4.4%</text><text x="570" y="747" fill="#383838" stroke="#383838">1.7%</text><text x="602" y="810" fill="#383838" stroke="#383838">1.4%</text><text x="785" y="868" fill="#383838" stroke="#383838">1.9%</text><text x="1211" y="452" fill="#383838" stroke="#383838">2.4%</text><text x="117" y="828" fill="#383838" stroke="#383838">2.1%</text><text x="325" y="846" fill="#383838" stroke="#383838">1.4%</text></g>
</svg>
<svg style="position:absolute;left:0;top:0" width="1600" height="900"><g stroke="#0b1838" stroke-width="2.2"><rect x="1227" y="761.00" width="74" height="23.05" fill="#0a4cac"/><rect x="1227" y="784.05" width="74" height="23.05" fill="#0680d0"/><rect x="1227" y="807.10" width="74" height="23.05" fill="#2aaedd"/><rect x="1227" y="830.15" width="74" height="23.05" fill="#b0d7e8"/><rect x="1227" y="853.20" width="74" height="23.05" fill="#eef2fc"/></g></svg><div style="position:absolute;left:1100px;width:117px;text-align:right;top:760px;height:23px;line-height:23px;font-size:22px;color:#111">15 - 20</div><div style="position:absolute;left:1100px;width:117px;text-align:right;top:783px;height:23px;line-height:23px;font-size:22px;color:#111">10 - 15</div><div style="position:absolute;left:1100px;width:117px;text-align:right;top:806px;height:23px;line-height:23px;font-size:22px;color:#111">5 - 10</div><div style="position:absolute;left:1100px;width:117px;text-align:right;top:829px;height:23px;line-height:23px;font-size:22px;color:#111">3 - 5</div><div style="position:absolute;left:1100px;width:117px;text-align:right;top:852px;height:23px;line-height:23px;font-size:22px;color:#111">0 - 3</div>
<svg style="position:absolute;left:1400px;top:690px" width="200" height="210" viewBox="0 0 200 210">
<path d="M72 18 Q44 46 72 74" fill="none" stroke="#111" stroke-width="5"/>
<path d="M138 18 Q166 46 138 74" fill="none" stroke="#111" stroke-width="5"/>
<rect x="93" y="12" width="24" height="68" fill="#a9a9a9"/>
<rect x="71" y="35" width="69" height="22" fill="#a9a9a9"/>
<rect x="159" y="12" width="7" height="22" fill="#a9a9a9"/>
<rect x="152" y="19" width="22" height="7" fill="#a9a9a9"/>
</svg>
<div style="position:absolute;left:1418px;top:784px;font-size:16px;font-weight:bold;color:#111;white-space:nowrap;letter-spacing:0.1px">Consejo Interterritorial</div>
<div style="position:absolute;left:1419px;top:804px;font-size:10px;color:#111;white-space:nowrap;letter-spacing:1.02px;-webkit-text-stroke:0.25px #111">SISTEMA NACIONAL DE SALUD</div>
<svg style="position:absolute;left:1404px;top:826px" width="196" height="74" viewBox="0 0 196 74">
<g fill="#7ab2cf"><ellipse cx="26" cy="15" rx="4.5" ry="3.5"/><ellipse cx="71" cy="15" rx="4.5" ry="3.5"/><ellipse cx="87" cy="15" rx="4.5" ry="3.5"/></g>
<g fill="none" stroke="#7ab2cf" stroke-linecap="round">
<path d="M30 34 Q22 48 14 60" stroke-width="6"/><path d="M6 44 Q18 35 31 33" stroke-width="3"/>
<path d="M58 16 Q46 11 43 22 Q41 31 50 38 Q58 46 51 55 Q44 62 34 57" stroke-width="5"/>
<path d="M78 36 Q64 29 58 43 Q53 57 68 58" stroke-width="5"/>
</g>
<rect x="100" y="10" width="84" height="55" fill="#1b74a3"/>
<g fill="#fff"><circle cx="113" cy="21" r="2.6"/><circle cx="121" cy="21" r="2.6"/><circle cx="129" cy="21" r="2.6"/>
<text x="104" y="58" font-family="Liberation Serif" font-style="italic" font-weight="bold" font-size="60" transform="translate(104 0) scale(0.78 1) translate(-104 0)">cne</text></g>
</svg>
</body></html>
